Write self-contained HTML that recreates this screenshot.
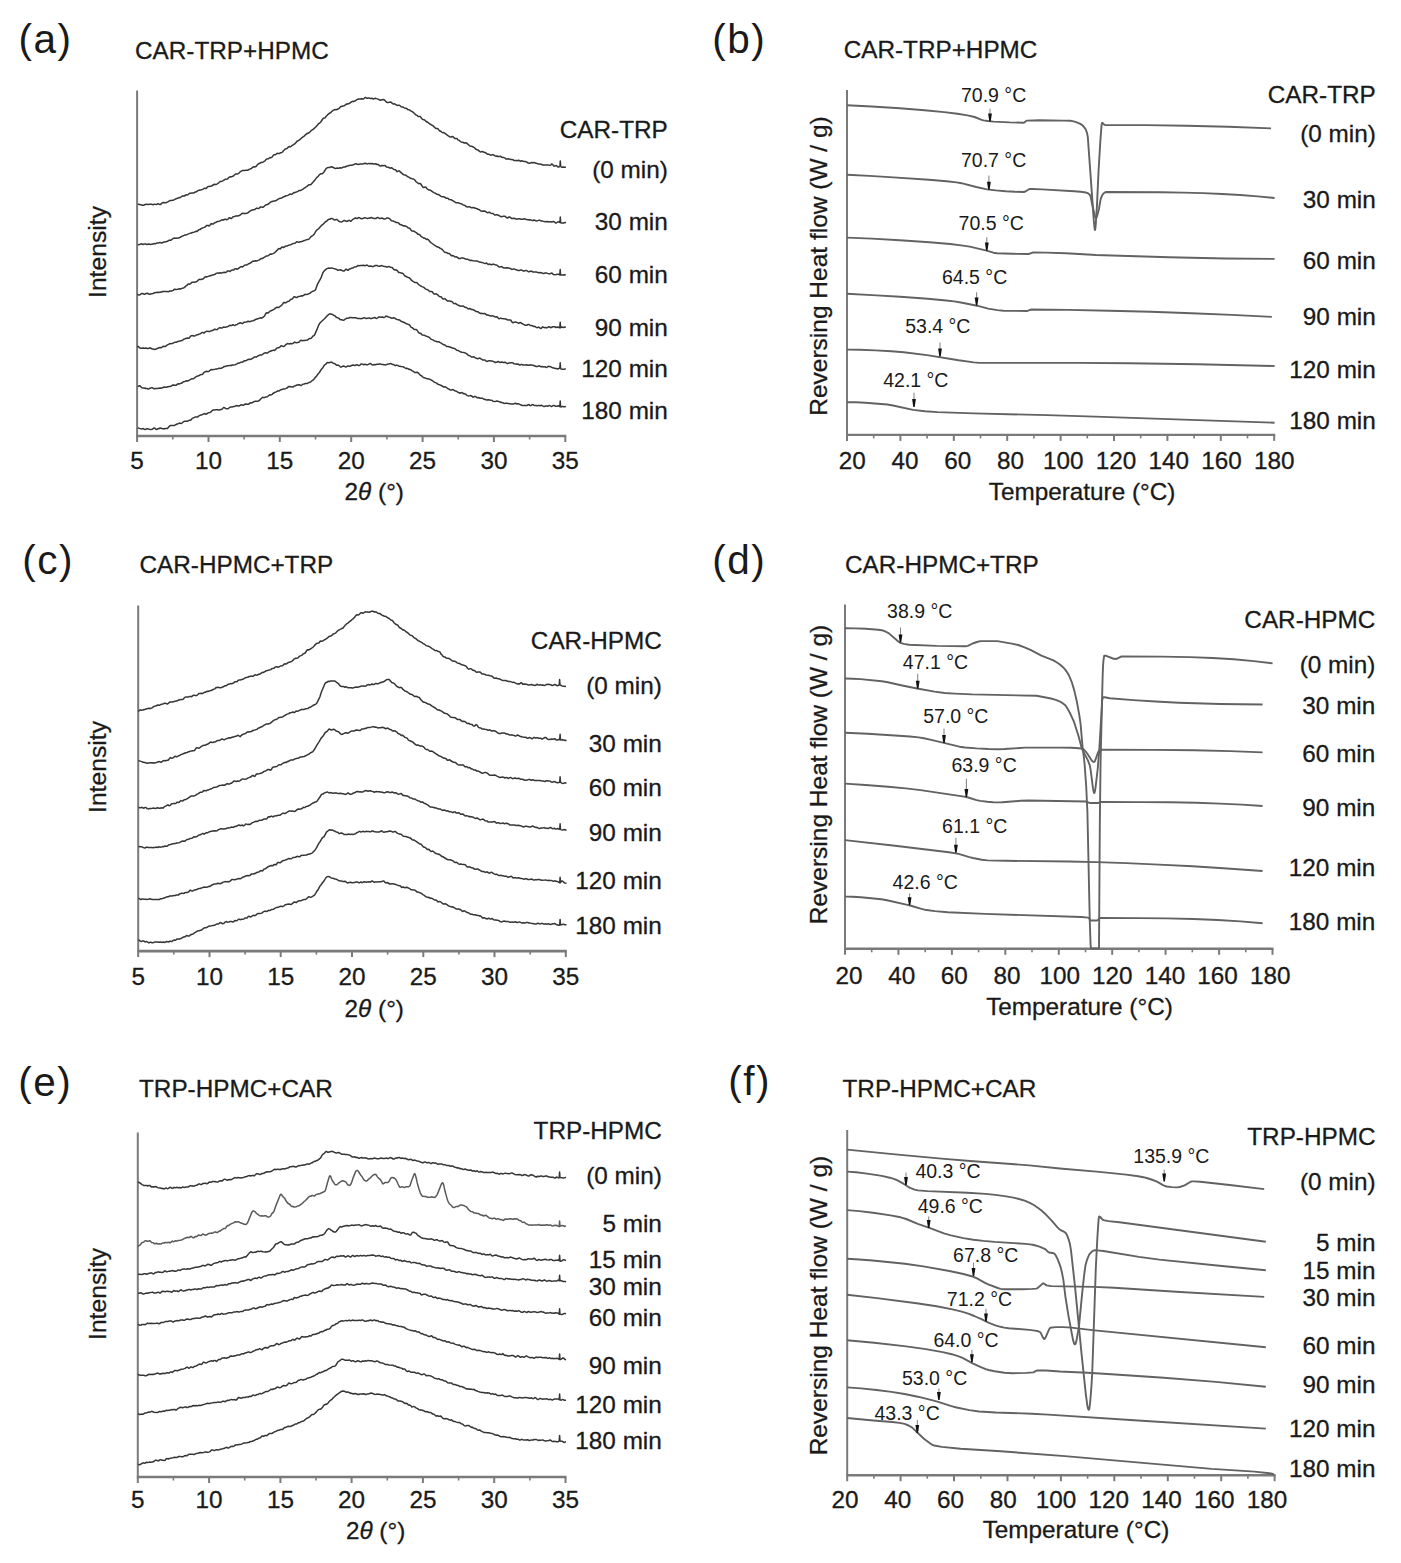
<!DOCTYPE html>
<html><head><meta charset="utf-8"><style>
html,body{margin:0;padding:0;background:#fff;}
svg{display:block;}
text{font-family:"Liberation Sans", sans-serif;stroke:#1a1a1a;stroke-width:0.3px;}
</style></head><body>
<svg width="1401" height="1563" viewBox="0 0 1401 1563">
<rect width="1401" height="1563" fill="#fff"/>
<text x="18.6" y="52.8" font-size="40.5" text-anchor="start" fill="#1a1a1a" letter-spacing="1.5" style="stroke-width:0">(a)</text>
<text x="712.2" y="52.8" font-size="40.5" text-anchor="start" fill="#1a1a1a" letter-spacing="1.5" style="stroke-width:0">(b)</text>
<text x="22.2" y="574.3" font-size="40.5" text-anchor="start" fill="#1a1a1a" letter-spacing="1.5" style="stroke-width:0">(c)</text>
<text x="712.2" y="574.3" font-size="40.5" text-anchor="start" fill="#1a1a1a" letter-spacing="1.5" style="stroke-width:0">(d)</text>
<text x="18.2" y="1095.8" font-size="40.5" text-anchor="start" fill="#1a1a1a" letter-spacing="1.5" style="stroke-width:0">(e)</text>
<text x="728.2" y="1095.3" font-size="40.5" text-anchor="start" fill="#1a1a1a" letter-spacing="1.5" style="stroke-width:0">(f)</text>
<text x="135.0" y="59.0" font-size="24.3" text-anchor="start" fill="#1a1a1a" >CAR-TRP+HPMC</text>
<text x="843.7" y="58.2" font-size="24.3" text-anchor="start" fill="#1a1a1a" >CAR-TRP+HPMC</text>
<text x="139.5" y="573.0" font-size="24.3" text-anchor="start" fill="#1a1a1a" >CAR-HPMC+TRP</text>
<text x="845.0" y="573.2" font-size="24.3" text-anchor="start" fill="#1a1a1a" >CAR-HPMC+TRP</text>
<text x="139.0" y="1097.0" font-size="24.3" text-anchor="start" fill="#1a1a1a" >TRP-HPMC+CAR</text>
<text x="842.5" y="1097.0" font-size="24.3" text-anchor="start" fill="#1a1a1a" >TRP-HPMC+CAR</text>
<line x1="137.1" y1="90.5" x2="137.1" y2="442.0" stroke="#7a7a7a" stroke-width="2"/>
<line x1="136.1" y1="436.0" x2="566.3" y2="436.0" stroke="#7a7a7a" stroke-width="2.6"/>
<line x1="172.8" y1="436.0" x2="172.8" y2="439.5" stroke="#7a7a7a" stroke-width="1.6"/>
<line x1="208.5" y1="436.0" x2="208.5" y2="442.0" stroke="#7a7a7a" stroke-width="2"/>
<line x1="244.1" y1="436.0" x2="244.1" y2="439.5" stroke="#7a7a7a" stroke-width="1.6"/>
<line x1="279.8" y1="436.0" x2="279.8" y2="442.0" stroke="#7a7a7a" stroke-width="2"/>
<line x1="315.5" y1="436.0" x2="315.5" y2="439.5" stroke="#7a7a7a" stroke-width="1.6"/>
<line x1="351.2" y1="436.0" x2="351.2" y2="442.0" stroke="#7a7a7a" stroke-width="2"/>
<line x1="386.9" y1="436.0" x2="386.9" y2="439.5" stroke="#7a7a7a" stroke-width="1.6"/>
<line x1="422.6" y1="436.0" x2="422.6" y2="442.0" stroke="#7a7a7a" stroke-width="2"/>
<line x1="458.2" y1="436.0" x2="458.2" y2="439.5" stroke="#7a7a7a" stroke-width="1.6"/>
<line x1="493.9" y1="436.0" x2="493.9" y2="442.0" stroke="#7a7a7a" stroke-width="2"/>
<line x1="529.6" y1="436.0" x2="529.6" y2="439.5" stroke="#7a7a7a" stroke-width="1.6"/>
<line x1="565.3" y1="436.0" x2="565.3" y2="442.0" stroke="#7a7a7a" stroke-width="2"/>
<text x="137.1" y="469.3" font-size="24.3" text-anchor="middle" fill="#1a1a1a" >5</text>
<text x="208.5" y="469.3" font-size="24.3" text-anchor="middle" fill="#1a1a1a" >10</text>
<text x="279.8" y="469.3" font-size="24.3" text-anchor="middle" fill="#1a1a1a" >15</text>
<text x="351.2" y="469.3" font-size="24.3" text-anchor="middle" fill="#1a1a1a" >20</text>
<text x="422.6" y="469.3" font-size="24.3" text-anchor="middle" fill="#1a1a1a" >25</text>
<text x="493.9" y="469.3" font-size="24.3" text-anchor="middle" fill="#1a1a1a" >30</text>
<text x="565.3" y="469.3" font-size="24.3" text-anchor="middle" fill="#1a1a1a" >35</text>
<text x="344.6" y="500.4" font-size="24.3" fill="#1a1a1a">2<tspan font-style="italic">θ</tspan> (°)</text>
<text transform="translate(106.1,252.0) rotate(-90)" font-size="24.7" text-anchor="middle" fill="#1a1a1a">Intensity</text>
<line x1="138.2" y1="605.5" x2="138.2" y2="957.1" stroke="#7a7a7a" stroke-width="2"/>
<line x1="137.2" y1="951.1" x2="566.8" y2="951.1" stroke="#7a7a7a" stroke-width="2.6"/>
<line x1="173.8" y1="951.1" x2="173.8" y2="954.6" stroke="#7a7a7a" stroke-width="1.6"/>
<line x1="209.5" y1="951.1" x2="209.5" y2="957.1" stroke="#7a7a7a" stroke-width="2"/>
<line x1="245.1" y1="951.1" x2="245.1" y2="954.6" stroke="#7a7a7a" stroke-width="1.6"/>
<line x1="280.7" y1="951.1" x2="280.7" y2="957.1" stroke="#7a7a7a" stroke-width="2"/>
<line x1="316.4" y1="951.1" x2="316.4" y2="954.6" stroke="#7a7a7a" stroke-width="1.6"/>
<line x1="352.0" y1="951.1" x2="352.0" y2="957.1" stroke="#7a7a7a" stroke-width="2"/>
<line x1="387.6" y1="951.1" x2="387.6" y2="954.6" stroke="#7a7a7a" stroke-width="1.6"/>
<line x1="423.3" y1="951.1" x2="423.3" y2="957.1" stroke="#7a7a7a" stroke-width="2"/>
<line x1="458.9" y1="951.1" x2="458.9" y2="954.6" stroke="#7a7a7a" stroke-width="1.6"/>
<line x1="494.5" y1="951.1" x2="494.5" y2="957.1" stroke="#7a7a7a" stroke-width="2"/>
<line x1="530.2" y1="951.1" x2="530.2" y2="954.6" stroke="#7a7a7a" stroke-width="1.6"/>
<line x1="565.8" y1="951.1" x2="565.8" y2="957.1" stroke="#7a7a7a" stroke-width="2"/>
<text x="138.2" y="984.6" font-size="24.3" text-anchor="middle" fill="#1a1a1a" >5</text>
<text x="209.5" y="984.6" font-size="24.3" text-anchor="middle" fill="#1a1a1a" >10</text>
<text x="280.7" y="984.6" font-size="24.3" text-anchor="middle" fill="#1a1a1a" >15</text>
<text x="352.0" y="984.6" font-size="24.3" text-anchor="middle" fill="#1a1a1a" >20</text>
<text x="423.3" y="984.6" font-size="24.3" text-anchor="middle" fill="#1a1a1a" >25</text>
<text x="494.5" y="984.6" font-size="24.3" text-anchor="middle" fill="#1a1a1a" >30</text>
<text x="565.8" y="984.6" font-size="24.3" text-anchor="middle" fill="#1a1a1a" >35</text>
<text x="344.6" y="1017.0" font-size="24.3" fill="#1a1a1a">2<tspan font-style="italic">θ</tspan> (°)</text>
<text transform="translate(106.1,767.0) rotate(-90)" font-size="24.7" text-anchor="middle" fill="#1a1a1a">Intensity</text>
<line x1="137.8" y1="1132.5" x2="137.8" y2="1483.0" stroke="#7a7a7a" stroke-width="2"/>
<line x1="136.8" y1="1477.0" x2="566.5" y2="1477.0" stroke="#7a7a7a" stroke-width="2.6"/>
<line x1="173.4" y1="1477.0" x2="173.4" y2="1480.5" stroke="#7a7a7a" stroke-width="1.6"/>
<line x1="209.1" y1="1477.0" x2="209.1" y2="1483.0" stroke="#7a7a7a" stroke-width="2"/>
<line x1="244.7" y1="1477.0" x2="244.7" y2="1480.5" stroke="#7a7a7a" stroke-width="1.6"/>
<line x1="280.4" y1="1477.0" x2="280.4" y2="1483.0" stroke="#7a7a7a" stroke-width="2"/>
<line x1="316.0" y1="1477.0" x2="316.0" y2="1480.5" stroke="#7a7a7a" stroke-width="1.6"/>
<line x1="351.6" y1="1477.0" x2="351.6" y2="1483.0" stroke="#7a7a7a" stroke-width="2"/>
<line x1="387.3" y1="1477.0" x2="387.3" y2="1480.5" stroke="#7a7a7a" stroke-width="1.6"/>
<line x1="422.9" y1="1477.0" x2="422.9" y2="1483.0" stroke="#7a7a7a" stroke-width="2"/>
<line x1="458.6" y1="1477.0" x2="458.6" y2="1480.5" stroke="#7a7a7a" stroke-width="1.6"/>
<line x1="494.2" y1="1477.0" x2="494.2" y2="1483.0" stroke="#7a7a7a" stroke-width="2"/>
<line x1="529.9" y1="1477.0" x2="529.9" y2="1480.5" stroke="#7a7a7a" stroke-width="1.6"/>
<line x1="565.5" y1="1477.0" x2="565.5" y2="1483.0" stroke="#7a7a7a" stroke-width="2"/>
<text x="137.8" y="1507.8" font-size="24.3" text-anchor="middle" fill="#1a1a1a" >5</text>
<text x="209.1" y="1507.8" font-size="24.3" text-anchor="middle" fill="#1a1a1a" >10</text>
<text x="280.4" y="1507.8" font-size="24.3" text-anchor="middle" fill="#1a1a1a" >15</text>
<text x="351.6" y="1507.8" font-size="24.3" text-anchor="middle" fill="#1a1a1a" >20</text>
<text x="422.9" y="1507.8" font-size="24.3" text-anchor="middle" fill="#1a1a1a" >25</text>
<text x="494.2" y="1507.8" font-size="24.3" text-anchor="middle" fill="#1a1a1a" >30</text>
<text x="565.5" y="1507.8" font-size="24.3" text-anchor="middle" fill="#1a1a1a" >35</text>
<text x="345.9" y="1538.5" font-size="24.3" fill="#1a1a1a">2<tspan font-style="italic">θ</tspan> (°)</text>
<text transform="translate(106.1,1294.0) rotate(-90)" font-size="24.7" text-anchor="middle" fill="#1a1a1a">Intensity</text>
<line x1="847.0" y1="90.0" x2="847.0" y2="440.9" stroke="#7a7a7a" stroke-width="2"/>
<line x1="846.0" y1="434.9" x2="1275.2" y2="434.9" stroke="#7a7a7a" stroke-width="2.4"/>
<line x1="873.7" y1="434.9" x2="873.7" y2="438.4" stroke="#7a7a7a" stroke-width="1.6"/>
<line x1="900.4" y1="434.9" x2="900.4" y2="440.9" stroke="#7a7a7a" stroke-width="2"/>
<line x1="927.1" y1="434.9" x2="927.1" y2="438.4" stroke="#7a7a7a" stroke-width="1.6"/>
<line x1="953.8" y1="434.9" x2="953.8" y2="440.9" stroke="#7a7a7a" stroke-width="2"/>
<line x1="980.5" y1="434.9" x2="980.5" y2="438.4" stroke="#7a7a7a" stroke-width="1.6"/>
<line x1="1007.2" y1="434.9" x2="1007.2" y2="440.9" stroke="#7a7a7a" stroke-width="2"/>
<line x1="1033.9" y1="434.9" x2="1033.9" y2="438.4" stroke="#7a7a7a" stroke-width="1.6"/>
<line x1="1060.6" y1="434.9" x2="1060.6" y2="440.9" stroke="#7a7a7a" stroke-width="2"/>
<line x1="1087.3" y1="434.9" x2="1087.3" y2="438.4" stroke="#7a7a7a" stroke-width="1.6"/>
<line x1="1114.0" y1="434.9" x2="1114.0" y2="440.9" stroke="#7a7a7a" stroke-width="2"/>
<line x1="1140.7" y1="434.9" x2="1140.7" y2="438.4" stroke="#7a7a7a" stroke-width="1.6"/>
<line x1="1167.4" y1="434.9" x2="1167.4" y2="440.9" stroke="#7a7a7a" stroke-width="2"/>
<line x1="1194.1" y1="434.9" x2="1194.1" y2="438.4" stroke="#7a7a7a" stroke-width="1.6"/>
<line x1="1220.8" y1="434.9" x2="1220.8" y2="440.9" stroke="#7a7a7a" stroke-width="2"/>
<line x1="1247.5" y1="434.9" x2="1247.5" y2="438.4" stroke="#7a7a7a" stroke-width="1.6"/>
<line x1="1274.2" y1="434.9" x2="1274.2" y2="440.9" stroke="#7a7a7a" stroke-width="2"/>
<text x="852.2" y="468.5" font-size="24.3" text-anchor="middle" fill="#1a1a1a" >20</text>
<text x="905.0" y="468.5" font-size="24.3" text-anchor="middle" fill="#1a1a1a" >40</text>
<text x="957.7" y="468.5" font-size="24.3" text-anchor="middle" fill="#1a1a1a" >60</text>
<text x="1010.5" y="468.5" font-size="24.3" text-anchor="middle" fill="#1a1a1a" >80</text>
<text x="1063.2" y="468.5" font-size="24.3" text-anchor="middle" fill="#1a1a1a" >100</text>
<text x="1116.0" y="468.5" font-size="24.3" text-anchor="middle" fill="#1a1a1a" >120</text>
<text x="1168.7" y="468.5" font-size="24.3" text-anchor="middle" fill="#1a1a1a" >140</text>
<text x="1221.5" y="468.5" font-size="24.3" text-anchor="middle" fill="#1a1a1a" >160</text>
<text x="1274.2" y="468.5" font-size="24.3" text-anchor="middle" fill="#1a1a1a" >180</text>
<text x="988.8" y="499.8" font-size="24.3" text-anchor="start" fill="#1a1a1a" >Temperature (°C)</text>
<text transform="translate(826.6,266.0) rotate(-90)" font-size="24.5" text-anchor="middle" fill="#1a1a1a">Reversing Heat flow (W / g)</text>
<line x1="845.0" y1="604.5" x2="845.0" y2="954.8" stroke="#7a7a7a" stroke-width="2"/>
<line x1="844.0" y1="948.8" x2="1273.5" y2="948.8" stroke="#7a7a7a" stroke-width="2.4"/>
<line x1="871.7" y1="948.8" x2="871.7" y2="952.3" stroke="#7a7a7a" stroke-width="1.6"/>
<line x1="898.4" y1="948.8" x2="898.4" y2="954.8" stroke="#7a7a7a" stroke-width="2"/>
<line x1="925.2" y1="948.8" x2="925.2" y2="952.3" stroke="#7a7a7a" stroke-width="1.6"/>
<line x1="951.9" y1="948.8" x2="951.9" y2="954.8" stroke="#7a7a7a" stroke-width="2"/>
<line x1="978.6" y1="948.8" x2="978.6" y2="952.3" stroke="#7a7a7a" stroke-width="1.6"/>
<line x1="1005.3" y1="948.8" x2="1005.3" y2="954.8" stroke="#7a7a7a" stroke-width="2"/>
<line x1="1032.0" y1="948.8" x2="1032.0" y2="952.3" stroke="#7a7a7a" stroke-width="1.6"/>
<line x1="1058.8" y1="948.8" x2="1058.8" y2="954.8" stroke="#7a7a7a" stroke-width="2"/>
<line x1="1085.5" y1="948.8" x2="1085.5" y2="952.3" stroke="#7a7a7a" stroke-width="1.6"/>
<line x1="1112.2" y1="948.8" x2="1112.2" y2="954.8" stroke="#7a7a7a" stroke-width="2"/>
<line x1="1138.9" y1="948.8" x2="1138.9" y2="952.3" stroke="#7a7a7a" stroke-width="1.6"/>
<line x1="1165.6" y1="948.8" x2="1165.6" y2="954.8" stroke="#7a7a7a" stroke-width="2"/>
<line x1="1192.3" y1="948.8" x2="1192.3" y2="952.3" stroke="#7a7a7a" stroke-width="1.6"/>
<line x1="1219.1" y1="948.8" x2="1219.1" y2="954.8" stroke="#7a7a7a" stroke-width="2"/>
<line x1="1245.8" y1="948.8" x2="1245.8" y2="952.3" stroke="#7a7a7a" stroke-width="1.6"/>
<line x1="1272.5" y1="948.8" x2="1272.5" y2="954.8" stroke="#7a7a7a" stroke-width="2"/>
<text x="849.0" y="983.5" font-size="24.3" text-anchor="middle" fill="#1a1a1a" >20</text>
<text x="901.7" y="983.5" font-size="24.3" text-anchor="middle" fill="#1a1a1a" >40</text>
<text x="954.3" y="983.5" font-size="24.3" text-anchor="middle" fill="#1a1a1a" >60</text>
<text x="1007.0" y="983.5" font-size="24.3" text-anchor="middle" fill="#1a1a1a" >80</text>
<text x="1059.7" y="983.5" font-size="24.3" text-anchor="middle" fill="#1a1a1a" >100</text>
<text x="1112.3" y="983.5" font-size="24.3" text-anchor="middle" fill="#1a1a1a" >120</text>
<text x="1165.0" y="983.5" font-size="24.3" text-anchor="middle" fill="#1a1a1a" >140</text>
<text x="1217.6" y="983.5" font-size="24.3" text-anchor="middle" fill="#1a1a1a" >160</text>
<text x="1270.3" y="983.5" font-size="24.3" text-anchor="middle" fill="#1a1a1a" >180</text>
<text x="986.2" y="1014.8" font-size="24.3" text-anchor="start" fill="#1a1a1a" >Temperature (°C)</text>
<text transform="translate(826.6,774.5) rotate(-90)" font-size="24.5" text-anchor="middle" fill="#1a1a1a">Reversing Heat flow (W / g)</text>
<line x1="847.2" y1="1130.0" x2="847.2" y2="1481.2" stroke="#7a7a7a" stroke-width="2"/>
<line x1="846.2" y1="1475.2" x2="1275.6" y2="1475.2" stroke="#7a7a7a" stroke-width="2.4"/>
<line x1="873.9" y1="1475.2" x2="873.9" y2="1478.7" stroke="#7a7a7a" stroke-width="1.6"/>
<line x1="900.6" y1="1475.2" x2="900.6" y2="1481.2" stroke="#7a7a7a" stroke-width="2"/>
<line x1="927.3" y1="1475.2" x2="927.3" y2="1478.7" stroke="#7a7a7a" stroke-width="1.6"/>
<line x1="954.0" y1="1475.2" x2="954.0" y2="1481.2" stroke="#7a7a7a" stroke-width="2"/>
<line x1="980.8" y1="1475.2" x2="980.8" y2="1478.7" stroke="#7a7a7a" stroke-width="1.6"/>
<line x1="1007.5" y1="1475.2" x2="1007.5" y2="1481.2" stroke="#7a7a7a" stroke-width="2"/>
<line x1="1034.2" y1="1475.2" x2="1034.2" y2="1478.7" stroke="#7a7a7a" stroke-width="1.6"/>
<line x1="1060.9" y1="1475.2" x2="1060.9" y2="1481.2" stroke="#7a7a7a" stroke-width="2"/>
<line x1="1087.6" y1="1475.2" x2="1087.6" y2="1478.7" stroke="#7a7a7a" stroke-width="1.6"/>
<line x1="1114.3" y1="1475.2" x2="1114.3" y2="1481.2" stroke="#7a7a7a" stroke-width="2"/>
<line x1="1141.0" y1="1475.2" x2="1141.0" y2="1478.7" stroke="#7a7a7a" stroke-width="1.6"/>
<line x1="1167.8" y1="1475.2" x2="1167.8" y2="1481.2" stroke="#7a7a7a" stroke-width="2"/>
<line x1="1194.5" y1="1475.2" x2="1194.5" y2="1478.7" stroke="#7a7a7a" stroke-width="1.6"/>
<line x1="1221.2" y1="1475.2" x2="1221.2" y2="1481.2" stroke="#7a7a7a" stroke-width="2"/>
<line x1="1247.9" y1="1475.2" x2="1247.9" y2="1478.7" stroke="#7a7a7a" stroke-width="1.6"/>
<line x1="1274.6" y1="1475.2" x2="1274.6" y2="1481.2" stroke="#7a7a7a" stroke-width="2"/>
<text x="845.0" y="1508.1" font-size="24.3" text-anchor="middle" fill="#1a1a1a" >20</text>
<text x="897.8" y="1508.1" font-size="24.3" text-anchor="middle" fill="#1a1a1a" >40</text>
<text x="950.5" y="1508.1" font-size="24.3" text-anchor="middle" fill="#1a1a1a" >60</text>
<text x="1003.2" y="1508.1" font-size="24.3" text-anchor="middle" fill="#1a1a1a" >80</text>
<text x="1056.0" y="1508.1" font-size="24.3" text-anchor="middle" fill="#1a1a1a" >100</text>
<text x="1108.8" y="1508.1" font-size="24.3" text-anchor="middle" fill="#1a1a1a" >120</text>
<text x="1161.5" y="1508.1" font-size="24.3" text-anchor="middle" fill="#1a1a1a" >140</text>
<text x="1214.2" y="1508.1" font-size="24.3" text-anchor="middle" fill="#1a1a1a" >160</text>
<text x="1267.0" y="1508.1" font-size="24.3" text-anchor="middle" fill="#1a1a1a" >180</text>
<text x="982.7" y="1538.0" font-size="24.3" text-anchor="start" fill="#1a1a1a" >Temperature (°C)</text>
<text transform="translate(826.6,1305.6) rotate(-90)" font-size="24.5" text-anchor="middle" fill="#1a1a1a">Reversing Heat flow (W / g)</text>
<text x="667.8" y="137.7" font-size="24.3" text-anchor="end" fill="#1a1a1a" >CAR-TRP</text>
<text x="667.8" y="177.7" font-size="24.3" text-anchor="end" fill="#1a1a1a" >(0 min)</text>
<text x="667.8" y="230.2" font-size="24.3" text-anchor="end" fill="#1a1a1a" >30 min</text>
<text x="667.8" y="282.8" font-size="24.3" text-anchor="end" fill="#1a1a1a" >60 min</text>
<text x="667.8" y="336.4" font-size="24.3" text-anchor="end" fill="#1a1a1a" >90 min</text>
<text x="667.8" y="376.7" font-size="24.3" text-anchor="end" fill="#1a1a1a" >120 min</text>
<text x="667.8" y="418.8" font-size="24.3" text-anchor="end" fill="#1a1a1a" >180 min</text>
<text x="661.8" y="649.2" font-size="24.3" text-anchor="end" fill="#1a1a1a" >CAR-HPMC</text>
<text x="661.8" y="693.8" font-size="24.3" text-anchor="end" fill="#1a1a1a" >(0 min)</text>
<text x="661.8" y="751.5" font-size="24.3" text-anchor="end" fill="#1a1a1a" >30 min</text>
<text x="661.8" y="796.1" font-size="24.3" text-anchor="end" fill="#1a1a1a" >60 min</text>
<text x="661.8" y="840.7" font-size="24.3" text-anchor="end" fill="#1a1a1a" >90 min</text>
<text x="661.8" y="888.6" font-size="24.3" text-anchor="end" fill="#1a1a1a" >120 min</text>
<text x="661.8" y="934.3" font-size="24.3" text-anchor="end" fill="#1a1a1a" >180 min</text>
<text x="661.8" y="1139.0" font-size="24.3" text-anchor="end" fill="#1a1a1a" >TRP-HPMC</text>
<text x="661.8" y="1183.8" font-size="24.3" text-anchor="end" fill="#1a1a1a" >(0 min)</text>
<text x="661.8" y="1232.0" font-size="24.3" text-anchor="end" fill="#1a1a1a" >5 min</text>
<text x="661.8" y="1267.8" font-size="24.3" text-anchor="end" fill="#1a1a1a" >15 min</text>
<text x="661.8" y="1294.7" font-size="24.3" text-anchor="end" fill="#1a1a1a" >30 min</text>
<text x="661.8" y="1326.0" font-size="24.3" text-anchor="end" fill="#1a1a1a" >60 min</text>
<text x="661.8" y="1374.2" font-size="24.3" text-anchor="end" fill="#1a1a1a" >90 min</text>
<text x="661.8" y="1413.4" font-size="24.3" text-anchor="end" fill="#1a1a1a" >120 min</text>
<text x="661.8" y="1449.2" font-size="24.3" text-anchor="end" fill="#1a1a1a" >180 min</text>
<text x="1375.8" y="103.4" font-size="24.3" text-anchor="end" fill="#1a1a1a" >CAR-TRP</text>
<text x="1375.8" y="142.0" font-size="24.3" text-anchor="end" fill="#1a1a1a" >(0 min)</text>
<text x="1375.8" y="207.6" font-size="24.3" text-anchor="end" fill="#1a1a1a" >30 min</text>
<text x="1375.8" y="268.8" font-size="24.3" text-anchor="end" fill="#1a1a1a" >60 min</text>
<text x="1375.8" y="325.1" font-size="24.3" text-anchor="end" fill="#1a1a1a" >90 min</text>
<text x="1375.8" y="377.6" font-size="24.3" text-anchor="end" fill="#1a1a1a" >120 min</text>
<text x="1375.8" y="428.7" font-size="24.3" text-anchor="end" fill="#1a1a1a" >180 min</text>
<text x="1375.3" y="628.0" font-size="24.3" text-anchor="end" fill="#1a1a1a" >CAR-HPMC</text>
<text x="1375.3" y="672.7" font-size="24.3" text-anchor="end" fill="#1a1a1a" >(0 min)</text>
<text x="1375.3" y="714.1" font-size="24.3" text-anchor="end" fill="#1a1a1a" >30 min</text>
<text x="1375.3" y="762.3" font-size="24.3" text-anchor="end" fill="#1a1a1a" >60 min</text>
<text x="1375.3" y="816.0" font-size="24.3" text-anchor="end" fill="#1a1a1a" >90 min</text>
<text x="1375.3" y="876.4" font-size="24.3" text-anchor="end" fill="#1a1a1a" >120 min</text>
<text x="1375.3" y="930.1" font-size="24.3" text-anchor="end" fill="#1a1a1a" >180 min</text>
<text x="1375.5" y="1145.4" font-size="24.3" text-anchor="end" fill="#1a1a1a" >TRP-HPMC</text>
<text x="1375.5" y="1190.3" font-size="24.3" text-anchor="end" fill="#1a1a1a" >(0 min)</text>
<text x="1375.5" y="1251.4" font-size="24.3" text-anchor="end" fill="#1a1a1a" >5 min</text>
<text x="1375.5" y="1279.0" font-size="24.3" text-anchor="end" fill="#1a1a1a" >15 min</text>
<text x="1375.5" y="1305.5" font-size="24.3" text-anchor="end" fill="#1a1a1a" >30 min</text>
<text x="1375.5" y="1353.9" font-size="24.3" text-anchor="end" fill="#1a1a1a" >60 min</text>
<text x="1375.5" y="1393.1" font-size="24.3" text-anchor="end" fill="#1a1a1a" >90 min</text>
<text x="1375.5" y="1436.9" font-size="24.3" text-anchor="end" fill="#1a1a1a" >120 min</text>
<text x="1375.5" y="1477.2" font-size="24.3" text-anchor="end" fill="#1a1a1a" >180 min</text>
<path d="M137.9 204.3L138.7 204.2L142.7 205.3L143.5 205.3L145.9 204.3L146.7 204.3L147.5 204.5L148.3 204.5L149.1 204.3L150.7 204.2L151.5 204.3L153.1 204.7L154.7 204.1L156.3 204.6L157.9 203.7L158.7 203.9L159.5 204.5L160.3 204.5L161.1 204.0L161.9 203.1L162.7 202.7L163.5 202.6L165.1 202.8L165.9 202.7L168.3 201.6L169.9 200.5L171.5 200.5L173.9 199.9L175.5 199.0L176.3 198.8L177.9 198.1L180.3 197.5L181.9 196.3L182.7 195.8L183.5 196.1L184.3 196.0L185.9 195.0L186.7 194.8L187.5 194.9L188.3 194.6L189.1 193.7L189.9 193.2L190.7 193.3L192.3 193.1L193.1 193.1L193.9 192.9L194.7 192.3L196.3 191.8L197.9 190.7L198.7 190.3L199.5 190.3L202.7 189.4L203.5 188.9L204.3 188.2L205.1 188.3L205.9 188.5L206.7 188.0L207.5 186.9L208.3 186.5L209.1 186.5L211.5 186.0L213.9 184.5L214.7 184.3L215.5 184.5L216.3 184.5L218.7 182.8L220.3 181.4L221.9 181.2L222.7 180.9L223.5 180.4L224.3 180.0L225.1 179.2L227.5 179.1L229.1 177.3L230.7 176.7L231.5 176.8L232.3 176.3L233.1 176.3L234.7 174.7L235.5 174.0L237.1 174.0L237.9 173.7L238.7 173.3L240.3 171.7L241.9 170.8L242.7 170.6L244.3 170.5L245.9 170.2L247.5 170.3L248.3 170.0L249.1 169.4L251.5 168.5L252.3 167.6L253.1 167.0L253.9 166.8L254.7 167.0L256.3 166.3L257.1 165.1L258.7 163.5L259.5 163.4L261.1 162.5L261.9 162.5L263.5 161.9L264.3 161.2L265.1 160.8L265.9 159.6L266.7 159.0L268.3 158.8L269.9 157.5L270.7 157.7L271.5 157.5L272.3 156.9L273.1 155.5L273.9 154.8L275.5 154.7L277.1 153.3L277.9 153.4L278.7 153.6L279.5 153.4L280.3 152.8L281.1 152.8L281.9 152.4L282.7 151.9L283.5 150.6L284.3 150.0L285.1 149.1L286.7 148.5L287.5 148.1L288.3 147.0L289.1 146.6L290.7 146.7L292.3 145.3L294.7 143.9L296.3 142.3L297.1 141.1L297.9 140.9L299.5 139.9L301.9 137.7L303.5 136.7L305.9 134.4L306.7 133.8L309.1 132.7L309.9 132.0L311.5 130.3L313.1 129.4L316.3 126.5L318.7 123.5L319.5 123.2L320.3 122.5L321.1 121.5L322.7 119.0L323.5 118.2L324.3 117.9L325.1 117.8L325.9 116.6L327.5 114.9L329.9 112.9L330.7 112.7L331.5 111.8L333.1 110.4L334.7 109.6L336.3 109.7L337.9 109.0L338.7 108.8L339.5 108.1L340.3 106.9L341.1 106.4L344.3 105.7L345.9 104.5L346.7 104.0L347.5 104.1L348.3 103.8L349.1 103.6L351.5 101.8L353.1 101.3L353.9 101.4L355.5 100.7L356.3 100.0L357.9 99.2L358.7 99.0L359.5 99.1L361.9 98.7L362.7 99.1L363.5 99.0L365.1 97.5L365.9 97.6L366.7 98.2L367.5 98.3L368.3 98.0L369.1 97.9L369.9 98.3L370.7 98.5L372.3 98.2L373.1 98.9L373.9 98.9L375.5 98.2L376.3 98.6L378.7 99.4L379.5 100.0L380.3 100.2L381.9 99.7L383.5 99.4L384.3 99.8L385.1 100.6L385.9 101.6L386.7 102.3L387.5 102.6L388.3 102.6L390.7 102.1L391.5 102.5L392.3 103.4L393.1 104.0L393.9 104.0L394.7 103.8L397.1 105.4L398.7 105.2L399.5 105.2L401.1 106.7L403.5 107.3L404.3 108.0L405.9 108.2L406.7 108.6L407.5 109.4L409.1 109.8L409.9 110.2L410.7 110.9L412.3 111.7L413.9 112.9L414.7 113.9L416.3 115.1L417.1 115.4L417.9 116.2L418.7 116.5L420.3 116.6L421.9 118.7L422.7 119.4L423.5 119.7L424.3 119.7L426.7 121.9L427.5 122.1L429.9 124.0L432.3 125.3L433.1 125.9L435.5 128.3L436.3 128.6L437.1 128.5L437.9 128.7L439.5 130.9L440.3 131.0L441.1 131.5L441.9 132.3L442.7 132.7L443.5 132.5L444.3 132.9L448.3 135.9L449.1 136.3L449.9 136.9L451.5 137.0L452.3 136.5L453.1 136.8L453.9 137.5L454.7 138.6L456.3 138.5L457.1 138.6L457.9 139.8L458.7 140.2L461.1 142.0L462.7 142.3L464.3 143.0L465.1 142.8L466.7 143.1L469.9 146.0L472.3 146.5L473.9 147.3L474.7 148.0L475.5 149.0L477.1 149.7L477.9 149.9L479.5 151.4L480.3 151.9L481.1 151.8L481.9 151.5L483.5 151.9L484.3 152.4L485.1 152.4L487.5 154.2L489.1 154.3L490.7 155.2L491.5 155.1L492.3 154.7L493.1 154.8L493.9 155.1L494.7 155.7L495.5 155.9L496.3 156.4L497.1 156.0L497.9 156.5L499.5 156.4L500.3 156.2L501.9 157.3L502.7 157.5L503.5 157.4L505.1 158.1L505.9 159.0L507.5 159.0L508.3 158.7L509.1 159.1L509.9 159.2L510.7 159.6L511.5 159.4L513.1 159.7L513.9 160.5L514.7 160.5L516.3 160.4L517.1 160.8L518.7 160.2L519.5 160.6L520.3 161.3L521.9 160.7L523.5 161.4L524.3 161.5L525.1 161.5L526.7 161.9L527.5 162.7L529.1 163.3L530.7 162.9L531.5 162.4L533.1 162.7L533.9 162.6L534.7 162.7L535.5 163.2L536.3 163.3L538.7 164.1L539.5 163.9L540.3 164.2L541.1 164.2L542.7 165.0L545.1 164.9L545.9 165.0L546.7 164.9L547.5 165.0L548.3 164.9L549.9 165.4L550.7 165.1L551.5 164.0L552.3 164.2L553.1 165.0L553.9 166.2L554.7 166.1L556.3 165.5L557.9 166.9L558.7 167.0L559.9 166.4L560.3 160.9L560.7 166.4L561.1 166.9L561.9 167.2L563.5 166.9L565.1 167.3L565.9 167.3" fill="none" stroke="#363636" stroke-width="1.5" stroke-linejoin="round" stroke-opacity="1"/>
<path d="M137.9 244.4L138.7 244.8L139.5 244.6L141.1 243.8L143.5 244.4L144.3 243.9L145.9 244.1L146.7 244.6L147.5 244.2L149.1 244.1L149.9 244.3L150.7 244.4L151.5 244.2L153.1 244.1L153.9 243.7L154.7 243.5L155.5 243.7L156.3 243.4L157.1 243.0L158.7 243.0L159.5 242.6L160.3 242.5L161.1 242.9L161.9 243.0L163.5 242.1L164.3 242.1L165.1 242.0L165.9 241.7L167.5 241.3L169.1 240.2L169.9 240.2L170.7 240.3L173.1 238.5L173.9 238.2L174.7 238.1L175.5 238.2L178.7 238.1L179.5 237.6L180.3 237.3L181.1 236.7L181.9 236.3L182.7 236.1L185.1 234.9L185.9 235.1L189.1 233.6L190.7 233.1L191.5 233.0L192.3 232.5L193.9 232.2L194.7 231.9L195.5 231.4L196.3 231.3L197.1 231.4L198.7 229.9L199.5 229.5L200.3 229.4L201.1 228.6L201.9 228.3L202.7 227.9L204.3 227.4L205.1 227.0L206.7 225.4L207.5 225.4L208.3 225.5L209.1 226.0L209.9 225.2L210.7 224.2L211.5 223.6L212.3 224.1L213.1 224.1L214.7 222.7L216.3 222.2L217.1 221.6L217.9 221.4L219.5 221.2L221.9 219.8L223.5 220.0L224.3 219.5L225.1 219.2L225.9 219.3L226.7 219.8L227.5 219.4L228.3 218.8L229.1 217.8L229.9 217.8L230.7 218.4L231.5 218.4L232.3 217.5L233.1 216.8L234.7 216.4L235.5 216.0L237.1 216.1L238.7 215.8L239.5 215.3L240.3 215.0L241.9 213.5L242.7 213.3L244.3 213.6L245.1 213.4L245.9 213.5L247.5 213.1L249.9 211.1L252.3 210.0L253.1 209.8L253.9 209.8L254.7 209.6L255.5 208.8L256.3 208.3L257.1 208.2L257.9 208.6L258.7 208.5L259.5 207.9L260.3 207.1L261.1 207.0L262.7 207.3L263.5 207.0L265.9 204.8L266.7 204.8L268.3 204.0L269.1 203.5L269.9 202.7L271.5 201.6L272.3 201.6L273.1 201.2L275.5 200.8L279.5 198.4L281.9 197.9L282.7 197.2L285.1 196.3L285.9 195.7L287.5 195.4L288.3 195.1L289.9 194.1L291.5 194.3L292.3 193.8L293.9 192.5L294.7 192.7L295.5 192.3L296.3 192.1L297.9 191.3L298.7 190.7L299.5 190.6L300.3 190.6L303.5 188.8L304.3 188.1L305.1 187.7L305.9 187.0L306.7 186.6L309.1 184.7L310.7 184.7L314.7 180.3L315.5 179.1L316.3 178.1L317.1 177.2L317.9 176.7L318.7 175.6L320.3 173.9L321.1 173.7L321.9 173.8L322.7 173.3L323.5 172.6L324.3 171.5L325.9 168.8L326.7 168.2L328.3 167.4L329.9 167.4L330.7 166.9L331.5 166.8L333.9 167.7L334.7 168.3L335.5 168.4L337.1 168.1L337.9 168.3L338.7 168.3L340.3 167.7L341.9 168.0L343.5 166.9L345.1 167.0L345.9 166.5L346.7 166.3L347.5 165.9L348.3 165.8L349.1 165.4L350.7 165.2L351.5 165.3L352.3 165.2L353.1 164.8L353.9 164.6L355.5 163.7L356.3 163.8L357.1 164.3L357.9 164.4L360.3 163.9L361.1 164.0L362.7 164.0L363.5 163.8L365.1 163.2L365.9 163.4L366.7 163.9L367.5 163.9L368.3 163.6L369.1 163.6L369.9 163.7L370.7 163.6L371.5 163.8L372.3 163.5L373.1 163.9L373.9 164.1L374.7 164.0L375.5 163.8L376.3 164.0L377.1 164.5L377.9 164.5L378.7 164.7L379.5 165.7L380.3 166.1L381.1 165.9L381.9 165.3L382.7 165.8L384.3 165.4L385.1 165.6L386.7 167.1L388.3 167.2L389.9 168.2L391.5 167.7L393.1 168.9L393.9 169.4L395.5 169.7L397.1 171.7L398.7 170.8L399.5 170.9L400.3 172.0L401.1 172.5L401.9 173.4L403.5 174.7L405.1 174.9L405.9 175.2L407.5 176.6L409.1 177.3L410.7 178.4L411.5 178.4L413.1 179.1L413.9 179.2L414.7 179.9L416.3 182.0L418.7 183.7L419.5 183.5L420.3 183.6L421.1 184.4L421.9 185.8L422.7 186.9L423.5 187.6L424.3 187.5L425.1 186.9L425.9 187.2L427.5 189.2L429.1 190.1L429.9 190.0L431.5 190.9L432.3 191.7L433.9 192.6L435.5 193.3L437.1 194.3L437.9 194.6L438.7 194.6L441.1 196.4L442.7 196.8L443.5 196.7L444.3 196.9L445.9 198.2L447.5 198.3L448.3 198.5L449.1 199.5L451.5 199.8L452.3 200.6L453.1 200.8L453.9 201.3L455.5 202.5L456.3 202.7L457.9 202.8L460.3 203.6L461.1 203.7L461.9 204.0L462.7 204.6L463.5 205.0L464.3 205.2L465.1 205.6L466.7 206.8L467.5 206.9L469.1 206.8L469.9 206.8L471.5 207.8L473.9 207.6L474.7 208.1L477.1 208.7L477.9 209.3L479.5 209.7L480.3 210.6L481.1 211.0L481.9 211.2L482.7 211.0L483.5 211.3L484.3 211.1L485.1 211.2L486.7 212.4L487.5 212.7L489.1 212.3L489.9 212.5L490.7 213.1L491.5 213.4L493.1 213.5L494.7 215.0L495.5 215.1L496.3 214.8L497.1 214.8L499.5 215.7L500.3 216.4L501.1 216.7L503.5 216.2L505.1 216.2L505.9 217.2L506.7 217.7L507.5 218.0L509.1 217.0L509.9 217.1L511.5 218.4L514.7 218.3L516.3 219.2L518.7 218.8L519.5 218.7L521.1 219.2L521.9 219.3L522.7 219.2L524.3 218.8L525.1 218.9L525.9 219.4L526.7 219.4L527.5 219.8L528.3 219.8L529.1 220.0L529.9 219.8L530.7 219.9L532.3 220.6L533.1 220.5L533.9 220.0L534.7 220.2L535.5 220.7L536.3 221.0L539.5 220.1L541.1 220.9L542.7 221.1L544.3 221.6L545.1 221.7L547.5 221.5L549.1 221.9L549.9 221.6L550.7 221.9L551.5 221.8L552.3 221.9L553.1 221.4L553.9 221.7L555.5 222.9L556.3 223.0L557.9 221.9L558.7 221.8L559.5 222.0L559.9 222.5L560.3 217.0L560.7 222.5L561.1 222.9L561.9 223.1L563.5 222.9L565.1 222.5L565.9 222.8" fill="none" stroke="#363636" stroke-width="1.5" stroke-linejoin="round" stroke-opacity="1"/>
<path d="M137.0 294.6L139.4 295.0L140.2 294.6L141.8 293.4L142.6 293.5L144.2 294.2L145.0 294.2L145.8 293.6L147.4 293.2L148.2 293.8L149.8 294.4L150.6 293.9L153.0 293.5L154.6 292.8L157.8 292.3L158.6 292.5L159.4 292.2L160.2 292.3L161.0 292.0L161.8 292.0L162.6 291.5L164.2 291.4L165.0 291.6L166.6 291.4L168.2 291.8L169.8 291.0L170.6 290.9L171.4 290.9L173.0 290.5L173.8 289.7L174.6 289.2L176.2 289.5L177.8 289.3L179.4 288.8L181.0 288.9L182.6 288.1L183.4 288.0L184.2 287.6L185.8 286.1L186.6 285.6L188.2 284.1L189.0 284.1L189.8 284.2L190.6 283.7L191.4 282.7L192.2 282.2L193.8 282.2L195.4 282.1L196.2 281.8L197.0 281.4L198.6 279.7L199.4 279.3L201.0 279.5L203.4 278.7L205.0 277.0L205.8 276.7L206.6 277.0L207.4 276.6L209.0 276.1L209.8 276.0L210.6 275.5L211.4 275.6L212.2 275.1L214.6 274.6L216.2 273.4L217.0 273.1L217.8 273.1L218.6 273.3L220.2 272.8L221.8 272.9L222.6 272.8L224.2 272.2L225.0 272.5L225.8 272.4L226.6 272.0L227.4 271.1L229.0 271.1L229.8 271.5L230.6 271.0L231.4 270.4L232.2 270.0L233.0 270.1L233.8 269.9L234.6 269.0L235.4 268.7L236.2 268.7L237.0 269.3L237.8 269.0L238.6 268.4L239.4 267.6L241.0 266.6L242.6 266.9L243.4 266.4L244.2 265.4L245.0 265.1L246.6 265.1L248.2 264.0L250.6 263.0L252.2 261.6L253.0 261.1L253.8 261.3L255.4 260.8L257.0 260.9L259.4 259.9L261.0 258.6L262.6 258.4L264.2 257.3L265.0 256.9L265.8 256.3L266.6 256.0L268.2 255.8L269.8 254.4L270.6 254.0L271.4 254.2L272.2 253.9L273.0 253.6L274.6 252.8L277.0 250.4L278.6 248.6L280.2 248.9L281.0 248.1L281.8 247.0L283.4 247.5L284.2 247.2L285.0 246.5L285.8 246.1L287.4 245.9L289.0 245.1L290.6 244.7L293.0 243.6L294.6 243.3L295.4 243.1L296.2 242.2L297.0 241.7L297.8 242.1L298.6 242.2L299.4 242.2L300.2 241.7L301.0 241.8L301.8 241.6L304.2 240.5L305.0 240.4L307.4 239.4L308.2 239.4L309.0 239.1L310.6 237.1L311.4 236.3L313.0 235.3L313.8 234.6L314.6 233.5L315.4 231.9L317.0 229.8L317.8 229.4L318.6 228.7L321.0 226.0L322.6 224.4L323.4 224.1L325.0 222.2L325.8 221.4L326.6 221.2L328.2 219.6L329.0 219.2L329.8 219.3L330.6 218.7L331.4 218.4L332.2 218.5L333.8 219.7L334.6 220.1L335.4 219.7L336.2 219.4L337.0 219.6L338.6 221.0L339.4 221.5L340.2 221.8L341.8 222.0L342.6 221.3L344.2 220.5L345.8 220.9L346.6 221.4L347.4 221.3L348.2 220.7L349.0 220.3L349.8 220.6L350.6 221.3L351.4 220.8L353.0 219.2L353.8 218.9L355.4 217.8L356.2 218.3L357.0 218.6L357.8 218.3L358.6 217.6L359.4 217.7L361.0 218.7L361.8 218.8L363.4 218.3L365.0 217.6L367.4 218.6L368.2 218.2L369.0 218.2L370.6 217.7L371.4 217.6L372.2 217.8L373.0 218.3L374.6 218.6L375.4 218.5L376.2 218.4L377.0 217.7L377.8 217.4L379.4 218.4L380.2 218.6L381.8 218.0L384.2 219.0L385.8 218.7L386.6 218.0L387.4 218.0L389.0 218.3L389.8 218.8L391.4 220.7L393.0 220.9L396.2 222.5L397.0 222.4L398.6 223.0L399.4 224.0L400.2 224.5L401.8 225.0L403.4 225.9L404.2 225.8L406.6 226.5L407.4 227.1L408.2 228.0L409.8 228.3L411.4 230.6L412.2 231.1L413.0 231.0L413.8 231.1L415.4 232.2L416.2 232.6L417.0 233.2L417.8 234.2L418.6 234.3L419.4 234.6L420.2 235.2L421.0 236.4L422.6 237.3L423.4 238.0L424.2 237.9L425.8 238.9L426.6 239.6L427.4 239.1L428.2 239.6L429.0 240.5L429.8 241.7L431.4 243.0L437.0 246.8L438.6 247.2L439.4 247.6L440.2 248.4L441.8 249.1L442.6 249.9L444.2 251.9L445.0 252.3L445.8 252.5L446.6 252.6L448.2 253.5L449.0 253.5L449.8 253.9L451.4 255.7L453.0 255.6L454.6 256.7L455.4 256.9L456.2 256.7L457.8 257.6L458.6 258.4L459.4 258.6L460.2 258.6L461.0 258.0L462.6 257.9L463.4 258.3L464.2 258.3L465.0 258.8L466.6 259.4L467.4 259.1L469.8 260.4L471.4 260.3L472.2 260.6L473.0 260.8L476.2 261.0L477.0 260.9L479.4 262.1L481.8 262.6L482.6 262.6L485.0 263.6L486.6 263.0L487.4 263.8L488.2 264.4L489.8 264.1L491.4 264.8L493.0 264.3L493.8 264.3L495.4 264.9L496.2 264.9L497.0 265.2L498.6 266.6L499.4 267.1L500.2 266.9L501.0 266.6L501.8 266.7L503.4 267.8L504.2 268.0L507.4 267.8L510.6 268.6L511.4 269.2L512.2 269.4L513.0 269.1L514.6 269.1L515.4 269.5L517.0 270.0L518.6 270.6L519.4 270.6L520.2 270.1L521.0 270.0L521.8 270.1L523.4 271.1L524.2 271.1L525.0 270.7L525.8 270.4L526.6 270.5L528.2 271.7L529.0 271.8L529.8 271.6L530.6 271.1L532.2 271.4L533.0 272.1L534.6 272.0L535.4 271.9L536.2 271.9L537.0 272.3L538.6 272.8L540.2 272.6L541.0 272.7L541.8 272.8L542.6 273.3L543.4 273.4L544.2 273.4L545.0 273.0L546.6 272.9L547.4 273.4L549.0 273.9L550.6 273.6L551.4 273.1L552.2 273.3L553.0 274.1L553.8 274.7L556.2 274.6L557.8 274.2L558.6 274.3L559.4 274.5L559.8 275.0L560.2 269.5L560.6 275.0L561.0 274.8L563.4 275.0L564.2 274.7L565.8 275.1" fill="none" stroke="#363636" stroke-width="1.5" stroke-linejoin="round" stroke-opacity="1"/>
<path d="M137.0 346.5L138.6 346.6L139.4 347.7L140.2 347.9L141.0 348.3L141.8 348.3L143.4 347.9L144.2 348.2L145.0 348.3L145.8 348.1L146.6 348.3L147.4 348.6L148.2 348.6L149.0 348.3L149.8 347.8L151.4 348.5L152.2 349.1L153.0 348.9L153.8 349.3L154.6 349.5L155.4 349.3L156.2 349.1L157.0 348.5L157.8 348.4L158.6 347.8L160.2 347.6L161.0 347.8L161.8 347.3L162.6 346.6L163.4 346.2L165.0 346.4L165.8 346.2L166.6 345.3L169.0 344.1L169.8 343.5L170.6 343.7L172.2 343.6L174.6 342.3L176.2 342.3L177.0 342.0L177.8 341.4L180.2 341.1L181.0 340.7L181.8 340.6L183.4 339.7L184.2 338.9L185.0 338.8L187.4 338.0L188.2 338.2L189.0 338.2L190.6 336.2L191.4 335.7L192.2 335.7L193.0 335.6L193.8 336.0L194.6 336.1L196.2 335.0L197.8 334.8L198.6 334.3L199.4 333.9L200.2 333.8L201.0 333.3L201.8 332.5L202.6 332.4L203.4 333.0L204.2 332.9L205.0 332.1L206.6 331.3L207.4 331.2L209.0 331.6L209.8 331.6L210.6 331.0L212.2 330.6L213.0 330.3L214.6 329.2L216.2 329.6L217.0 329.7L218.6 328.3L219.4 327.8L220.2 327.7L221.0 328.0L221.8 328.0L222.6 327.8L223.4 327.1L224.2 327.3L225.8 327.2L226.6 326.8L227.4 326.7L228.2 326.4L229.8 325.3L230.6 325.5L231.4 325.6L232.2 325.3L233.0 324.7L233.8 325.1L234.6 325.4L235.4 325.2L236.2 324.7L237.0 324.5L237.8 323.9L239.4 323.2L240.2 322.7L241.8 323.4L242.6 323.6L243.4 322.7L244.2 322.2L246.6 322.1L247.4 321.4L248.2 321.2L249.8 321.7L250.6 321.4L251.4 320.9L253.0 320.8L253.8 320.6L254.6 320.0L255.4 319.5L257.8 318.8L258.6 318.6L260.2 317.8L261.8 318.2L264.2 316.4L265.0 315.1L265.8 313.4L266.6 312.7L268.2 312.9L270.6 310.8L271.4 310.7L272.2 310.2L273.0 310.0L274.6 308.9L275.4 308.1L276.2 307.6L277.0 307.3L278.6 307.4L279.4 307.0L281.8 305.1L282.6 304.1L283.4 302.7L284.2 302.4L285.8 302.8L287.4 301.5L289.0 301.2L290.6 299.4L292.2 299.1L293.8 297.0L294.6 296.7L296.2 297.6L297.0 297.4L297.8 296.7L298.6 296.4L300.2 296.3L301.8 295.7L302.6 295.9L304.2 295.0L305.0 294.3L305.8 294.6L307.4 294.3L309.8 293.4L310.6 292.6L312.2 291.5L314.6 290.6L315.4 289.9L317.0 285.4L317.8 283.6L321.0 277.9L322.6 273.4L323.4 271.9L325.0 270.1L326.6 268.9L328.2 268.1L329.8 268.2L331.4 268.0L332.2 268.1L336.2 269.2L337.0 269.7L337.8 270.3L339.4 270.1L340.2 269.8L341.8 270.3L342.6 270.8L343.4 271.0L344.2 270.9L345.8 269.2L346.6 269.3L347.4 270.2L348.2 270.3L349.0 269.3L349.8 269.1L350.6 268.6L351.4 268.5L352.2 267.9L353.0 268.0L354.6 266.9L356.2 266.8L357.8 265.6L359.4 265.7L360.2 265.5L361.8 265.6L363.4 265.3L365.0 265.7L366.6 265.1L367.4 265.2L368.2 265.9L369.0 266.2L370.6 266.0L371.4 266.2L372.2 266.6L373.0 266.7L375.4 265.5L377.0 265.5L377.8 265.9L379.4 266.2L381.0 265.7L381.8 265.6L383.4 266.2L385.0 266.4L386.6 267.0L387.4 267.0L388.2 266.6L389.0 266.6L390.6 267.3L392.2 267.5L393.8 269.4L394.6 270.0L395.4 270.1L396.2 269.8L397.0 270.4L397.8 271.2L398.6 272.6L399.4 272.4L401.8 273.3L402.6 273.3L403.4 274.0L404.2 275.2L405.0 276.0L406.6 276.7L408.2 277.6L409.0 277.7L409.8 278.3L410.6 279.1L411.4 280.2L413.0 281.4L413.8 281.7L414.6 282.5L416.2 282.6L417.0 282.8L418.6 284.5L419.4 285.1L421.8 286.6L423.4 287.1L424.2 287.7L425.0 288.6L425.8 289.1L426.6 289.4L427.4 289.5L429.8 291.6L431.4 291.4L432.2 291.7L433.8 293.9L435.4 294.0L436.2 293.8L437.8 294.8L438.6 295.9L439.4 296.5L441.0 296.8L441.8 297.6L442.6 298.8L443.4 299.0L445.0 298.6L445.8 299.6L447.4 300.9L449.8 301.0L452.2 301.8L453.0 302.8L453.8 303.5L454.6 303.7L455.4 303.3L457.0 304.6L457.8 305.0L458.6 305.2L459.4 305.8L460.2 306.1L461.0 306.2L462.6 305.9L463.4 306.1L465.0 307.3L465.8 307.5L466.6 307.5L467.4 308.3L468.2 308.8L469.0 308.9L469.8 308.5L470.6 308.9L471.4 309.6L472.2 309.5L473.8 309.9L476.2 311.6L477.0 311.7L477.8 311.7L478.6 312.2L479.4 313.0L480.2 313.4L481.0 313.3L483.4 313.7L484.2 313.4L485.0 313.6L486.6 314.9L487.4 315.0L488.2 315.3L489.0 315.3L489.8 315.8L491.4 316.1L492.2 315.8L493.0 315.8L493.8 316.2L494.6 316.8L495.4 317.0L497.0 316.7L498.6 318.6L499.4 318.7L500.2 318.3L501.0 318.2L501.8 318.5L505.8 319.0L506.6 319.5L508.2 319.9L509.0 319.9L509.8 320.1L510.6 320.0L512.2 322.3L513.0 322.8L513.8 322.3L515.4 322.0L516.2 322.1L517.8 322.9L518.6 323.3L520.2 322.5L521.0 322.7L521.8 323.6L522.6 323.8L525.0 325.2L526.6 325.2L528.2 324.5L529.0 324.5L530.6 325.6L531.4 325.5L532.2 325.7L533.8 326.5L534.6 326.3L535.4 326.7L536.2 327.3L537.0 327.7L538.6 327.1L539.4 327.5L540.2 328.3L541.0 328.4L541.8 327.8L542.6 326.8L543.4 327.3L545.0 327.8L545.8 327.4L546.6 327.9L547.4 327.6L548.2 327.0L549.0 326.7L549.8 327.1L550.6 327.7L552.2 327.0L553.0 326.7L554.6 326.8L556.2 327.5L557.8 327.0L559.4 327.7L559.8 327.8L560.2 322.3L560.6 327.8L561.0 327.3L561.8 327.1L562.6 327.2L563.4 327.5L565.0 327.1L565.8 327.3" fill="none" stroke="#363636" stroke-width="1.5" stroke-linejoin="round" stroke-opacity="1"/>
<path d="M137.8 386.6L138.6 386.3L139.4 385.7L140.2 385.9L141.8 387.7L143.4 388.0L144.2 388.0L145.0 388.4L145.8 388.3L146.6 388.4L147.4 388.6L148.2 389.0L149.0 388.8L149.8 388.2L150.6 388.2L151.4 387.8L152.2 387.7L153.0 388.1L153.8 388.8L154.6 388.8L155.4 388.5L157.8 388.6L158.6 388.2L160.2 387.9L161.0 388.2L161.8 388.0L164.2 387.0L165.0 387.2L165.8 387.2L166.6 387.3L167.4 386.7L168.2 386.7L169.0 386.5L169.8 386.6L170.6 386.4L173.0 385.0L175.4 385.3L176.2 385.2L177.0 384.4L177.8 384.0L178.6 383.7L179.4 383.9L181.8 383.0L182.6 382.5L183.4 381.7L185.0 381.4L185.8 381.0L186.6 380.8L187.4 381.0L188.2 380.8L191.4 378.9L192.2 378.7L193.0 378.8L193.8 378.5L196.2 376.6L197.0 376.2L197.8 376.1L198.6 375.8L199.4 375.4L200.2 374.8L201.8 374.6L202.6 374.3L203.4 373.1L204.2 372.3L205.0 371.8L206.6 371.3L207.4 371.6L208.2 371.7L209.0 371.3L209.8 370.4L211.4 369.5L212.2 369.7L213.8 369.6L215.4 369.1L217.0 369.1L218.6 368.3L219.4 368.2L220.2 368.4L221.8 368.1L223.4 367.2L224.2 366.4L225.0 366.4L227.4 365.8L228.2 365.8L229.8 365.4L231.4 365.5L232.2 365.0L235.4 364.7L237.0 363.8L237.8 363.2L238.6 363.3L239.4 363.1L241.0 362.2L241.8 362.3L242.6 362.1L244.2 360.8L245.8 360.8L246.6 360.4L247.4 359.7L248.2 359.4L249.0 359.2L249.8 359.5L251.4 359.1L252.2 358.5L253.0 358.1L253.8 357.4L254.6 357.0L255.4 356.9L256.2 357.2L257.8 356.0L258.6 355.6L259.4 355.4L260.2 355.0L261.0 354.9L261.8 355.0L264.2 353.2L265.0 352.9L265.8 352.8L266.6 353.1L267.4 353.1L269.0 351.7L269.8 351.5L270.6 351.0L271.4 350.9L272.2 350.4L273.0 350.4L273.8 350.1L274.6 350.5L276.2 348.9L277.0 347.9L279.4 347.5L281.0 345.9L281.8 345.8L283.4 346.6L284.2 346.3L285.8 344.7L287.4 343.6L289.8 343.9L290.6 343.5L292.2 343.7L293.0 343.4L294.6 342.1L296.2 342.7L297.8 342.6L298.6 342.3L299.4 341.8L300.2 340.6L301.0 340.3L302.6 340.8L303.4 340.6L305.0 340.5L305.8 340.3L307.4 340.1L309.0 338.7L309.8 338.4L310.6 338.6L311.4 338.1L313.0 336.0L313.8 335.7L314.6 334.9L317.0 329.4L318.6 325.3L319.4 323.8L320.2 322.7L323.4 319.7L325.0 318.3L327.4 315.6L329.0 314.2L329.8 313.8L330.6 313.9L331.4 314.3L332.2 314.3L334.6 315.8L335.4 316.1L336.2 317.2L338.6 318.1L339.4 319.0L340.2 319.5L341.0 319.8L341.8 319.8L342.6 320.1L343.4 320.2L344.2 320.0L345.0 319.2L345.8 318.8L346.6 318.2L347.4 318.3L349.0 318.0L349.8 317.5L350.6 317.4L352.2 317.8L353.8 317.7L355.4 317.7L356.2 317.9L357.8 318.6L358.6 318.4L359.4 318.4L360.2 318.6L361.0 318.7L363.4 318.0L364.2 317.6L365.8 318.4L366.6 318.5L367.4 318.2L369.0 318.0L369.8 318.1L370.6 318.6L371.4 318.4L373.0 318.1L374.6 317.5L375.4 317.8L376.2 318.4L377.0 318.2L377.8 317.8L378.6 317.1L379.4 316.9L381.0 317.2L382.6 316.9L383.4 317.5L384.2 317.4L385.0 317.1L385.8 316.1L386.6 316.2L387.4 316.5L388.2 317.1L389.0 317.1L389.8 317.4L390.6 317.7L391.4 318.2L392.2 318.2L393.8 317.8L394.6 317.9L395.4 318.7L397.0 319.4L399.4 319.9L401.0 321.2L404.2 322.5L406.6 323.8L408.2 324.4L409.0 324.5L409.8 325.4L410.6 326.7L411.4 327.4L412.2 327.7L413.0 328.3L413.8 329.1L414.6 329.5L416.2 329.5L417.0 330.1L418.6 332.6L419.4 333.2L420.2 333.2L421.0 333.5L421.8 334.6L422.6 335.0L424.2 335.2L425.0 335.7L425.8 335.9L427.4 336.7L428.2 336.8L429.0 337.2L429.8 337.9L430.6 338.8L431.4 339.4L433.0 339.9L433.8 340.5L434.6 340.9L436.2 341.3L437.0 341.8L438.6 341.7L439.4 342.0L440.2 342.6L441.0 343.0L443.4 344.7L444.2 344.8L445.0 345.1L445.8 345.7L446.6 346.6L447.4 346.6L448.2 346.5L451.4 347.5L452.2 348.1L454.6 348.5L455.4 349.2L457.0 350.3L457.8 350.4L460.2 351.7L461.8 352.3L464.2 352.6L465.8 353.3L466.6 353.6L468.2 355.2L470.6 356.1L471.4 357.1L473.0 357.1L473.8 356.7L474.6 357.4L476.2 358.3L477.0 358.4L477.8 358.8L479.4 358.1L480.2 358.3L482.6 359.9L483.4 360.1L484.2 359.9L485.0 359.9L485.8 360.8L486.6 361.3L487.4 361.4L488.2 361.0L489.0 360.8L489.8 360.8L493.0 361.3L495.4 362.5L496.2 362.2L497.0 362.2L497.8 361.6L498.6 361.6L500.2 362.6L501.0 362.2L501.8 362.1L503.4 362.5L505.0 362.2L507.4 363.6L509.0 363.0L511.4 362.8L512.2 362.8L513.0 362.9L513.8 363.7L516.2 364.0L517.0 364.4L517.8 364.0L518.6 364.3L519.4 364.9L520.2 365.0L521.0 364.6L521.8 364.4L522.6 364.9L525.8 364.9L526.6 364.8L527.4 365.0L528.2 365.3L529.0 365.3L529.8 364.8L530.6 365.0L531.4 365.0L533.0 365.3L536.2 366.5L537.0 366.6L537.8 366.5L538.6 365.9L539.4 365.8L541.0 366.8L541.8 366.4L544.2 366.9L545.0 366.6L545.8 367.3L546.6 367.5L548.2 366.3L550.6 366.8L551.4 367.1L552.2 367.7L553.0 367.8L553.8 368.1L555.4 368.5L556.2 368.4L557.8 369.0L559.4 368.1L559.8 368.2L560.2 362.7L560.6 368.2L561.0 368.9L562.6 369.2L564.2 369.2L565.0 369.0L565.8 369.1" fill="none" stroke="#363636" stroke-width="1.5" stroke-linejoin="round" stroke-opacity="1"/>
<path d="M137.8 428.0L138.6 428.1L141.0 428.9L143.4 428.6L144.2 429.2L145.0 429.4L145.8 429.3L146.6 428.8L147.4 428.7L150.6 429.6L152.2 429.3L153.8 428.0L154.6 428.1L156.2 429.4L157.0 429.2L158.6 428.5L159.4 428.5L160.2 428.0L161.8 428.4L162.6 428.7L163.4 428.7L164.2 428.9L165.0 428.5L167.4 428.5L169.8 425.7L170.6 425.4L171.4 425.5L172.2 425.4L174.6 425.4L177.0 424.0L177.8 423.9L179.4 423.1L180.2 423.2L181.0 423.5L181.8 423.3L183.4 421.8L184.2 421.3L187.4 421.3L189.0 420.3L190.6 420.3L192.2 418.4L194.6 417.4L195.4 416.9L196.2 417.0L197.8 417.0L198.6 416.1L199.4 415.6L201.0 415.0L202.6 414.6L204.2 413.5L205.8 414.2L207.4 413.5L208.2 412.8L209.8 412.5L210.6 412.3L212.2 410.5L213.0 410.1L216.2 409.7L217.8 409.8L218.6 410.0L219.4 410.0L221.8 409.3L222.6 408.6L223.4 407.6L224.2 407.6L225.8 408.5L227.4 408.8L228.2 408.7L229.8 407.3L230.6 406.9L232.2 407.0L233.8 406.4L234.6 406.4L236.2 405.7L237.0 405.5L237.8 405.9L238.6 406.1L239.4 405.9L241.0 404.8L243.4 405.3L245.0 404.1L248.2 404.3L249.0 403.9L249.8 403.1L250.6 402.7L251.4 403.0L252.2 402.7L253.8 401.7L254.6 401.5L255.4 401.3L257.0 401.2L258.6 400.9L260.2 399.6L261.0 398.7L262.6 397.3L264.2 397.7L265.8 396.9L267.4 396.8L268.2 396.0L269.8 394.8L270.6 395.0L272.2 394.4L273.0 393.5L274.6 392.5L276.2 391.9L277.8 390.8L278.6 391.0L279.4 390.7L281.0 389.7L282.6 389.2L283.4 389.0L284.2 389.1L285.8 388.6L286.6 388.3L287.4 387.7L288.2 386.7L289.0 386.5L293.0 387.1L293.8 386.3L294.6 385.9L295.4 385.7L297.0 385.0L299.4 384.7L301.0 385.6L301.8 385.0L302.6 384.2L304.2 384.0L305.8 383.4L307.4 383.4L308.2 382.9L309.8 382.2L310.6 382.1L311.4 381.1L313.0 380.2L313.8 379.4L315.4 377.3L316.2 376.6L317.8 374.3L319.4 372.5L321.0 369.8L322.6 368.1L324.2 365.3L325.8 364.2L326.6 363.2L327.4 362.6L329.0 362.7L331.4 362.1L332.2 362.5L333.0 363.2L333.8 363.6L334.6 363.6L335.4 364.1L336.2 365.0L337.0 365.4L337.8 365.1L338.6 365.2L340.2 366.8L341.0 367.2L342.6 366.3L343.4 366.1L344.2 366.2L345.0 366.7L345.8 366.9L346.6 366.8L347.4 366.1L348.2 366.1L349.0 366.2L349.8 366.2L352.2 365.3L353.0 365.1L354.6 365.5L355.4 365.4L356.2 364.9L357.0 364.8L357.8 365.0L358.6 365.6L359.4 365.5L360.2 364.9L361.0 364.0L361.8 363.9L363.4 364.7L365.0 364.2L365.8 364.4L366.6 364.8L367.4 364.8L369.8 363.6L370.6 363.6L372.2 364.8L373.0 364.9L374.6 364.5L375.4 364.7L377.0 364.3L378.6 364.2L379.4 363.9L380.2 363.8L381.0 364.2L385.8 364.9L388.2 364.0L389.0 364.0L390.6 363.4L392.2 364.4L393.0 364.4L393.8 364.6L394.6 365.3L395.4 365.7L396.2 365.2L397.0 365.3L397.8 365.4L398.6 365.9L401.0 366.5L403.4 366.8L405.8 368.5L406.6 368.2L408.2 368.8L409.0 369.4L409.8 369.3L410.6 369.7L412.2 370.9L413.8 371.7L414.6 372.4L415.4 372.6L417.0 372.2L417.8 372.4L420.2 375.1L421.8 376.0L423.4 377.5L425.0 377.9L426.6 378.7L427.4 378.7L429.0 379.0L430.6 379.6L431.4 380.2L432.2 380.5L434.6 382.4L436.2 382.9L437.0 383.4L437.8 384.2L438.6 384.4L441.8 385.7L443.4 386.9L444.2 387.1L445.0 386.8L445.8 387.0L448.2 388.8L449.0 389.1L449.8 389.7L450.6 390.0L451.4 390.1L452.2 389.7L453.0 389.6L454.6 390.7L455.4 391.0L456.2 391.0L457.8 392.2L460.2 393.2L461.0 392.7L461.8 392.6L462.6 392.9L463.4 393.7L464.2 393.6L465.8 394.2L466.6 395.2L467.4 395.6L468.2 395.9L469.8 395.7L470.6 395.5L471.4 395.9L473.0 397.2L473.8 397.0L474.6 396.4L475.4 396.4L477.0 397.8L477.8 397.8L478.6 397.5L480.2 398.2L481.8 398.2L482.6 398.3L483.4 399.0L485.0 399.5L485.8 399.6L486.6 400.0L488.2 399.7L489.8 400.1L491.4 400.3L492.2 400.5L493.0 401.2L494.6 401.6L496.2 401.3L497.0 401.0L498.6 401.4L499.4 401.8L500.2 401.9L501.0 402.6L501.8 402.6L503.4 403.0L504.2 403.6L505.8 403.1L506.6 403.2L511.4 404.1L513.0 403.9L513.8 403.9L514.6 403.5L515.4 403.3L517.0 404.0L517.8 403.7L518.6 403.8L520.2 404.7L521.0 404.8L521.8 405.4L524.2 405.6L525.8 405.5L526.6 405.6L527.4 405.3L528.2 404.7L529.0 404.6L529.8 405.4L530.6 405.7L531.4 405.3L532.2 404.6L533.0 404.7L533.8 405.2L534.6 405.5L536.2 405.4L537.0 405.8L538.6 405.4L539.4 405.5L540.2 405.8L541.8 405.3L542.6 405.9L544.2 406.6L545.0 406.2L545.8 405.9L546.6 405.9L547.4 406.2L548.2 406.1L549.0 405.5L549.8 405.5L551.4 406.6L553.0 405.6L553.8 405.4L554.6 405.7L555.4 406.2L556.2 406.3L557.0 406.3L557.8 406.0L558.6 405.8L559.4 406.1L559.8 406.6L560.2 401.1L560.6 406.6L561.0 406.9L561.8 406.7L562.6 406.3L563.4 406.7L564.2 406.8L565.0 406.7L565.8 406.4" fill="none" stroke="#363636" stroke-width="1.5" stroke-linejoin="round" stroke-opacity="1"/>
<path d="M138.0 711.3L138.8 710.9L139.6 710.2L140.4 709.8L141.2 710.3L142.8 710.1L143.6 709.6L144.4 709.7L145.2 709.3L146.8 708.8L149.2 708.2L150.8 708.4L151.6 708.1L154.0 706.4L155.6 705.9L156.4 705.8L157.2 705.2L158.0 705.0L159.6 705.2L161.2 704.3L162.8 704.0L164.4 703.3L165.2 703.3L166.0 703.6L167.6 704.0L170.0 701.9L171.6 702.0L172.4 702.0L173.2 701.7L177.2 700.8L178.8 700.0L179.6 699.7L181.2 699.5L182.0 699.6L182.8 699.5L183.6 698.9L184.4 697.7L186.0 696.9L186.8 697.0L187.6 696.9L188.4 697.1L189.2 696.6L190.0 696.5L190.8 696.5L191.6 696.7L193.2 695.4L194.0 695.1L194.8 695.4L195.6 695.4L196.4 695.6L197.2 695.2L198.0 694.5L198.8 693.6L200.4 693.5L201.2 693.3L202.8 693.5L204.4 692.3L205.2 692.2L206.8 691.5L207.6 691.3L208.4 691.4L209.2 690.9L210.0 690.8L210.8 690.4L211.6 690.4L212.4 689.8L214.8 688.9L215.6 688.0L216.4 687.5L218.8 687.3L219.6 687.7L221.2 687.7L222.0 687.2L222.8 687.0L225.2 685.7L226.0 685.8L228.4 684.2L229.2 684.1L230.8 683.5L231.6 683.7L232.4 683.5L234.0 682.6L234.8 681.8L236.4 681.8L237.2 681.5L238.0 680.5L238.8 680.1L240.4 680.0L241.2 679.6L242.0 679.5L243.6 679.0L244.4 678.3L245.2 677.8L247.6 677.2L249.2 676.5L250.0 676.4L250.8 676.1L251.6 676.3L252.4 676.2L253.2 676.3L254.8 674.9L255.6 674.8L256.4 675.2L257.2 675.0L258.8 674.3L259.6 674.3L262.0 672.6L262.8 672.3L263.6 672.4L265.2 671.4L266.0 670.8L266.8 670.7L269.2 669.9L270.0 669.9L270.8 669.6L271.6 668.8L272.4 668.5L274.0 668.3L274.8 667.4L275.6 666.9L276.4 666.6L278.0 667.3L278.8 667.1L280.4 666.0L282.0 665.8L282.8 665.5L284.4 663.9L285.2 663.8L286.0 664.0L286.8 663.6L287.6 662.9L288.4 662.5L290.0 662.1L290.8 661.7L291.6 661.5L292.4 660.9L294.0 659.0L294.8 658.8L295.6 658.2L296.4 658.2L298.0 657.9L298.8 656.9L299.6 656.1L301.2 655.6L302.0 655.2L302.8 654.2L305.2 653.0L306.8 650.3L307.6 649.7L308.4 650.0L310.0 649.3L313.2 647.0L314.0 646.3L314.8 645.1L316.4 643.6L317.2 643.3L318.8 643.0L320.4 641.0L322.0 641.2L322.8 640.9L325.2 639.3L326.8 638.5L329.2 636.4L330.8 636.0L331.6 635.5L332.4 634.9L333.2 634.0L335.6 633.1L338.0 630.6L338.8 630.0L339.6 629.7L341.2 628.9L342.0 628.3L342.8 628.2L345.2 625.1L346.0 624.6L346.8 623.7L347.6 623.3L348.4 622.7L349.2 621.9L351.6 620.1L352.4 619.1L353.2 618.8L354.8 617.0L355.6 615.8L356.4 615.0L357.2 614.8L358.0 614.9L358.8 614.7L359.6 614.1L360.4 613.2L361.2 612.7L362.0 612.8L362.8 613.3L363.6 612.9L364.4 612.3L365.2 611.8L366.0 612.0L367.6 611.9L369.2 612.2L371.6 611.3L372.4 611.2L373.2 611.2L374.0 611.9L374.8 611.8L376.4 612.0L377.2 612.8L378.0 613.3L378.8 613.6L379.6 613.5L380.4 613.8L381.2 614.7L382.0 615.2L383.6 615.8L384.4 616.3L385.2 616.2L386.8 617.1L387.6 617.8L389.2 618.5L390.8 620.0L392.4 620.4L394.0 622.7L395.6 624.2L397.2 624.8L398.0 625.4L398.8 626.8L399.6 627.8L400.4 628.0L401.2 628.5L402.8 629.9L403.6 629.8L404.4 630.3L406.0 631.8L406.8 632.1L408.4 633.4L409.2 634.2L410.0 635.1L410.8 635.4L411.6 635.4L412.4 635.8L414.0 637.7L416.4 639.0L418.0 640.6L419.6 641.3L422.0 642.6L422.8 643.3L425.2 644.6L426.0 645.6L427.6 646.1L428.4 646.2L430.0 647.0L432.4 648.8L433.2 649.2L434.8 650.3L435.6 650.7L436.4 650.4L437.2 650.8L438.0 651.5L438.8 651.4L439.6 651.8L440.4 652.8L441.2 654.3L442.0 654.9L442.8 656.1L443.6 656.7L444.4 657.0L445.2 657.1L446.0 657.9L449.2 658.6L450.0 659.0L451.6 660.5L452.4 660.9L453.2 660.9L454.0 661.3L454.8 661.2L455.6 661.6L457.2 662.8L458.0 663.2L458.8 663.2L460.4 664.0L461.2 664.6L462.8 664.9L465.2 665.7L466.0 666.2L466.8 667.1L467.6 668.4L468.4 669.0L469.2 669.1L470.0 668.7L470.8 668.7L471.6 669.1L472.4 670.0L473.2 670.4L474.0 670.3L474.8 670.7L475.6 671.6L476.4 672.2L478.0 672.0L478.8 672.1L479.6 672.0L480.4 672.3L482.0 673.9L482.8 674.1L483.6 674.0L484.4 674.2L486.0 675.0L488.4 675.2L490.0 675.8L491.6 676.0L492.4 676.5L494.0 678.1L494.8 678.3L496.4 678.1L497.2 678.6L499.6 679.0L502.0 680.2L503.6 680.5L505.2 680.6L506.0 680.5L507.6 681.3L509.2 681.6L510.0 681.4L512.4 682.4L513.2 682.3L514.0 682.3L517.2 683.9L518.8 683.8L519.6 683.9L521.2 682.7L522.0 683.2L522.8 684.3L523.6 684.3L524.4 684.0L526.8 684.3L528.4 685.1L529.2 685.1L530.0 684.8L530.8 684.8L531.6 684.6L533.2 684.9L534.0 685.3L534.8 685.5L535.6 685.3L537.2 684.2L538.0 684.9L538.8 685.0L539.6 684.9L540.4 684.6L542.0 685.3L542.8 685.1L544.4 685.4L545.2 685.2L546.8 684.3L547.6 684.4L548.4 684.3L550.8 684.7L551.6 685.3L552.4 685.4L553.2 685.3L554.0 684.8L554.8 684.6L555.6 684.7L557.2 685.8L558.0 685.4L559.2 685.1L559.6 679.6L560.0 685.1L560.4 685.3L561.2 685.4L562.0 685.9L566.0 686.4" fill="none" stroke="#363636" stroke-width="1.5" stroke-linejoin="round" stroke-opacity="1"/>
<path d="M138.5 760.4L139.3 760.9L141.7 761.6L142.5 762.1L143.3 762.3L144.1 762.6L144.9 762.5L146.5 763.1L147.3 763.3L148.1 763.0L148.9 763.0L150.5 762.7L151.3 762.7L152.1 763.0L152.9 762.8L155.3 762.9L157.7 762.0L159.3 761.6L160.9 762.3L161.7 762.0L163.3 760.7L164.1 760.6L164.9 760.8L165.7 760.8L167.3 760.2L168.1 760.2L168.9 759.4L169.7 758.3L170.5 757.6L171.3 758.0L172.1 758.2L172.9 757.9L175.3 756.2L176.9 756.7L177.7 756.4L179.3 755.4L180.1 755.2L180.9 754.6L182.5 754.0L183.3 753.8L185.7 752.7L187.3 752.4L188.1 751.9L188.9 751.8L189.7 751.3L191.3 751.1L192.9 750.7L194.5 750.5L196.1 748.1L196.9 747.6L198.5 748.3L199.3 748.1L200.9 746.7L202.5 745.8L204.1 745.2L204.9 745.2L205.7 745.0L206.5 744.5L208.1 744.0L208.9 743.4L209.7 742.6L210.5 742.1L212.1 742.5L212.9 742.5L213.7 742.1L214.5 741.9L215.3 741.9L216.1 741.5L216.9 740.7L217.7 740.4L219.3 740.5L220.9 739.7L221.7 739.1L222.5 739.1L224.1 739.9L226.5 738.7L228.1 738.1L229.7 737.7L230.5 738.0L232.1 737.2L232.9 737.0L233.7 737.0L234.5 736.6L235.3 736.3L236.1 736.3L237.7 735.3L238.5 735.5L240.1 736.6L241.7 735.0L244.1 733.8L245.7 733.4L247.3 732.0L248.1 731.8L248.9 731.9L251.3 731.6L252.9 730.3L253.7 730.4L256.9 729.4L257.7 728.5L258.5 728.1L259.3 727.9L260.9 727.0L262.5 726.5L263.3 725.7L265.7 724.3L266.5 724.1L268.1 724.0L269.7 723.5L270.5 723.1L271.3 722.3L273.7 720.4L275.3 719.6L276.1 719.5L276.9 719.1L277.7 718.6L278.5 717.7L279.3 717.4L280.9 717.2L281.7 717.2L282.5 716.9L283.3 716.5L284.1 715.8L285.7 715.0L286.5 714.4L288.9 713.6L289.7 712.8L290.5 712.9L292.9 712.0L293.7 712.5L294.5 712.4L295.3 711.9L296.1 711.1L296.9 711.3L298.5 711.0L299.3 710.4L300.9 709.8L301.7 709.3L302.5 709.6L304.1 709.4L305.7 708.7L307.3 708.6L308.1 708.4L309.7 707.2L310.5 707.2L311.3 706.7L312.9 705.5L314.5 704.8L316.1 703.8L316.9 702.9L319.3 698.1L320.1 696.2L320.9 693.4L321.7 691.2L324.9 683.7L325.7 682.7L327.3 682.0L328.1 681.5L328.9 681.3L329.7 681.4L330.5 681.0L331.3 680.9L334.5 681.0L335.3 681.2L336.9 682.7L338.5 683.7L340.1 685.8L340.9 686.3L341.7 686.6L343.3 686.6L344.1 686.8L344.9 687.3L345.7 686.8L346.5 686.9L348.1 687.8L351.3 687.7L352.1 688.0L352.9 688.0L355.3 687.1L357.7 687.2L360.9 686.2L361.7 686.1L363.3 686.0L364.9 686.3L365.7 686.0L366.5 685.6L367.3 684.9L368.1 684.6L369.7 684.9L370.5 684.8L371.3 684.3L372.1 684.0L372.9 684.5L373.7 684.4L374.5 684.3L375.3 683.6L376.1 683.5L376.9 683.7L378.5 683.7L379.3 683.0L380.1 682.9L380.9 682.3L381.7 682.4L382.5 682.0L383.3 681.9L384.9 681.0L385.7 680.2L386.5 679.8L387.3 679.5L388.9 679.4L389.7 680.0L390.5 681.1L392.1 682.7L392.9 682.8L394.5 683.6L395.3 684.7L396.9 686.5L399.3 687.7L400.9 687.3L401.7 687.8L402.5 688.9L403.3 689.7L404.9 691.0L405.7 691.2L407.3 692.0L410.5 694.3L412.1 694.6L412.9 695.1L414.5 696.5L415.3 696.6L416.1 696.3L417.7 697.0L419.3 697.5L420.9 699.7L421.7 700.4L422.5 701.5L424.1 702.3L424.9 702.3L428.1 704.0L429.7 704.3L432.1 706.2L435.3 708.0L436.9 709.4L437.7 709.9L439.3 710.0L440.1 710.5L441.7 711.1L443.3 712.5L444.9 713.3L445.7 713.4L447.3 713.9L448.1 714.7L448.9 715.3L450.5 717.0L451.3 717.3L455.3 717.8L457.7 719.6L460.1 719.6L460.9 720.5L461.7 721.0L462.5 721.4L463.3 721.2L464.9 721.6L465.7 722.1L466.5 723.0L467.3 723.4L468.1 723.6L468.9 723.3L469.7 724.0L470.5 724.3L472.1 724.5L472.9 725.5L473.7 726.1L474.5 726.1L476.1 724.6L476.9 724.9L478.5 727.3L479.3 727.7L480.9 728.1L481.7 728.7L482.5 728.9L483.3 728.9L484.9 729.3L486.5 729.4L488.1 730.4L489.7 729.8L490.5 730.2L491.3 731.0L492.1 731.0L492.9 730.7L493.7 730.6L494.5 731.0L495.3 731.1L496.9 732.2L497.7 733.0L498.5 733.2L499.3 733.4L500.9 733.4L501.7 733.0L504.1 732.9L504.9 733.2L505.7 733.8L506.5 734.0L507.3 733.8L509.7 735.1L510.5 735.0L511.3 735.1L512.1 734.8L512.9 735.2L514.5 735.6L515.3 736.1L516.1 735.9L517.7 735.0L518.5 735.4L519.3 736.0L520.1 736.3L520.9 736.7L521.7 736.6L522.5 736.9L524.1 737.2L525.7 737.2L527.3 738.3L528.1 738.2L528.9 737.7L529.7 737.6L531.3 738.3L532.1 738.8L532.9 738.3L533.7 737.5L534.5 737.4L535.3 738.1L536.1 738.1L536.9 737.7L537.7 737.7L538.5 738.3L540.1 738.2L540.9 738.3L541.7 738.9L542.5 738.9L544.9 737.5L545.7 737.4L547.3 738.9L548.1 739.4L549.7 739.5L551.3 739.0L552.9 739.2L554.5 738.7L555.3 739.0L556.1 740.0L557.7 740.1L558.5 739.4L559.7 739.8L560.1 734.3L560.5 739.8L560.9 739.9L562.5 739.7L563.3 740.0L564.1 740.1L564.9 740.5L565.7 740.3L566.5 740.5" fill="none" stroke="#363636" stroke-width="1.5" stroke-linejoin="round" stroke-opacity="1"/>
<path d="M138.5 807.6L140.1 807.8L140.9 807.7L141.7 807.3L142.5 807.6L143.3 808.2L144.1 808.1L144.9 807.5L145.7 807.4L147.3 808.6L148.1 808.9L149.7 808.5L151.3 808.6L152.9 808.1L155.3 808.6L156.1 808.2L157.7 807.8L159.3 808.2L160.1 808.3L160.9 807.8L163.3 807.9L164.1 807.0L164.9 806.4L165.7 806.1L167.3 805.1L168.1 804.9L168.9 805.6L169.7 805.8L170.5 805.0L171.3 803.9L173.7 803.5L175.3 803.5L176.1 803.2L176.9 802.3L177.7 802.3L178.5 802.5L179.3 802.3L180.1 801.3L180.9 800.6L182.5 801.1L184.1 799.8L185.7 799.6L186.5 799.2L188.1 798.2L191.3 795.9L193.7 796.1L195.3 795.3L196.9 794.3L198.5 793.6L199.3 792.8L200.1 792.3L200.9 792.2L201.7 792.3L202.5 791.8L203.3 791.0L204.1 790.5L204.9 790.8L206.5 790.7L207.3 790.1L208.1 790.1L208.9 789.6L210.5 789.0L211.3 789.0L213.7 787.4L216.9 786.9L217.7 786.5L219.3 785.6L221.7 785.3L222.5 785.0L223.3 785.2L224.1 785.1L224.9 785.2L225.7 784.5L227.3 783.6L228.1 784.0L229.7 784.0L230.5 783.3L231.3 783.3L232.1 782.7L232.9 782.1L233.7 781.1L234.5 781.0L236.1 781.5L237.7 781.1L238.5 781.2L239.3 781.0L240.1 780.6L241.7 779.3L242.5 778.9L243.3 779.1L244.9 779.3L246.5 778.9L247.3 778.4L248.9 777.6L250.5 777.0L251.3 776.5L252.1 775.7L252.9 775.5L254.5 776.4L255.3 775.8L256.1 774.3L256.9 773.8L257.7 774.0L258.5 773.9L260.1 773.4L260.9 773.3L261.7 772.9L262.5 772.7L264.1 771.4L264.9 771.1L265.7 771.0L267.3 769.8L268.1 769.5L268.9 769.5L270.5 770.2L271.3 769.6L272.1 768.1L272.9 767.3L273.7 767.0L275.3 766.7L276.1 766.7L276.9 766.3L278.5 765.0L279.3 764.8L280.9 764.8L283.3 763.0L284.1 762.7L285.7 762.3L286.5 762.5L287.3 761.6L288.1 761.5L288.9 761.0L289.7 760.8L290.5 760.1L291.3 760.0L292.1 760.1L292.9 760.1L295.3 758.7L296.1 758.7L296.9 758.3L298.5 758.2L300.1 757.1L300.9 756.9L304.1 756.5L305.7 755.8L307.3 754.8L308.9 754.3L310.5 752.7L311.3 752.5L312.9 751.6L314.5 749.3L316.9 745.1L319.3 741.4L320.9 738.6L323.3 735.7L324.9 733.0L325.7 732.1L326.5 731.8L327.3 731.2L328.9 729.1L329.7 729.3L331.3 730.0L333.7 729.3L334.5 729.6L336.1 731.0L338.5 731.7L340.9 734.1L341.7 734.4L342.5 734.2L343.3 733.7L344.1 733.4L344.9 732.9L346.5 732.7L347.3 733.2L348.1 733.0L348.9 732.7L350.5 731.5L352.1 730.9L352.9 731.0L354.5 730.9L355.3 730.3L356.1 730.0L358.5 730.3L359.3 730.6L360.1 730.5L361.7 729.1L363.3 729.1L364.9 728.3L365.7 728.5L368.1 727.4L368.9 727.5L370.5 727.4L372.9 726.6L373.7 726.7L374.5 727.2L376.1 727.1L377.7 727.9L379.3 727.7L380.9 727.8L381.7 727.3L383.3 727.5L384.9 728.2L385.7 728.8L386.5 728.6L387.3 728.1L388.1 728.3L388.9 729.0L389.7 729.4L390.5 729.4L391.3 729.8L392.1 730.6L392.9 731.0L393.7 730.8L395.3 731.1L396.9 732.1L397.7 733.2L398.5 733.8L399.3 733.9L400.1 734.4L400.9 735.2L401.7 735.6L402.5 735.2L403.3 735.8L404.9 737.4L406.5 737.9L407.3 738.4L408.1 739.7L408.9 740.4L410.5 741.0L411.3 741.5L412.1 741.6L412.9 742.1L415.3 744.4L416.1 745.0L416.9 745.2L417.7 745.0L418.5 745.2L420.1 746.1L421.7 746.1L422.5 746.3L423.3 746.7L424.1 747.4L424.9 748.5L425.7 749.2L426.5 749.4L427.3 749.4L428.1 749.8L429.7 751.2L431.3 751.1L432.1 751.2L435.3 753.3L436.1 754.0L438.5 755.4L439.3 756.1L440.1 756.1L441.7 756.9L442.5 757.6L443.3 757.8L444.1 758.3L444.9 758.3L446.5 759.0L447.3 760.3L448.1 760.3L449.7 759.7L450.5 760.5L452.1 761.5L453.7 762.3L454.5 762.2L456.1 763.0L456.9 763.9L458.5 765.0L459.3 765.1L460.1 765.0L463.3 765.0L464.9 766.8L465.7 766.8L466.5 766.6L467.3 767.0L468.1 767.7L469.7 767.5L471.3 768.9L472.1 768.9L472.9 769.3L473.7 770.0L474.5 770.1L475.3 770.0L476.9 771.0L477.7 771.0L478.5 771.2L481.7 773.0L482.5 773.2L483.3 773.1L484.9 772.4L485.7 772.6L486.5 772.8L487.3 773.2L488.1 773.8L488.9 774.7L489.7 775.2L491.3 775.2L492.1 775.3L493.7 775.2L494.5 775.0L495.3 775.2L496.9 776.1L497.7 776.4L499.3 777.3L500.1 777.4L500.9 777.2L501.7 777.3L502.5 777.1L504.1 777.5L504.9 778.0L506.5 777.4L507.3 777.7L508.1 778.4L508.9 778.2L509.7 777.7L510.5 777.4L512.1 778.4L512.9 778.7L513.7 778.3L515.3 777.9L516.1 778.4L517.7 778.6L518.5 778.2L519.3 778.5L520.9 779.3L522.5 779.3L523.3 779.5L524.1 780.0L524.9 780.2L527.3 780.1L528.9 779.4L529.7 779.4L530.5 780.0L531.3 780.3L532.9 779.7L534.5 780.5L540.1 780.5L540.9 780.8L541.7 780.9L543.3 780.9L544.1 781.3L544.9 781.5L546.5 780.8L547.3 780.8L548.1 781.0L549.7 780.9L550.5 781.3L551.3 782.1L552.1 782.2L552.9 782.0L553.7 781.6L555.3 781.8L556.1 782.4L556.9 782.5L557.7 782.7L559.7 782.2L560.1 776.7L560.5 782.2L561.7 783.1L562.5 783.4L563.3 783.4L564.9 782.8L565.7 782.9L566.5 783.2" fill="none" stroke="#363636" stroke-width="1.5" stroke-linejoin="round" stroke-opacity="1"/>
<path d="M138.5 846.5L140.1 846.8L140.9 846.7L141.7 846.8L142.5 847.1L143.3 847.5L144.9 848.1L146.5 847.1L148.1 847.4L150.5 847.6L151.3 847.5L152.9 847.7L153.7 847.5L155.3 847.4L156.1 847.1L156.9 847.2L157.7 847.5L159.3 846.8L160.1 847.2L160.9 847.1L162.5 846.6L163.3 846.8L164.9 846.0L166.5 846.3L167.3 846.1L168.1 845.3L168.9 844.8L170.5 844.5L171.3 844.1L172.1 844.0L174.5 843.5L175.3 843.6L176.9 843.0L179.3 842.7L181.7 841.3L182.5 841.1L183.3 841.2L184.1 841.0L184.9 841.2L186.5 839.8L187.3 839.4L188.9 839.2L189.7 838.6L192.1 838.2L193.7 836.8L195.3 836.9L196.1 836.8L197.7 836.0L199.3 834.9L200.1 834.7L200.9 834.6L202.5 833.5L203.3 833.5L204.1 834.2L206.5 832.6L207.3 832.9L209.7 831.7L210.5 831.6L211.3 831.2L214.5 830.7L216.1 830.9L216.9 830.8L218.5 829.6L220.9 828.8L221.7 828.8L222.5 829.1L223.3 829.1L224.1 829.1L225.7 828.8L227.3 827.9L228.1 827.8L228.9 827.9L229.7 827.8L230.5 827.6L231.3 827.1L232.1 827.3L233.7 827.2L234.5 826.6L235.3 826.5L236.9 826.1L237.7 825.5L238.5 825.1L239.3 825.1L240.1 825.7L240.9 825.6L241.7 825.2L242.5 825.0L243.3 825.9L244.1 825.6L244.9 825.0L245.7 823.9L247.3 824.4L248.9 824.2L249.7 824.4L250.5 824.2L252.1 822.9L253.7 822.1L255.3 821.5L256.1 821.3L256.9 821.4L257.7 821.3L259.3 820.3L260.9 820.2L261.7 820.3L262.5 820.0L263.3 819.4L264.1 819.0L264.9 818.9L265.7 819.1L266.5 819.0L267.3 818.2L268.1 817.0L268.9 816.7L269.7 817.0L271.3 816.1L272.1 816.4L272.9 816.9L273.7 816.5L274.5 815.9L276.9 815.8L277.7 815.3L278.5 815.3L280.1 815.2L280.9 814.5L282.5 813.3L283.3 813.2L284.9 813.6L285.7 813.2L288.9 811.1L289.7 811.1L290.5 811.0L291.3 811.2L292.1 810.9L293.7 811.2L294.5 811.4L295.3 811.2L297.7 809.2L298.5 809.0L299.3 809.3L300.1 809.1L300.9 809.1L302.5 808.1L303.3 807.3L304.1 807.5L304.9 807.5L305.7 806.8L307.3 806.3L308.1 806.2L308.9 805.6L309.7 805.3L312.1 803.5L315.3 801.9L316.1 801.9L316.9 801.4L320.1 796.8L320.9 795.3L321.7 794.3L322.5 793.9L323.3 794.0L324.1 793.1L325.7 792.4L326.5 792.2L327.3 791.9L328.9 792.8L329.7 792.9L330.5 792.6L332.9 793.2L333.7 793.2L334.5 792.9L335.3 793.1L336.1 792.8L336.9 793.2L338.5 793.4L340.1 793.3L340.9 793.5L341.7 793.4L342.5 793.7L343.3 793.7L344.1 794.1L345.7 794.5L347.3 793.3L348.1 792.9L348.9 793.7L349.7 794.1L350.5 794.2L352.1 793.9L352.9 793.2L354.5 792.8L355.3 792.4L356.1 791.7L357.7 791.4L360.1 791.9L360.9 791.7L361.7 792.1L362.5 792.0L363.3 791.8L364.1 791.1L365.7 790.5L368.1 791.3L369.7 790.8L370.5 790.7L371.3 791.3L372.9 791.5L374.5 792.3L375.3 791.7L376.1 791.6L377.7 791.8L379.3 791.7L380.1 792.0L380.9 791.9L381.7 792.2L382.5 792.2L383.3 792.7L384.9 792.7L385.7 792.3L387.3 791.8L388.1 792.1L388.9 792.1L389.7 792.5L390.5 792.6L391.3 792.4L392.1 792.0L394.5 793.1L395.3 792.7L396.1 793.0L396.9 793.3L397.7 794.0L398.5 794.2L399.3 794.1L400.9 793.4L403.3 795.6L404.1 795.6L404.9 795.8L405.7 795.7L406.5 796.0L407.3 796.0L408.9 796.8L409.7 797.6L410.5 797.9L411.3 797.9L412.1 798.3L412.9 799.0L413.7 799.1L414.5 799.1L415.3 799.2L416.1 799.8L417.7 800.7L419.3 801.1L420.9 802.2L422.5 802.0L423.3 802.5L424.1 803.3L425.7 803.7L426.5 804.3L428.1 805.2L429.7 806.6L430.5 807.0L431.3 807.0L432.9 807.3L433.7 807.7L434.5 807.5L435.3 807.9L436.1 808.0L437.7 808.6L438.5 809.0L440.1 808.9L441.7 810.0L442.5 810.4L444.1 810.0L444.9 810.2L445.7 810.7L446.5 810.9L447.3 810.7L448.1 810.9L448.9 811.5L449.7 811.9L450.5 811.6L451.3 811.9L452.9 812.7L453.7 812.1L454.5 812.0L455.3 812.1L456.1 812.9L456.9 813.1L458.5 812.7L459.3 813.0L460.9 814.3L462.5 814.1L463.3 814.3L464.1 815.2L464.9 815.7L465.7 816.0L466.5 815.6L468.1 816.1L468.9 816.7L469.7 816.5L471.3 816.8L472.1 817.0L472.9 817.1L473.7 817.5L474.5 818.1L475.3 818.4L476.9 818.0L477.7 818.2L478.5 818.9L480.1 819.9L482.5 819.1L483.3 819.3L484.1 819.8L484.9 820.6L485.7 820.9L487.3 821.0L488.1 821.9L488.9 822.1L490.5 822.0L491.3 822.1L492.1 822.1L494.5 821.6L495.3 822.1L496.1 822.9L496.9 823.2L497.7 822.7L498.5 822.7L499.3 823.0L500.1 823.6L500.9 823.6L502.5 823.0L503.3 823.1L504.1 823.7L506.5 823.3L508.1 823.7L508.9 824.2L509.7 824.9L510.5 825.1L514.5 825.0L516.1 825.5L518.5 825.3L520.1 825.7L520.9 825.8L521.7 826.1L522.5 826.7L523.3 827.1L524.1 826.8L524.9 826.3L525.7 826.2L526.5 826.2L527.3 826.6L529.7 827.0L530.5 827.0L532.1 826.2L532.9 826.1L533.7 826.5L534.5 827.1L536.1 827.4L536.9 827.3L539.3 828.6L540.9 828.0L542.5 828.1L544.1 827.6L544.9 828.1L548.1 828.6L549.7 827.7L550.5 827.5L551.3 827.8L552.1 828.4L552.9 828.7L554.5 828.2L555.3 829.0L556.1 829.1L557.7 828.5L559.3 829.3L559.7 829.2L560.1 823.7L560.5 829.2L560.9 829.6L562.5 830.1L564.1 829.5L566.5 830.3" fill="none" stroke="#363636" stroke-width="1.5" stroke-linejoin="round" stroke-opacity="1"/>
<path d="M138.5 898.1L140.1 899.2L140.9 899.6L141.7 899.1L142.5 899.1L144.1 899.3L145.7 899.3L147.3 899.6L149.7 898.8L151.3 899.3L152.1 899.6L152.9 899.5L153.7 899.6L156.1 899.4L157.7 899.6L159.3 899.5L160.9 898.7L161.7 898.7L163.3 898.3L164.9 897.8L166.5 896.9L167.3 896.7L168.1 896.8L169.7 896.0L170.5 895.9L171.3 896.1L172.1 896.1L172.9 895.7L174.5 895.6L175.3 895.6L176.1 895.1L178.5 894.9L179.3 894.1L180.1 893.7L181.7 893.3L182.5 893.2L183.3 893.5L184.1 893.3L184.9 892.7L185.7 892.4L187.3 892.4L188.1 892.2L188.9 891.6L189.7 890.5L190.5 890.2L191.3 890.7L192.1 890.9L192.9 890.9L193.7 890.2L194.5 890.1L195.3 889.8L196.1 889.8L197.7 889.0L199.3 888.4L200.1 888.5L200.9 888.1L201.7 888.1L202.5 887.6L204.1 887.0L204.9 887.2L206.5 887.3L208.1 886.7L208.9 886.3L209.7 886.6L212.1 884.8L212.9 884.7L213.7 884.2L214.5 884.0L216.1 883.9L216.9 883.7L217.7 883.2L220.1 883.7L221.7 883.0L223.3 882.1L224.9 881.6L225.7 881.8L227.3 881.8L228.1 881.6L228.9 881.9L229.7 881.4L232.1 879.4L232.9 879.4L234.5 879.9L235.3 879.5L236.1 879.4L238.5 878.5L240.1 878.7L240.9 878.5L242.5 877.3L243.3 877.0L244.1 876.9L244.9 876.3L246.5 875.8L248.1 875.6L248.9 875.7L249.7 875.6L251.3 874.1L253.7 874.0L254.5 873.5L255.3 873.4L256.1 872.8L259.3 871.8L260.1 871.0L260.9 870.6L262.5 870.9L264.1 869.1L265.7 868.7L268.1 866.7L270.5 865.8L271.3 865.6L272.9 865.7L273.7 864.8L274.5 864.5L276.1 864.7L277.7 862.5L278.5 862.5L280.1 862.8L282.5 860.8L284.9 860.2L285.7 859.8L286.5 859.8L287.3 859.1L288.9 858.5L289.7 858.8L291.3 858.7L292.1 858.3L292.9 857.6L295.3 857.3L297.7 856.3L298.5 856.7L299.3 856.8L300.1 856.5L300.9 855.6L306.5 855.0L308.1 854.3L308.9 854.3L312.1 853.1L315.3 849.7L316.9 847.2L317.7 845.4L319.3 842.6L320.1 841.7L321.7 838.8L322.5 837.7L323.3 837.0L324.1 836.7L326.5 832.1L327.3 831.3L328.1 830.8L328.9 830.1L329.7 829.7L331.3 830.2L332.1 829.9L332.9 830.2L333.7 830.8L334.5 831.1L335.3 831.2L336.1 831.9L337.7 832.3L339.3 833.7L340.1 833.3L341.7 833.0L343.3 833.8L344.1 834.5L344.9 834.4L347.3 834.6L348.1 834.1L350.5 834.6L351.3 834.2L353.7 834.4L355.3 833.8L356.9 832.7L357.7 832.4L358.5 831.8L359.3 831.4L360.1 831.6L360.9 832.1L362.5 831.4L363.3 831.3L364.1 831.8L364.9 831.7L366.5 831.3L367.3 831.4L368.1 831.6L368.9 831.5L369.7 831.8L370.5 831.7L371.3 831.5L372.1 831.0L372.9 831.0L374.5 831.8L376.9 831.9L377.7 832.1L378.5 831.9L379.3 832.0L380.9 831.1L381.7 830.8L383.3 832.1L384.1 832.2L385.7 831.8L387.3 831.8L388.9 831.1L391.3 831.3L392.9 832.1L393.7 831.9L394.5 831.5L395.3 831.6L396.1 832.1L396.9 832.9L397.7 833.4L400.1 834.2L400.9 834.2L401.7 834.7L403.3 836.2L405.7 836.4L406.5 836.8L408.9 837.4L409.7 838.0L410.5 838.1L412.1 839.6L412.9 840.0L413.7 840.0L414.5 840.3L416.1 841.3L419.3 843.7L420.1 844.0L420.9 844.0L421.7 844.8L422.5 846.0L423.3 846.8L424.1 847.3L424.9 847.3L427.3 849.4L428.9 849.3L429.7 850.3L430.5 851.1L431.3 851.5L432.1 851.1L432.9 851.3L433.7 851.7L435.3 853.3L436.1 853.6L437.7 853.9L438.5 854.4L439.3 854.2L441.7 856.4L442.5 856.5L446.5 859.0L448.1 859.7L448.9 859.8L450.5 859.8L451.3 860.3L452.1 860.4L453.7 861.4L454.5 862.3L455.3 862.4L456.1 862.3L456.9 862.5L458.5 863.8L459.3 864.2L460.9 864.0L461.7 864.3L463.3 864.4L464.1 864.4L464.9 864.7L465.7 865.2L466.5 866.2L467.3 866.9L468.1 866.9L468.9 866.8L469.7 866.9L470.5 867.2L471.3 867.8L472.9 868.0L474.5 869.0L475.3 869.3L476.1 869.3L476.9 869.0L477.7 868.9L479.3 870.1L480.1 870.3L481.7 871.4L482.5 871.6L483.3 871.4L484.1 871.8L485.7 872.4L486.5 872.0L487.3 872.0L488.1 872.5L488.9 873.1L489.7 873.2L491.3 872.2L494.5 874.1L495.3 874.4L496.1 874.2L496.9 874.3L498.5 875.4L499.3 875.6L500.1 875.6L500.9 875.3L501.7 875.4L502.5 875.8L504.1 876.1L504.9 876.4L505.7 876.1L506.5 876.3L507.3 876.9L508.1 877.2L511.3 876.3L512.1 876.9L512.9 877.9L515.3 877.6L516.1 878.0L516.9 877.9L517.7 878.1L518.5 877.8L520.1 878.2L520.9 878.6L521.7 878.4L524.1 879.2L525.7 878.6L526.5 878.7L527.3 879.3L528.1 879.6L529.7 879.6L531.3 879.0L532.1 879.2L532.9 879.8L534.5 880.0L535.3 879.8L536.9 879.7L538.5 879.4L539.3 879.4L540.1 879.9L540.9 880.0L541.7 880.2L544.9 880.1L545.7 879.9L546.5 880.2L548.1 880.4L548.9 880.3L549.7 880.6L550.5 880.6L551.3 880.4L552.9 881.2L553.7 881.2L554.5 880.8L556.9 881.5L557.7 881.6L559.7 882.8L560.1 877.3L560.5 882.8L560.9 881.9L561.7 881.0L562.5 881.0L564.1 882.6L564.9 883.0L566.5 883.3" fill="none" stroke="#363636" stroke-width="1.5" stroke-linejoin="round" stroke-opacity="1"/>
<path d="M138.5 939.7L140.1 941.0L140.9 941.4L141.7 941.4L143.3 940.8L144.1 941.2L144.9 941.8L145.7 941.9L146.5 941.4L148.9 942.9L149.7 942.4L150.5 942.2L151.3 942.3L152.1 942.8L152.9 942.8L154.5 942.1L156.1 941.9L156.9 942.0L157.7 941.9L158.5 942.3L160.9 942.1L161.7 942.4L163.3 942.0L164.1 942.4L165.7 942.0L166.5 941.5L167.3 941.8L168.1 941.8L168.9 942.0L169.7 941.3L170.5 941.2L172.1 941.5L172.9 940.7L173.7 940.2L174.5 940.0L175.3 940.3L176.1 939.8L176.9 939.1L177.7 938.9L179.3 939.2L180.1 938.7L180.9 938.5L182.5 937.7L183.3 937.1L184.1 937.1L184.9 936.8L186.5 935.6L188.1 936.0L188.9 936.0L189.7 935.7L191.3 934.4L192.9 934.0L193.7 933.6L194.5 932.7L195.3 932.4L196.1 931.8L197.7 930.9L200.9 930.3L201.7 929.8L203.3 928.5L204.9 927.7L205.7 927.7L207.3 927.2L208.9 926.1L210.5 926.1L212.1 925.6L212.9 925.6L213.7 925.5L215.3 924.9L216.1 924.3L216.9 923.9L217.7 924.1L218.5 924.0L220.1 922.6L220.9 922.7L222.5 923.8L223.3 923.6L224.1 923.2L224.9 922.2L225.7 921.8L226.5 921.6L227.3 922.2L228.9 922.0L229.7 921.6L231.3 921.5L232.9 922.0L233.7 921.7L234.5 920.8L235.3 920.6L236.1 920.8L236.9 920.7L238.5 919.3L239.3 919.3L240.1 919.6L240.9 919.7L241.7 919.2L243.3 919.2L244.1 918.8L244.9 918.0L245.7 917.9L246.5 918.0L247.3 917.7L248.1 916.6L248.9 916.2L250.5 917.1L251.3 916.8L252.1 916.0L252.9 915.6L253.7 915.3L254.5 915.7L256.1 915.0L256.9 914.1L257.7 913.6L260.1 913.6L261.7 913.1L263.3 911.9L264.9 911.1L265.7 911.2L266.5 911.5L267.3 911.3L268.1 910.6L268.9 910.3L269.7 910.4L270.5 910.3L271.3 909.5L273.7 909.2L274.5 908.4L276.9 907.4L277.7 907.2L278.5 907.2L280.1 906.4L280.9 906.2L281.7 906.3L282.5 906.7L284.1 905.8L284.9 904.9L285.7 904.8L286.5 904.4L287.3 904.2L289.7 904.1L290.5 904.4L291.3 904.4L292.9 903.2L293.7 902.2L294.5 902.0L295.3 902.2L296.1 902.7L298.5 900.9L299.3 900.7L300.1 900.7L301.7 900.4L302.5 899.9L304.1 899.6L304.9 899.6L306.5 898.8L307.3 898.1L308.1 897.1L308.9 896.7L310.5 897.4L311.3 897.1L312.1 896.6L312.9 896.2L314.5 895.2L316.1 892.7L316.9 891.1L317.7 890.3L320.1 885.9L321.7 884.1L322.5 882.6L323.3 881.9L324.1 880.8L325.7 878.0L326.5 877.2L328.1 876.4L329.7 876.8L331.3 878.0L332.9 878.2L333.7 878.4L334.5 878.9L336.1 879.1L339.3 880.8L340.1 881.0L341.7 881.0L342.5 881.4L343.3 881.5L344.1 881.5L344.9 881.3L345.7 881.5L346.5 882.4L347.3 882.9L348.1 882.8L348.9 882.5L349.7 882.5L350.5 882.3L352.1 882.7L354.5 882.6L356.1 882.0L356.9 882.0L357.7 882.1L358.5 882.7L359.3 882.8L360.9 882.0L361.7 882.5L362.5 882.6L364.1 881.7L366.5 882.3L367.3 881.9L368.9 881.8L369.7 882.0L370.5 882.0L372.1 881.0L372.9 881.4L373.7 882.0L374.5 882.3L375.3 882.0L376.1 881.9L380.1 881.7L380.9 881.7L382.5 881.3L383.3 880.9L384.1 881.2L384.9 882.3L385.7 882.8L386.5 882.9L387.3 882.5L389.7 884.0L390.5 884.1L391.3 883.8L392.9 883.7L393.7 884.1L396.1 884.6L398.5 885.6L400.1 885.8L401.7 887.4L403.3 887.0L404.9 887.8L406.5 887.3L407.3 887.5L409.7 888.6L410.5 889.3L411.3 889.8L414.5 890.1L415.3 890.4L416.9 891.9L417.7 892.0L418.5 892.3L419.3 892.4L420.1 892.9L420.9 893.0L423.3 894.8L424.1 895.2L425.7 896.6L426.5 896.9L427.3 897.3L428.1 897.2L430.5 898.3L431.3 898.2L432.1 898.4L434.5 900.0L436.1 900.1L436.9 900.7L437.7 901.7L438.5 901.9L439.3 901.5L440.1 901.5L442.5 903.5L443.3 903.9L445.7 903.8L447.3 904.8L448.1 905.6L448.9 906.0L451.3 906.9L452.1 906.8L453.7 907.3L456.1 908.9L457.7 909.1L458.5 909.0L459.3 909.4L460.1 909.3L462.5 911.4L463.3 911.2L464.1 910.7L464.9 911.1L466.5 912.2L468.9 913.0L469.7 913.7L470.5 914.2L472.1 914.2L472.9 914.7L473.7 914.8L475.3 914.7L476.1 915.2L476.9 915.2L477.7 915.4L478.5 915.4L479.3 915.9L480.1 915.8L480.9 916.2L482.5 918.0L484.1 917.8L484.9 918.0L485.7 918.6L487.3 918.9L488.1 918.3L488.9 918.3L490.5 919.2L491.3 918.8L492.1 918.6L492.9 919.1L493.7 919.8L494.5 919.9L496.1 919.9L496.9 920.3L497.7 920.2L498.5 920.4L499.3 920.8L500.1 921.6L500.9 921.8L501.7 921.9L503.3 921.2L504.1 921.1L505.7 921.5L507.3 921.5L508.9 921.8L509.7 922.2L510.5 922.2L512.1 921.9L512.9 922.2L513.7 922.2L515.3 921.7L516.9 922.5L517.7 922.6L519.3 921.9L521.7 922.9L523.3 922.8L524.1 923.0L525.7 922.8L526.5 922.4L527.3 922.4L528.1 922.6L528.9 923.0L530.5 923.1L532.1 923.6L532.9 923.6L533.7 923.7L534.5 924.1L535.3 924.0L536.1 924.1L536.9 923.6L538.5 923.3L539.3 923.7L540.1 923.9L540.9 923.6L542.5 923.4L543.3 923.9L544.1 923.9L544.9 924.0L545.7 923.8L546.5 924.2L548.1 923.8L548.9 923.9L549.7 924.3L550.5 924.6L551.3 924.2L552.9 923.8L553.7 923.8L554.5 923.5L555.3 923.9L556.1 924.5L558.5 925.2L559.3 925.3L559.7 924.9L560.1 919.4L560.5 924.9L560.9 924.7L561.7 924.7L563.3 924.1L564.9 924.8L566.5 924.8" fill="none" stroke="#363636" stroke-width="1.5" stroke-linejoin="round" stroke-opacity="1"/>
<path d="M138.0 1181.8L138.8 1182.4L139.6 1182.6L140.4 1183.4L141.2 1183.9L142.0 1184.6L142.8 1184.9L143.6 1185.4L144.4 1185.6L145.2 1185.4L146.0 1185.4L146.8 1185.5L147.6 1186.0L149.2 1185.4L150.0 1185.6L150.8 1186.5L151.6 1187.0L153.2 1186.8L154.0 1187.0L154.8 1186.7L155.6 1186.6L156.4 1186.7L157.2 1187.3L158.0 1187.7L160.4 1188.0L161.2 1188.4L162.0 1188.3L162.8 1188.5L163.6 1188.9L164.4 1188.8L166.0 1187.9L166.8 1188.4L167.6 1188.7L168.4 1188.4L169.2 1187.8L170.8 1187.3L171.6 1188.0L172.4 1188.4L173.2 1188.1L174.0 1187.3L174.8 1187.7L175.6 1187.8L177.2 1187.3L178.0 1187.8L179.6 1187.5L181.2 1187.9L182.8 1186.9L183.6 1187.3L184.4 1187.4L186.0 1187.0L186.8 1187.1L188.4 1186.9L189.2 1186.3L190.8 1185.6L191.6 1185.9L192.4 1185.8L193.2 1186.2L194.8 1185.8L195.6 1185.4L196.4 1185.3L197.2 1185.1L198.8 1183.9L199.6 1183.9L200.4 1184.5L201.2 1184.5L202.0 1184.2L202.8 1183.4L203.6 1183.5L204.4 1183.2L206.0 1183.3L206.8 1183.8L207.6 1183.6L209.2 1182.0L210.8 1182.2L211.6 1182.1L212.4 1181.6L214.0 1181.4L214.8 1181.7L215.6 1181.6L216.4 1181.9L218.0 1181.9L218.8 1181.5L219.6 1180.9L220.4 1180.7L222.0 1181.1L223.6 1179.6L224.4 1179.3L225.2 1179.3L226.0 1179.7L227.6 1180.3L228.4 1179.7L230.0 1179.5L230.8 1179.8L234.8 1177.6L236.4 1177.9L237.2 1177.8L238.0 1177.5L240.4 1178.1L242.0 1177.7L243.6 1177.4L245.2 1176.8L246.0 1176.8L246.8 1176.6L248.4 1175.7L250.0 1175.6L250.8 1176.0L252.4 1175.4L253.2 1175.4L254.0 1176.0L256.4 1173.8L258.0 1173.7L259.6 1174.6L261.2 1174.0L262.0 1173.5L262.8 1173.6L263.6 1173.2L264.4 1173.0L265.2 1172.5L266.8 1171.7L267.6 1172.0L269.2 1171.7L270.0 1171.8L270.8 1171.6L273.2 1170.2L274.0 1169.5L274.8 1169.2L275.6 1169.7L277.2 1169.2L278.0 1169.2L278.8 1169.5L279.6 1169.5L280.4 1169.3L281.2 1169.4L282.0 1168.9L282.8 1168.8L283.6 1168.8L284.4 1169.0L285.2 1168.8L286.0 1168.4L287.6 1168.1L288.4 1167.8L290.0 1166.7L290.8 1166.8L292.4 1166.6L293.2 1166.3L295.6 1167.0L296.4 1166.9L298.0 1165.9L298.8 1165.6L299.6 1165.8L300.4 1165.6L302.0 1165.1L302.8 1165.2L303.6 1165.0L304.4 1164.9L305.2 1164.7L306.0 1164.6L306.8 1164.1L308.4 1164.0L309.2 1164.2L311.6 1162.8L312.4 1162.7L313.2 1161.9L314.8 1161.3L315.6 1161.3L316.4 1160.5L317.2 1160.6L318.8 1159.4L319.6 1158.6L320.4 1158.1L322.0 1155.4L322.8 1154.3L323.6 1153.9L326.0 1151.4L326.8 1151.6L327.6 1152.3L328.4 1152.3L329.2 1151.9L330.0 1151.7L332.4 1151.3L334.8 1152.5L336.4 1152.9L337.2 1152.8L338.8 1152.4L339.6 1152.8L341.2 1154.0L342.0 1154.3L344.4 1154.3L345.2 1154.6L346.0 1154.6L346.8 1154.5L347.6 1154.6L350.0 1155.3L350.8 1156.0L351.6 1156.4L352.4 1157.1L354.0 1157.0L354.8 1156.8L355.6 1157.4L356.4 1157.3L357.2 1157.5L358.0 1157.8L358.8 1158.3L359.6 1158.2L360.4 1157.7L362.0 1157.6L362.8 1158.1L364.4 1158.1L365.2 1157.8L366.0 1157.9L366.8 1158.2L367.6 1158.7L368.4 1158.9L370.8 1158.5L371.6 1158.7L372.4 1158.7L373.2 1158.6L374.0 1158.1L377.2 1158.8L378.0 1158.8L378.8 1158.7L381.2 1158.0L382.8 1158.4L384.4 1158.5L386.8 1158.0L387.6 1158.6L388.4 1158.6L389.2 1158.2L390.0 1157.5L391.6 1158.0L393.2 1159.0L394.0 1159.1L394.8 1158.5L395.6 1158.1L396.4 1158.0L397.2 1158.2L398.0 1157.7L398.8 1157.5L399.6 1157.6L400.4 1158.3L401.2 1158.4L402.0 1158.0L403.6 1158.4L405.2 1158.3L408.4 1159.7L410.8 1159.3L411.6 1159.6L412.4 1160.2L413.2 1160.5L414.8 1160.1L417.2 1161.0L418.8 1161.2L420.4 1162.1L421.2 1162.2L422.8 1162.9L423.6 1162.5L424.4 1161.9L425.2 1161.9L426.0 1162.4L426.8 1162.8L427.6 1162.8L428.4 1162.5L429.2 1162.5L430.8 1163.6L431.6 1163.4L432.4 1162.8L433.2 1162.8L434.8 1163.2L435.6 1162.9L437.2 1164.0L438.0 1164.2L438.8 1163.9L439.6 1163.9L442.0 1164.1L442.8 1164.5L443.6 1164.7L445.2 1164.8L446.0 1165.2L446.8 1165.4L448.4 1165.4L449.2 1165.6L450.0 1166.2L450.8 1166.3L451.6 1166.0L452.4 1166.0L453.2 1166.3L454.0 1166.9L454.8 1167.1L455.6 1167.4L456.4 1167.6L457.2 1168.0L458.0 1167.8L460.4 1168.8L461.2 1168.6L462.8 1169.3L463.6 1169.4L465.2 1169.0L466.8 1169.8L468.4 1170.2L470.8 1169.9L472.4 1171.1L474.0 1170.7L475.6 1171.6L477.2 1170.7L478.0 1171.5L478.8 1172.1L479.6 1171.9L480.4 1171.5L482.0 1172.0L482.8 1172.1L483.6 1172.5L485.2 1172.4L486.0 1172.2L486.8 1172.4L487.6 1172.4L488.4 1172.6L489.2 1172.6L491.6 1172.4L492.4 1172.1L493.2 1172.2L494.8 1173.0L496.4 1173.4L497.2 1173.3L498.0 1173.6L498.8 1174.0L499.6 1174.2L500.4 1173.6L501.2 1173.4L502.0 1173.5L502.8 1174.1L505.2 1173.1L506.8 1173.6L509.2 1173.7L510.0 1173.6L511.6 1172.9L512.4 1173.1L514.8 1174.4L517.2 1174.7L519.6 1174.5L520.4 1174.7L522.0 1175.5L522.8 1175.4L523.6 1174.8L525.2 1174.6L526.0 1175.1L526.8 1175.3L527.6 1175.8L528.4 1176.0L529.2 1175.9L530.8 1174.7L532.4 1175.0L533.2 1175.3L535.6 1176.8L536.4 1177.0L537.2 1176.5L538.0 1176.2L539.6 1176.6L540.4 1176.1L541.2 1175.9L542.8 1176.5L543.6 1176.5L546.0 1175.9L546.8 1176.0L547.6 1176.5L549.2 1177.1L550.0 1177.0L550.8 1177.2L552.4 1177.3L553.2 1177.2L554.0 1177.8L554.8 1177.9L555.6 1177.9L556.4 1177.1L557.2 1177.3L558.0 1177.7L558.8 1177.9L559.2 1177.6L559.6 1172.1L560.0 1177.6L560.4 1177.4L563.6 1178.1L565.2 1177.6L566.0 1177.6" fill="none" stroke="#363636" stroke-width="1.5" stroke-linejoin="round" stroke-opacity="1"/>
<path d="M138.0 1246.7L138.8 1245.7L139.6 1245.3L140.4 1244.7L142.0 1242.5L143.6 1242.3L145.2 1240.8L146.0 1240.8L146.8 1241.0L147.6 1241.3L148.4 1241.3L149.2 1240.8L150.0 1240.8L151.6 1242.5L153.2 1242.8L154.0 1243.5L154.8 1243.8L155.6 1243.7L156.4 1243.1L157.2 1243.7L158.0 1244.0L158.8 1244.0L159.6 1243.7L160.4 1244.1L161.2 1244.0L162.0 1243.3L162.8 1242.9L163.6 1243.1L164.4 1243.0L165.2 1242.5L166.0 1242.4L166.8 1242.7L167.6 1242.5L169.2 1242.3L170.0 1242.9L172.4 1241.1L173.2 1241.8L174.0 1241.5L175.6 1240.7L176.4 1241.0L177.2 1241.1L178.0 1240.5L180.4 1240.2L181.2 1239.9L182.0 1239.8L182.8 1239.5L183.6 1238.8L187.6 1237.3L188.4 1237.6L189.2 1237.5L190.8 1236.5L191.6 1236.6L192.4 1237.3L193.2 1237.8L194.0 1237.7L194.8 1236.7L195.6 1236.6L196.4 1236.7L197.2 1236.2L198.0 1235.4L198.8 1235.0L199.6 1235.4L200.4 1235.5L201.2 1235.4L202.8 1234.0L205.2 1235.2L206.8 1234.8L208.4 1233.6L209.2 1233.6L211.6 1233.1L212.4 1233.2L213.2 1232.9L214.8 1231.9L215.6 1232.0L216.4 1232.5L217.2 1232.6L219.6 1230.9L220.4 1230.9L221.2 1230.2L223.6 1228.6L224.4 1228.4L225.2 1228.4L226.0 1227.5L226.8 1226.2L227.6 1225.6L228.4 1225.8L230.0 1224.4L234.0 1222.6L234.8 1221.9L235.6 1221.8L237.2 1222.1L238.0 1221.8L238.8 1221.8L240.4 1222.8L244.4 1224.3L245.2 1224.4L246.0 1224.3L246.8 1223.8L247.6 1222.8L251.6 1212.9L252.4 1211.3L253.2 1210.8L254.8 1211.6L255.6 1212.3L256.4 1213.3L257.2 1213.9L259.6 1215.6L260.4 1215.9L261.2 1215.8L263.6 1216.1L265.2 1215.7L266.0 1215.8L266.8 1216.5L267.6 1216.9L269.2 1216.9L270.0 1216.6L270.8 1215.7L271.6 1214.0L272.4 1213.0L273.2 1212.5L274.0 1211.3L275.6 1206.4L280.4 1194.5L281.2 1194.3L282.0 1195.3L282.8 1196.7L283.6 1197.2L284.4 1198.0L285.2 1199.2L286.0 1200.8L287.6 1203.0L290.0 1204.5L290.8 1205.8L291.6 1206.5L292.4 1206.3L294.0 1207.0L294.8 1207.0L296.4 1206.7L298.0 1205.9L298.8 1205.8L299.6 1205.4L301.2 1204.1L302.0 1203.8L304.4 1201.2L305.2 1200.8L306.8 1199.1L307.6 1198.4L308.4 1197.2L309.2 1196.6L310.0 1196.2L310.8 1196.3L311.6 1195.7L312.4 1195.4L314.0 1196.0L314.8 1195.9L315.6 1194.8L316.4 1194.4L317.2 1194.3L318.0 1194.2L318.8 1193.7L319.6 1193.8L322.0 1192.5L322.8 1192.4L323.6 1191.8L324.4 1191.5L325.2 1190.7L326.0 1188.2L327.6 1182.2L329.2 1177.0L330.0 1175.7L330.8 1176.5L331.6 1179.0L332.4 1180.7L334.0 1183.0L334.8 1184.4L335.6 1184.7L336.4 1184.7L337.2 1184.5L338.0 1183.8L338.8 1182.9L339.6 1182.3L340.4 1181.9L341.2 1181.3L342.0 1181.1L342.8 1180.7L344.4 1181.3L346.0 1182.2L347.6 1184.7L349.2 1185.3L350.0 1185.4L350.8 1184.3L351.6 1182.4L353.2 1177.6L355.6 1171.6L356.4 1170.6L357.2 1170.4L358.0 1170.9L358.8 1172.0L360.4 1174.7L361.2 1175.8L362.0 1176.5L363.6 1179.3L364.4 1180.4L366.0 1181.0L366.8 1180.9L367.6 1180.3L368.4 1179.3L370.0 1178.2L372.4 1175.7L374.0 1174.6L374.8 1174.3L375.6 1174.5L376.4 1175.0L377.2 1176.6L378.0 1177.6L378.8 1178.5L379.6 1178.8L380.4 1179.7L381.2 1180.8L382.0 1182.5L382.8 1183.8L383.6 1183.7L385.2 1182.4L387.6 1182.6L388.4 1182.1L389.2 1181.2L390.8 1178.2L391.6 1177.6L392.4 1177.5L393.2 1177.9L394.0 1177.7L395.6 1179.2L396.4 1180.5L397.2 1181.9L398.0 1184.0L399.6 1187.1L400.4 1187.4L402.0 1186.6L403.6 1187.3L404.4 1187.4L405.2 1187.2L406.0 1186.7L408.4 1186.8L409.2 1186.4L410.0 1185.7L411.6 1180.8L414.0 1174.4L414.8 1173.5L415.6 1175.7L416.4 1178.8L417.2 1182.7L418.8 1188.5L420.4 1193.1L421.2 1194.8L422.0 1195.8L422.8 1196.3L424.4 1196.5L425.2 1196.4L426.0 1196.4L426.8 1197.0L427.6 1197.4L428.4 1197.2L429.2 1197.3L430.8 1197.2L431.6 1196.8L434.0 1197.5L434.8 1197.3L435.6 1196.8L437.2 1194.6L441.2 1184.5L442.0 1183.2L442.8 1182.7L443.6 1184.6L445.2 1191.8L446.8 1197.6L447.6 1200.2L448.4 1202.1L449.2 1203.4L450.0 1204.3L451.6 1205.7L452.4 1206.8L453.2 1207.4L454.0 1207.6L456.4 1206.4L457.2 1206.6L458.0 1206.5L458.8 1206.1L459.6 1205.3L460.4 1204.9L461.2 1204.9L462.0 1205.2L462.8 1205.2L463.6 1205.4L465.2 1206.5L466.0 1206.6L466.8 1207.2L468.4 1209.4L470.8 1211.5L472.4 1211.7L473.2 1212.2L474.0 1213.1L475.6 1213.0L476.4 1213.2L477.2 1213.6L478.0 1213.5L478.8 1213.6L480.4 1214.9L481.2 1215.1L482.0 1215.0L483.6 1216.0L484.4 1215.8L485.2 1215.2L486.0 1215.3L489.2 1217.9L490.0 1218.3L490.8 1218.3L492.4 1218.8L493.2 1218.6L494.0 1218.0L494.8 1218.2L495.6 1218.9L496.4 1219.3L498.0 1218.6L500.4 1219.7L501.2 1219.4L502.8 1220.3L503.6 1220.4L504.4 1219.5L505.2 1218.9L507.6 1219.3L508.4 1219.0L510.8 1218.7L511.6 1218.9L512.4 1219.3L513.2 1219.3L514.8 1218.7L515.6 1219.0L516.4 1218.7L518.0 1219.4L518.8 1220.2L520.4 1220.7L521.2 1221.2L522.0 1222.1L522.8 1222.4L523.6 1222.2L524.4 1222.3L526.0 1223.8L526.8 1223.9L527.6 1224.3L528.4 1225.0L529.2 1225.1L530.8 1225.0L531.6 1225.3L533.2 1224.9L534.0 1225.1L536.4 1225.0L537.2 1225.1L538.8 1224.5L540.4 1225.3L541.2 1225.3L542.0 1224.9L544.4 1225.3L545.2 1225.0L546.8 1224.7L548.4 1225.3L550.0 1224.9L550.8 1225.0L551.6 1225.8L552.4 1225.9L553.2 1225.9L554.0 1225.4L555.6 1225.3L557.2 1225.6L558.0 1226.1L559.2 1226.5L559.6 1221.0L560.0 1226.5L560.4 1225.7L561.2 1225.8L562.0 1225.4L562.8 1225.7L563.6 1225.8L564.4 1226.4L565.2 1226.1L566.0 1225.9" fill="none" stroke="#5a5a5a" stroke-width="1.5" stroke-linejoin="round" stroke-opacity="1"/>
<path d="M138.0 1274.3L142.0 1274.4L142.8 1274.3L143.6 1273.8L145.2 1273.7L146.8 1274.2L149.2 1273.3L150.0 1273.2L150.8 1272.8L151.6 1273.0L152.4 1273.4L153.2 1274.0L154.0 1273.6L155.6 1272.4L156.4 1272.6L158.0 1271.8L158.8 1272.0L159.6 1272.3L160.4 1272.2L162.8 1272.5L163.6 1271.9L164.4 1271.1L165.2 1270.9L166.8 1271.9L169.2 1271.1L170.0 1271.2L170.8 1271.1L172.4 1270.5L173.2 1270.7L174.0 1271.2L174.8 1271.1L175.6 1271.3L176.4 1270.9L177.2 1270.8L178.0 1270.0L178.8 1270.0L179.6 1270.4L180.4 1270.2L182.0 1269.3L182.8 1269.2L183.6 1268.9L184.4 1268.9L186.0 1269.4L187.6 1268.7L190.0 1269.0L190.8 1268.6L193.2 1268.1L194.8 1267.3L197.2 1267.2L201.2 1266.3L202.0 1265.7L202.8 1265.3L203.6 1265.4L204.4 1265.8L205.2 1265.9L207.6 1264.3L209.2 1264.5L210.8 1265.2L211.6 1265.3L213.2 1263.8L214.0 1263.4L215.6 1262.9L218.0 1262.5L218.8 1261.9L219.6 1261.5L220.4 1261.6L221.2 1262.0L222.8 1261.2L225.2 1260.6L226.0 1260.6L227.6 1260.9L230.0 1260.1L230.8 1260.2L232.4 1259.8L233.2 1259.7L234.0 1260.1L234.8 1260.3L235.6 1260.1L237.2 1259.1L238.0 1258.8L238.8 1258.8L241.2 1258.1L242.0 1258.1L243.6 1257.2L244.4 1257.1L245.2 1256.8L246.0 1256.9L247.6 1255.1L249.2 1253.1L250.8 1251.7L252.4 1252.5L253.2 1252.6L254.8 1252.1L255.6 1252.2L257.2 1251.5L258.0 1251.3L258.8 1251.3L259.6 1251.7L260.4 1251.3L261.2 1251.2L262.8 1251.8L265.2 1251.9L266.0 1251.8L266.8 1251.9L270.0 1251.1L271.6 1249.3L273.2 1247.8L274.0 1246.8L274.8 1245.3L275.6 1244.2L276.4 1243.7L277.2 1243.8L278.8 1242.6L280.4 1241.8L281.2 1241.7L282.0 1242.3L283.6 1243.9L284.4 1244.4L285.2 1244.7L286.8 1244.8L287.6 1244.9L288.4 1244.8L289.2 1244.9L290.0 1244.4L291.6 1244.0L293.2 1243.9L294.0 1244.0L294.8 1243.7L296.4 1242.4L297.2 1242.2L298.0 1242.3L298.8 1241.8L300.4 1240.7L302.0 1240.0L302.8 1239.8L305.2 1238.7L307.6 1238.7L308.4 1238.6L309.2 1238.1L310.8 1238.0L311.6 1237.5L313.2 1236.8L314.0 1237.1L314.8 1236.7L317.2 1236.7L318.8 1236.1L319.6 1235.6L321.2 1235.3L322.0 1235.3L322.8 1234.7L323.6 1234.5L324.4 1233.8L326.8 1230.2L327.6 1229.6L328.4 1228.6L330.0 1229.1L330.8 1230.0L331.6 1230.4L332.4 1231.0L334.0 1232.0L335.6 1232.1L336.4 1231.2L339.6 1227.1L340.4 1226.6L341.2 1227.0L342.0 1226.9L342.8 1226.4L344.4 1226.0L345.2 1226.1L346.0 1225.5L346.8 1225.7L347.6 1225.5L348.4 1225.9L350.0 1225.6L351.6 1225.1L352.4 1225.3L353.2 1225.2L354.0 1225.4L355.6 1225.1L357.2 1225.1L358.8 1224.6L361.2 1225.9L362.0 1225.7L364.4 1224.9L366.0 1224.6L366.8 1224.9L367.6 1224.9L369.2 1225.4L370.8 1226.3L372.4 1225.8L374.0 1226.2L375.6 1225.5L376.4 1226.0L378.0 1226.6L378.8 1226.6L379.6 1226.2L380.4 1226.1L381.2 1226.7L382.0 1227.6L382.8 1228.1L383.6 1228.3L385.2 1228.1L387.6 1228.4L388.4 1228.9L390.0 1229.2L390.8 1229.0L393.2 1230.9L394.0 1231.1L394.8 1231.4L396.4 1231.4L397.2 1232.0L398.0 1232.3L399.6 1232.1L401.2 1233.3L402.8 1232.7L403.6 1232.7L404.4 1233.1L405.2 1233.8L406.0 1234.0L406.8 1234.1L407.6 1233.7L408.4 1234.1L409.2 1234.7L410.0 1235.0L410.8 1234.7L412.4 1232.4L413.2 1232.1L414.8 1232.8L415.6 1233.1L416.4 1233.5L417.2 1234.7L418.0 1235.5L419.6 1236.4L420.4 1237.2L422.0 1238.1L423.6 1238.5L424.4 1238.6L425.2 1238.6L426.8 1238.9L428.4 1239.0L429.2 1239.4L430.0 1239.1L430.8 1239.0L431.6 1238.8L433.2 1239.6L434.0 1240.3L434.8 1240.3L435.6 1239.9L436.4 1239.7L437.2 1239.7L438.0 1240.3L439.6 1241.1L440.4 1241.0L441.2 1240.7L442.0 1240.6L442.8 1241.0L443.6 1241.8L444.4 1242.2L445.2 1242.4L446.0 1242.0L447.6 1242.0L449.2 1244.5L450.0 1245.5L451.6 1245.6L452.4 1245.8L453.2 1245.7L454.8 1246.4L455.6 1247.2L457.2 1247.9L458.8 1248.3L461.2 1248.4L462.8 1248.9L463.6 1249.3L464.4 1249.5L466.0 1250.3L467.6 1250.8L468.4 1250.7L469.2 1251.0L470.0 1250.9L471.6 1251.5L472.4 1252.3L474.0 1252.7L474.8 1252.4L476.4 1252.4L478.0 1253.3L478.8 1253.5L479.6 1253.2L480.4 1253.3L482.0 1254.4L483.6 1254.0L484.4 1254.1L485.2 1254.8L486.0 1254.9L486.8 1254.6L488.4 1254.9L490.0 1254.2L490.8 1254.7L491.6 1255.6L492.4 1256.0L494.0 1255.6L494.8 1255.2L496.4 1255.1L498.0 1256.1L500.4 1256.6L501.2 1257.0L502.8 1256.8L503.6 1257.2L504.4 1257.8L506.0 1257.7L506.8 1257.4L507.6 1257.8L508.4 1257.9L510.0 1257.3L510.8 1257.1L514.0 1258.3L516.4 1259.0L518.0 1258.6L518.8 1258.1L519.6 1258.1L522.0 1259.4L523.6 1259.8L525.2 1259.4L526.0 1259.7L526.8 1259.6L527.6 1259.0L528.4 1258.7L529.2 1258.8L530.0 1259.2L530.8 1259.1L531.6 1259.1L532.4 1259.0L534.0 1258.3L534.8 1258.5L535.6 1259.5L536.4 1260.3L537.2 1260.4L538.8 1259.5L539.6 1259.7L540.4 1260.1L541.2 1260.2L542.0 1259.9L545.2 1259.2L546.8 1259.8L549.2 1260.0L550.0 1259.5L550.8 1259.4L551.6 1259.5L552.4 1260.2L553.2 1260.5L554.0 1260.6L554.8 1260.5L555.6 1260.2L557.2 1260.3L558.0 1260.1L558.8 1260.3L559.2 1260.7L559.6 1255.2L560.0 1260.7L560.4 1261.3L562.0 1260.8L562.8 1260.0L563.6 1259.7L564.4 1259.8L566.0 1260.6" fill="none" stroke="#363636" stroke-width="1.5" stroke-linejoin="round" stroke-opacity="1"/>
<path d="M138.0 1293.2L138.8 1293.3L141.2 1292.8L142.8 1293.9L143.6 1294.1L144.4 1293.8L145.2 1293.4L146.0 1293.1L147.6 1293.3L149.2 1292.7L150.8 1292.6L152.4 1292.1L154.0 1293.0L154.8 1293.1L155.6 1292.9L157.2 1292.6L158.0 1292.3L158.8 1292.2L159.6 1293.0L160.4 1293.0L162.0 1291.3L164.4 1291.6L165.2 1291.8L166.0 1291.6L166.8 1291.2L167.6 1291.2L168.4 1291.5L169.2 1291.4L170.8 1291.7L171.6 1292.3L172.4 1291.8L173.2 1291.0L174.0 1290.5L174.8 1291.1L175.6 1291.2L176.4 1290.9L177.2 1291.0L178.0 1291.5L178.8 1291.6L179.6 1290.7L180.4 1290.1L181.2 1289.8L182.0 1290.6L183.6 1291.1L184.4 1290.7L185.2 1290.7L186.8 1290.0L187.6 1290.0L188.4 1289.6L189.2 1289.4L190.0 1289.6L190.8 1290.0L192.4 1289.4L193.2 1289.4L194.8 1289.0L195.6 1289.0L196.4 1289.4L197.2 1289.5L198.0 1289.0L198.8 1288.8L199.6 1289.0L201.2 1289.1L202.8 1288.0L203.6 1287.6L205.2 1287.9L206.8 1287.1L207.6 1287.3L208.4 1287.6L210.0 1287.0L210.8 1286.9L211.6 1287.1L213.2 1286.9L214.0 1287.0L214.8 1286.7L216.4 1285.6L217.2 1285.8L219.6 1285.4L220.4 1285.3L221.2 1284.9L222.0 1285.0L222.8 1285.4L224.4 1284.7L225.2 1284.5L226.0 1285.1L227.6 1284.7L228.4 1283.8L230.8 1283.7L231.6 1283.1L232.4 1283.0L233.2 1282.8L234.0 1282.9L235.6 1282.6L236.4 1282.9L237.2 1283.1L238.0 1282.9L238.8 1282.2L240.4 1281.7L241.2 1281.2L242.8 1281.1L243.6 1281.2L244.4 1280.7L245.2 1280.5L246.0 1280.2L246.8 1280.1L247.6 1279.6L248.4 1279.4L249.2 1279.5L250.8 1280.5L251.6 1279.9L252.4 1279.2L253.2 1278.7L254.0 1278.6L254.8 1278.2L255.6 1278.1L256.4 1278.4L257.2 1278.4L258.0 1277.7L258.8 1277.3L259.6 1277.3L260.4 1277.9L261.2 1278.0L262.8 1276.8L263.6 1276.4L265.2 1275.9L266.0 1276.1L266.8 1275.7L267.6 1275.2L268.4 1275.0L270.0 1274.8L271.6 1274.8L272.4 1274.5L273.2 1274.5L274.8 1275.0L276.4 1273.6L277.2 1273.2L278.0 1273.4L280.4 1272.9L281.2 1272.6L282.0 1271.8L282.8 1271.6L283.6 1271.6L284.4 1272.2L285.2 1272.0L286.0 1271.6L287.6 1271.6L288.4 1271.4L289.2 1270.8L290.0 1270.7L290.8 1270.0L291.6 1269.7L293.2 1270.3L295.6 1269.1L296.4 1268.8L298.8 1268.4L300.4 1267.4L302.0 1266.9L302.8 1267.0L303.6 1266.9L304.4 1267.1L305.2 1266.7L306.0 1266.1L306.8 1265.3L307.6 1264.7L308.4 1264.4L309.2 1264.6L310.0 1264.2L310.8 1264.1L311.6 1263.8L312.4 1263.9L313.2 1263.7L314.8 1263.5L316.4 1262.4L317.2 1261.7L318.8 1261.4L319.6 1261.6L322.0 1261.6L324.4 1259.8L325.2 1259.6L326.0 1259.6L326.8 1259.9L327.6 1259.9L328.4 1259.5L330.0 1258.1L331.6 1257.2L333.2 1257.0L334.0 1257.7L334.8 1257.6L336.4 1256.3L337.2 1256.3L338.0 1256.6L338.8 1256.3L339.6 1256.2L340.4 1255.8L342.0 1256.0L343.6 1255.7L344.4 1256.2L345.2 1256.9L346.0 1256.9L347.6 1255.9L348.4 1255.8L349.2 1256.3L350.0 1257.0L350.8 1257.1L352.4 1255.4L353.2 1255.6L354.0 1256.2L354.8 1256.5L356.4 1255.7L357.2 1255.6L358.0 1256.0L358.8 1256.1L360.4 1255.5L361.2 1255.6L362.0 1255.9L363.6 1255.5L364.4 1255.6L365.2 1255.9L366.0 1255.9L367.6 1255.5L368.4 1255.6L369.2 1255.5L370.0 1255.6L370.8 1255.2L372.4 1255.1L374.0 1255.3L374.8 1255.6L375.6 1256.2L376.4 1256.1L379.6 1255.5L380.4 1256.1L381.2 1256.5L382.0 1256.3L382.8 1256.0L383.6 1256.6L384.4 1257.0L385.2 1257.0L386.0 1256.7L386.8 1256.9L387.6 1257.3L389.2 1257.2L390.0 1257.5L390.8 1258.2L392.4 1258.4L393.2 1258.4L394.0 1258.6L395.6 1260.0L397.2 1259.4L398.8 1260.4L400.4 1260.3L401.2 1260.4L402.0 1261.4L402.8 1261.3L404.4 1260.5L405.2 1261.0L406.0 1261.2L406.8 1261.7L408.4 1261.7L409.2 1261.4L410.0 1261.9L410.8 1262.6L411.6 1262.9L413.2 1262.4L414.8 1262.6L416.4 1263.0L417.2 1263.3L418.0 1263.4L419.6 1263.2L420.4 1263.7L421.2 1264.5L423.6 1265.0L424.4 1265.0L426.0 1265.7L426.8 1266.4L428.4 1265.9L430.0 1265.9L430.8 1266.1L431.6 1266.5L432.4 1267.0L433.2 1267.1L435.6 1267.8L437.2 1267.9L438.0 1267.8L440.4 1268.5L441.2 1268.2L442.0 1268.3L442.8 1268.2L444.4 1268.5L445.2 1269.6L446.0 1270.1L446.8 1270.3L447.6 1269.9L448.4 1269.9L449.2 1269.6L450.0 1270.0L451.6 1271.3L453.2 1271.3L454.8 1271.5L455.6 1272.0L456.4 1272.2L457.2 1272.3L458.0 1271.8L459.6 1271.8L461.2 1272.6L462.0 1272.6L463.6 1273.0L465.2 1273.1L466.8 1273.8L467.6 1273.5L469.2 1274.0L470.8 1274.0L471.6 1274.3L472.4 1274.8L474.8 1274.3L475.6 1274.5L476.4 1274.5L477.2 1275.0L478.8 1275.6L480.4 1275.7L482.0 1275.2L483.6 1276.3L484.4 1277.1L485.2 1277.3L486.0 1277.4L487.6 1277.0L489.2 1276.9L490.0 1277.4L491.6 1276.9L492.4 1276.9L494.0 1278.3L494.8 1278.3L495.6 1278.1L496.4 1277.6L497.2 1277.7L498.8 1278.4L500.4 1278.4L501.2 1278.6L502.0 1278.6L502.8 1278.9L503.6 1279.5L504.4 1279.5L505.2 1279.1L506.0 1278.4L506.8 1278.4L507.6 1278.8L508.4 1279.1L509.2 1278.8L511.6 1279.2L512.4 1279.2L513.2 1279.6L514.0 1279.2L514.8 1279.2L515.6 1279.6L516.4 1279.5L518.8 1280.0L519.6 1279.6L521.2 1279.6L522.8 1278.7L523.6 1278.8L525.2 1279.7L526.0 1279.9L526.8 1279.4L527.6 1279.2L530.0 1279.7L531.6 1280.2L533.2 1280.2L534.0 1280.4L534.8 1280.2L535.6 1280.8L537.2 1281.0L538.0 1280.5L539.6 1280.0L540.4 1280.3L541.2 1280.8L542.0 1281.0L544.4 1280.0L545.2 1280.3L546.0 1281.0L546.8 1281.2L548.4 1280.6L549.2 1280.7L550.0 1280.6L551.6 1281.2L553.2 1281.1L554.0 1281.0L556.4 1281.1L558.0 1280.2L558.8 1280.4L559.2 1280.7L559.6 1275.2L560.0 1280.7L561.2 1280.7L562.0 1280.9L562.8 1281.4L564.4 1281.6L565.2 1281.5L566.0 1281.8" fill="none" stroke="#363636" stroke-width="1.5" stroke-linejoin="round" stroke-opacity="1"/>
<path d="M138.0 1324.4L138.8 1324.6L139.6 1325.3L141.2 1325.0L142.0 1324.5L142.8 1324.4L144.4 1324.4L145.2 1324.8L146.0 1324.1L147.6 1323.1L148.4 1323.5L149.2 1323.5L150.0 1323.3L150.8 1323.4L151.6 1323.2L152.4 1323.5L153.2 1323.5L156.4 1323.3L157.2 1323.1L158.8 1323.8L159.6 1323.6L161.2 1322.4L162.8 1322.5L163.6 1322.4L165.2 1321.6L166.0 1321.5L167.6 1321.6L169.2 1321.0L170.8 1320.9L171.6 1321.1L172.4 1321.8L173.2 1322.0L174.8 1321.1L175.6 1321.1L176.4 1320.7L177.2 1320.6L178.0 1320.8L178.8 1320.8L180.4 1320.0L182.8 1320.0L183.6 1320.3L184.4 1320.2L185.2 1319.9L186.0 1319.3L186.8 1318.9L188.4 1319.2L189.2 1319.6L190.8 1319.5L192.4 1318.7L193.2 1318.5L194.8 1318.5L195.6 1318.1L196.4 1318.1L198.0 1318.2L199.6 1318.2L200.4 1318.0L202.0 1317.1L203.6 1316.9L205.2 1316.0L207.6 1317.0L210.0 1316.5L211.6 1316.9L213.2 1315.5L214.0 1315.0L216.4 1314.4L217.2 1314.5L218.0 1314.0L219.6 1314.5L220.4 1314.3L221.2 1313.4L222.0 1313.4L222.8 1314.0L223.6 1314.2L224.4 1314.1L226.0 1313.8L227.6 1313.2L228.4 1312.8L229.2 1312.7L232.4 1312.7L234.0 1311.9L235.6 1311.9L236.4 1311.6L237.2 1311.8L238.0 1311.8L238.8 1312.0L239.6 1311.9L241.2 1311.4L242.0 1311.5L242.8 1311.4L243.6 1310.7L244.4 1310.3L245.2 1310.2L246.0 1309.9L246.8 1310.1L247.6 1310.0L248.4 1310.1L249.2 1309.6L250.0 1309.6L250.8 1309.2L251.6 1309.0L253.2 1307.9L254.0 1308.0L255.6 1308.8L257.2 1308.3L258.0 1307.7L260.4 1306.8L261.2 1306.9L262.0 1307.2L263.6 1306.6L265.2 1306.3L266.0 1305.3L266.8 1304.7L267.6 1304.6L268.4 1304.9L269.2 1304.9L270.0 1304.4L271.6 1304.0L272.4 1304.4L274.0 1303.8L274.8 1303.3L277.2 1302.9L278.8 1302.5L279.6 1302.6L281.2 1301.9L282.0 1301.3L282.8 1301.1L283.6 1300.5L284.4 1300.8L285.2 1300.7L286.0 1301.0L286.8 1300.9L287.6 1300.9L288.4 1300.2L289.2 1300.1L290.0 1299.6L291.6 1299.1L292.4 1299.5L293.2 1299.2L294.0 1298.0L294.8 1297.5L296.4 1298.1L297.2 1297.6L298.0 1297.6L298.8 1297.3L299.6 1296.5L300.4 1296.3L301.2 1296.3L302.0 1296.0L302.8 1295.4L304.4 1295.3L305.2 1295.1L307.6 1295.4L308.4 1295.1L310.0 1293.9L311.6 1293.2L312.4 1292.7L313.2 1292.3L314.0 1292.9L314.8 1292.9L315.6 1292.8L316.4 1292.3L317.2 1292.2L318.8 1291.2L319.6 1291.0L321.2 1291.5L322.0 1291.2L322.8 1290.2L324.4 1289.1L325.2 1288.8L326.0 1288.3L326.8 1288.5L327.6 1288.0L328.4 1287.9L329.2 1287.1L330.0 1286.9L330.8 1285.8L331.6 1285.1L332.4 1285.2L333.2 1285.6L335.6 1285.3L337.2 1284.8L338.0 1285.1L338.8 1285.1L340.4 1284.8L341.2 1284.5L343.6 1285.0L345.2 1285.0L346.0 1284.5L346.8 1283.7L347.6 1283.8L348.4 1284.5L349.2 1284.9L350.8 1284.5L351.6 1284.6L352.4 1285.0L354.0 1285.2L354.8 1284.9L355.6 1284.8L356.4 1284.2L357.2 1284.0L358.8 1284.3L360.4 1284.2L361.2 1283.9L362.0 1283.3L363.6 1283.6L364.4 1284.0L365.2 1283.6L366.0 1283.7L366.8 1283.4L367.6 1283.7L369.2 1284.0L370.8 1283.4L372.4 1283.0L374.8 1283.4L376.4 1283.4L377.2 1283.7L378.8 1283.9L381.2 1283.9L382.8 1285.1L383.6 1285.3L385.2 1285.1L386.0 1285.3L386.8 1286.1L388.4 1286.8L390.8 1286.3L392.4 1286.9L394.0 1287.1L395.6 1287.7L396.4 1288.2L398.0 1288.1L398.8 1287.8L399.6 1288.3L400.4 1288.6L401.2 1288.7L402.0 1288.6L404.4 1289.0L406.0 1289.1L406.8 1289.7L407.6 1289.8L408.4 1290.6L410.0 1291.3L410.8 1291.2L411.6 1291.9L412.4 1292.4L413.2 1292.4L414.0 1292.1L414.8 1292.6L415.6 1292.7L416.4 1292.8L417.2 1292.7L418.0 1293.0L419.6 1293.2L420.4 1293.7L421.2 1294.8L422.0 1294.9L423.6 1294.2L425.2 1294.3L426.0 1294.5L426.8 1295.1L427.6 1295.2L428.4 1295.8L429.2 1296.2L430.0 1296.2L430.8 1295.9L431.6 1296.2L433.2 1297.5L434.0 1297.6L434.8 1297.2L435.6 1297.1L437.2 1298.5L438.8 1298.1L439.6 1298.2L440.4 1298.6L441.2 1298.6L442.0 1299.0L442.8 1299.6L443.6 1299.6L444.4 1299.4L446.0 1300.0L447.6 1299.6L449.2 1300.6L450.8 1300.8L451.6 1300.6L452.4 1300.8L454.0 1301.6L456.4 1301.7L458.8 1302.2L461.2 1303.2L462.8 1304.2L464.4 1304.0L466.0 1304.0L466.8 1304.3L467.6 1304.8L468.4 1304.8L469.2 1304.4L470.0 1304.4L472.4 1305.8L474.0 1306.3L474.8 1305.8L476.4 1305.4L477.2 1306.3L478.8 1307.2L479.6 1306.7L481.2 1306.4L482.0 1307.0L482.8 1307.3L483.6 1307.8L484.4 1307.6L486.0 1308.0L486.8 1308.4L487.6 1308.4L488.4 1308.0L489.2 1308.3L490.0 1308.3L490.8 1308.6L491.6 1308.5L492.4 1309.0L493.2 1309.1L494.8 1309.1L496.4 1308.6L497.2 1308.6L498.0 1308.7L498.8 1309.1L499.6 1309.3L500.4 1309.8L501.2 1309.9L502.0 1310.3L503.6 1309.6L504.4 1309.6L505.2 1309.7L507.6 1310.7L509.2 1310.4L510.8 1310.6L511.6 1310.8L512.4 1310.6L513.2 1310.7L514.8 1311.2L515.6 1311.0L517.2 1311.2L518.8 1310.6L520.4 1311.6L521.2 1312.2L522.0 1312.3L522.8 1312.3L523.6 1311.7L524.4 1311.4L526.8 1312.6L527.6 1311.9L528.4 1311.5L529.2 1311.7L530.0 1312.2L530.8 1312.2L534.0 1311.8L534.8 1311.8L535.6 1311.9L536.4 1312.3L537.2 1312.4L538.0 1312.4L538.8 1312.1L539.6 1312.1L540.4 1311.7L541.2 1311.6L542.0 1311.8L542.8 1312.2L543.6 1312.1L544.4 1312.7L545.2 1313.1L546.0 1313.2L546.8 1312.9L548.4 1313.1L550.0 1312.6L550.8 1312.8L551.6 1313.1L554.0 1313.3L555.6 1312.8L556.4 1312.9L557.2 1312.9L558.0 1313.1L558.8 1313.8L559.2 1314.3L559.6 1308.8L560.0 1314.3L560.4 1314.2L562.0 1314.5L562.8 1314.3L564.4 1313.4L565.2 1313.5L566.0 1313.9" fill="none" stroke="#363636" stroke-width="1.5" stroke-linejoin="round" stroke-opacity="1"/>
<path d="M138.0 1375.0L138.8 1374.6L140.4 1375.4L141.2 1375.2L142.8 1375.3L143.6 1375.2L144.4 1375.4L145.2 1375.8L146.0 1375.8L149.2 1374.3L150.8 1374.5L152.4 1374.2L154.0 1374.5L154.8 1373.9L155.6 1373.7L157.2 1373.1L158.0 1373.2L159.6 1374.1L160.4 1373.8L161.2 1373.9L162.0 1373.4L163.6 1373.2L164.4 1373.6L165.2 1373.6L166.8 1372.7L167.6 1372.7L168.4 1373.1L169.2 1373.1L170.0 1372.2L170.8 1372.1L171.6 1372.1L172.4 1372.4L173.2 1371.5L174.0 1371.1L174.8 1370.4L175.6 1370.6L176.4 1370.6L177.2 1370.9L178.0 1370.4L179.6 1370.0L181.2 1369.3L183.6 1368.9L185.2 1368.4L186.0 1367.6L186.8 1367.2L187.6 1367.2L188.4 1368.1L189.2 1368.3L190.8 1366.9L191.6 1367.0L192.4 1367.4L193.2 1367.5L194.8 1366.2L195.6 1366.2L196.4 1365.9L198.0 1364.8L198.8 1364.6L199.6 1364.1L201.2 1364.5L202.0 1364.1L202.8 1362.8L203.6 1362.1L204.4 1362.4L205.2 1362.9L206.8 1362.8L207.6 1362.1L209.2 1361.4L210.0 1361.3L210.8 1360.9L211.6 1360.8L213.2 1361.3L214.0 1360.5L214.8 1360.4L215.6 1360.7L216.4 1361.5L217.2 1360.9L218.0 1360.0L218.8 1359.4L219.6 1359.4L220.4 1359.5L221.2 1358.7L222.0 1358.2L222.8 1358.0L223.6 1358.1L224.4 1357.7L225.2 1357.9L226.0 1358.3L229.2 1357.2L230.0 1356.3L230.8 1356.1L232.4 1356.3L233.2 1356.3L234.0 1355.9L236.4 1355.4L237.2 1354.9L239.6 1355.0L241.2 1354.1L242.0 1353.8L242.8 1353.7L243.6 1353.9L245.2 1352.9L246.0 1352.7L246.8 1352.7L247.6 1352.2L248.4 1352.0L249.2 1352.1L250.0 1352.5L251.6 1352.3L252.4 1351.6L253.2 1351.2L254.8 1350.6L255.6 1350.0L256.4 1349.7L258.0 1349.6L259.6 1348.7L261.2 1349.6L262.0 1349.7L262.8 1348.9L263.6 1348.5L264.4 1347.8L266.0 1347.4L266.8 1348.1L267.6 1348.0L268.4 1347.5L269.2 1346.7L270.0 1346.2L270.8 1346.1L271.6 1345.8L273.2 1345.8L274.8 1345.2L275.6 1344.4L276.4 1343.8L277.2 1343.5L278.0 1344.2L278.8 1344.7L279.6 1344.4L281.2 1343.3L282.8 1342.9L283.6 1342.4L284.4 1342.2L285.2 1342.0L286.0 1342.2L287.6 1341.6L288.4 1341.1L290.0 1340.8L290.8 1340.8L292.4 1339.5L293.2 1339.5L294.0 1340.0L294.8 1340.1L296.4 1338.5L297.2 1338.1L298.0 1338.5L299.6 1339.0L301.2 1337.2L302.0 1336.6L303.6 1337.0L305.2 1337.0L306.0 1336.7L306.8 1336.8L308.4 1336.4L309.2 1335.7L310.8 1336.1L311.6 1335.6L312.4 1334.7L313.2 1334.4L314.0 1334.6L314.8 1334.3L315.6 1334.2L318.0 1333.2L318.8 1333.2L320.4 1331.9L321.2 1331.6L322.0 1331.8L322.8 1331.7L325.2 1330.1L326.0 1330.2L326.8 1329.5L327.6 1329.2L329.2 1328.9L330.0 1328.5L330.8 1327.3L332.4 1325.6L333.2 1325.5L334.8 1324.9L335.6 1324.0L336.4 1323.7L337.2 1323.6L338.0 1323.0L338.8 1322.0L339.6 1321.6L340.4 1321.4L341.2 1320.9L342.0 1320.7L342.8 1321.1L343.6 1321.1L345.2 1320.6L346.0 1320.6L346.8 1320.8L347.6 1320.7L348.4 1320.6L349.2 1320.1L350.0 1320.5L350.8 1320.7L352.4 1320.1L353.2 1320.2L354.0 1320.5L355.6 1320.5L356.4 1320.4L358.0 1320.5L358.8 1320.3L359.6 1320.2L360.4 1320.4L362.0 1320.0L362.8 1320.0L364.4 1321.1L365.2 1321.3L366.0 1321.3L366.8 1320.9L368.4 1320.6L369.2 1320.7L370.0 1320.2L370.8 1320.0L372.4 1320.8L374.0 1319.9L374.8 1320.1L375.6 1320.7L377.2 1320.5L378.0 1320.8L378.8 1321.6L380.4 1321.7L382.0 1322.2L382.8 1322.1L383.6 1322.2L386.0 1323.6L390.0 1323.9L391.6 1324.3L392.4 1324.9L394.0 1324.8L394.8 1324.9L395.6 1325.4L397.2 1325.7L398.8 1326.3L401.2 1326.5L402.8 1327.0L403.6 1327.1L404.4 1327.3L406.0 1328.6L408.4 1329.6L410.8 1330.4L412.4 1330.5L413.2 1330.9L414.0 1331.0L414.8 1330.8L415.6 1330.9L416.4 1331.6L417.2 1332.0L418.0 1332.0L418.8 1331.8L420.4 1333.3L421.2 1333.7L422.0 1333.6L422.8 1333.8L424.4 1334.8L426.0 1334.9L427.6 1336.0L429.2 1336.4L430.0 1336.4L430.8 1336.0L431.6 1335.8L433.2 1337.4L434.8 1337.5L435.6 1337.7L437.2 1339.1L438.0 1339.5L438.8 1339.3L439.6 1339.3L441.2 1340.1L442.0 1340.3L442.8 1340.8L443.6 1341.0L444.4 1340.7L445.2 1340.8L446.8 1342.1L448.4 1341.8L449.2 1342.0L450.0 1342.6L450.8 1343.0L453.2 1343.2L454.0 1343.5L454.8 1344.1L455.6 1344.4L458.8 1345.3L459.6 1345.1L462.0 1346.9L462.8 1346.4L463.6 1346.2L464.4 1346.2L465.2 1347.0L466.8 1347.7L467.6 1347.3L470.8 1348.9L472.4 1349.5L474.8 1349.3L475.6 1349.7L476.4 1350.4L477.2 1350.5L478.8 1350.2L481.2 1350.9L482.8 1351.6L485.2 1351.7L486.0 1352.2L487.6 1352.2L488.4 1351.8L490.8 1352.6L491.6 1352.8L492.4 1352.4L493.2 1352.6L495.6 1353.3L497.2 1354.4L498.8 1354.4L499.6 1354.0L501.2 1354.6L502.0 1354.4L502.8 1353.5L504.4 1355.1L505.2 1355.5L506.0 1355.2L506.8 1355.4L507.6 1355.9L509.2 1356.0L510.0 1355.8L510.8 1355.8L511.6 1355.4L512.4 1355.4L513.2 1355.6L515.6 1357.0L516.4 1356.6L517.2 1356.0L518.0 1355.6L518.8 1356.1L520.4 1357.3L522.0 1356.7L522.8 1356.8L523.6 1357.2L524.4 1357.0L526.0 1356.1L526.8 1356.1L527.6 1356.6L529.2 1357.4L530.0 1357.6L530.8 1357.9L531.6 1357.4L532.4 1357.6L534.0 1358.3L535.6 1357.3L536.4 1357.1L537.2 1357.5L538.0 1357.5L538.8 1357.3L541.2 1357.3L542.0 1357.4L542.8 1357.8L546.0 1357.5L547.6 1358.3L548.4 1358.2L549.2 1357.8L550.0 1358.0L550.8 1358.6L552.4 1358.3L553.2 1358.4L554.0 1358.7L554.8 1358.4L556.4 1358.5L557.2 1358.3L558.0 1358.6L559.2 1359.4L559.6 1353.9L560.0 1359.4L560.4 1359.4L561.2 1359.2L562.0 1358.7L562.8 1357.9L563.6 1358.1L565.2 1359.6L566.0 1359.8" fill="none" stroke="#363636" stroke-width="1.5" stroke-linejoin="round" stroke-opacity="1"/>
<path d="M138.0 1413.7L139.6 1414.5L141.2 1414.2L142.0 1414.1L142.8 1414.4L144.4 1413.3L145.2 1413.0L146.0 1413.0L146.8 1412.8L148.4 1412.1L149.2 1412.3L150.0 1412.1L151.6 1411.3L154.0 1412.2L157.2 1412.6L158.8 1411.8L159.6 1411.6L161.2 1411.7L162.8 1411.1L164.4 1411.3L166.0 1410.4L166.8 1410.3L167.6 1410.4L170.8 1410.1L171.6 1409.6L172.4 1409.7L174.0 1409.4L174.8 1409.5L175.6 1410.0L176.4 1410.0L177.2 1409.2L178.8 1408.0L179.6 1407.7L180.4 1407.2L182.8 1407.8L184.4 1407.1L185.2 1407.0L186.0 1407.0L186.8 1407.5L187.6 1407.6L189.2 1406.6L190.0 1406.8L190.8 1406.6L191.6 1406.6L192.4 1405.8L194.0 1405.5L194.8 1405.9L196.4 1405.5L197.2 1405.8L198.0 1405.7L198.8 1405.3L200.4 1405.6L201.2 1405.3L202.0 1404.9L203.6 1404.6L207.6 1403.3L209.2 1403.5L210.0 1403.4L210.8 1403.1L213.2 1402.8L214.0 1402.5L214.8 1402.6L216.4 1402.6L218.0 1401.9L218.8 1402.3L220.4 1402.3L221.2 1401.9L222.0 1401.7L222.8 1401.2L223.6 1401.2L225.2 1401.7L226.8 1400.6L227.6 1400.3L228.4 1400.5L231.6 1399.4L232.4 1399.7L234.0 1399.7L234.8 1399.6L235.6 1400.0L236.4 1399.9L237.2 1399.1L238.0 1398.0L238.8 1397.5L241.2 1398.2L242.0 1398.0L242.8 1397.6L243.6 1397.4L245.2 1397.6L246.0 1397.1L246.8 1396.9L248.4 1397.0L249.2 1396.5L250.0 1396.3L250.8 1396.5L251.6 1396.2L252.4 1395.3L253.2 1394.9L254.8 1395.7L255.6 1395.3L256.4 1394.7L257.2 1394.5L258.0 1394.6L259.6 1393.5L260.4 1393.5L261.2 1393.9L262.0 1393.6L263.6 1392.6L264.4 1392.5L265.2 1391.8L266.0 1391.6L267.6 1391.6L270.0 1390.0L270.8 1389.2L272.4 1389.5L274.0 1388.8L274.8 1388.8L275.6 1388.4L276.4 1387.6L277.2 1387.1L278.0 1387.1L279.6 1387.7L280.4 1387.5L281.2 1387.1L282.0 1386.4L283.6 1385.5L284.4 1385.8L285.2 1385.7L286.0 1385.8L287.6 1384.6L288.4 1383.3L289.2 1383.1L290.8 1383.8L292.4 1383.4L294.0 1382.6L295.6 1382.5L296.4 1382.2L298.0 1380.6L298.8 1380.2L299.6 1380.2L301.2 1379.4L302.0 1379.7L302.8 1380.1L303.6 1379.9L304.4 1379.4L306.0 1379.2L307.6 1378.0L308.4 1378.0L310.0 1377.6L312.4 1376.5L314.0 1376.0L316.4 1374.3L317.2 1374.2L318.0 1373.4L319.6 1372.5L320.4 1372.7L321.2 1372.4L322.0 1371.9L322.8 1371.9L325.2 1370.5L326.0 1370.6L327.6 1369.6L328.4 1368.9L330.8 1367.8L332.4 1366.5L334.8 1366.2L335.6 1365.5L336.4 1364.4L338.0 1361.6L339.6 1360.8L341.2 1359.5L342.0 1359.3L342.8 1359.3L344.4 1359.9L345.2 1360.3L346.0 1360.2L346.8 1360.3L347.6 1360.2L348.4 1360.3L349.2 1359.9L350.8 1360.9L351.6 1361.2L352.4 1360.7L353.2 1360.7L354.8 1361.7L355.6 1361.8L357.2 1360.8L358.8 1361.0L360.4 1361.8L361.2 1361.8L362.0 1361.2L362.8 1361.0L363.6 1361.2L365.2 1360.8L366.0 1361.0L366.8 1361.0L367.6 1360.6L368.4 1360.4L369.2 1360.8L370.0 1360.7L371.6 1360.8L372.4 1361.1L373.2 1361.2L374.0 1361.6L374.8 1361.7L375.6 1361.6L376.4 1361.1L377.2 1360.9L378.0 1361.3L378.8 1362.0L380.4 1362.7L382.0 1363.1L382.8 1363.1L384.4 1363.9L385.2 1364.5L386.0 1364.6L387.6 1364.5L388.4 1364.9L389.2 1365.1L393.2 1365.3L394.0 1365.9L395.6 1366.1L397.2 1367.2L398.0 1367.1L398.8 1367.2L399.6 1367.8L401.2 1368.1L402.0 1368.4L402.8 1369.2L403.6 1368.9L404.4 1369.0L405.2 1369.4L406.0 1370.6L406.8 1371.2L407.6 1371.5L408.4 1371.1L410.0 1371.5L410.8 1372.2L414.8 1372.3L415.6 1372.9L416.4 1373.3L417.2 1373.2L418.0 1372.8L421.2 1374.6L422.0 1374.8L422.8 1374.4L423.6 1373.9L424.4 1374.0L426.0 1375.5L426.8 1375.8L428.4 1375.4L431.6 1376.3L433.2 1377.2L434.0 1377.9L434.8 1378.2L437.2 1378.9L438.0 1378.9L438.8 1378.6L439.6 1379.2L441.2 1379.9L442.0 1379.6L444.4 1381.1L445.2 1381.1L446.0 1381.2L447.6 1382.8L449.2 1383.1L451.6 1383.1L453.2 1384.5L454.8 1384.4L455.6 1384.7L456.4 1385.2L457.2 1385.3L458.8 1385.7L459.6 1386.4L460.4 1386.6L462.0 1386.6L462.8 1387.0L463.6 1387.5L464.4 1387.5L465.2 1388.3L466.0 1388.8L466.8 1389.0L467.6 1388.7L469.2 1389.2L470.0 1389.0L471.6 1389.3L472.4 1389.6L473.2 1389.4L474.0 1389.3L475.6 1390.6L477.2 1391.0L478.0 1391.4L479.6 1392.0L482.0 1392.4L482.8 1392.6L483.6 1392.5L485.2 1393.0L487.6 1392.8L488.4 1393.0L489.2 1392.9L490.0 1393.7L490.8 1394.1L491.6 1394.0L492.4 1393.6L493.2 1393.9L494.0 1394.5L495.6 1394.1L496.4 1394.6L497.2 1395.3L498.0 1395.7L498.8 1395.4L500.4 1395.5L501.2 1395.4L502.0 1395.1L502.8 1395.3L503.6 1395.9L505.2 1396.6L506.0 1396.4L506.8 1396.6L507.6 1396.5L509.2 1395.9L510.0 1395.8L512.4 1397.1L514.0 1397.7L515.6 1397.7L517.2 1398.1L518.0 1398.1L518.8 1397.6L519.6 1397.5L522.8 1397.9L523.6 1397.8L524.4 1397.5L525.2 1397.5L527.6 1397.7L528.4 1397.9L529.2 1398.3L530.0 1398.3L530.8 1397.9L531.6 1397.8L532.4 1398.4L533.2 1398.7L534.0 1398.3L534.8 1397.4L535.6 1397.8L536.4 1398.4L537.2 1399.4L538.0 1399.5L538.8 1399.1L539.6 1398.5L540.4 1398.5L541.2 1398.8L542.8 1399.2L543.6 1398.9L544.4 1399.1L546.0 1399.1L546.8 1398.7L548.4 1399.6L549.2 1399.6L550.8 1399.3L552.4 1400.1L554.0 1399.2L554.8 1398.9L555.6 1399.1L558.0 1398.9L558.8 1399.3L559.2 1399.6L559.6 1394.1L560.0 1399.6L560.4 1400.0L561.2 1400.2L562.8 1399.4L564.4 1400.3L566.0 1400.3" fill="none" stroke="#363636" stroke-width="1.5" stroke-linejoin="round" stroke-opacity="1"/>
<path d="M138.0 1464.3L139.6 1464.7L140.4 1464.4L142.0 1463.3L142.8 1462.9L143.6 1462.8L144.4 1463.2L145.2 1463.0L146.0 1462.5L146.8 1462.3L147.6 1462.6L149.2 1462.1L150.8 1462.3L152.4 1462.1L153.2 1461.8L154.8 1460.6L155.6 1460.3L156.4 1460.2L158.0 1460.9L158.8 1460.7L159.6 1459.9L160.4 1459.6L162.0 1460.2L162.8 1460.2L164.4 1460.5L165.2 1460.2L166.0 1459.0L166.8 1458.6L167.6 1458.7L168.4 1459.0L169.2 1458.5L170.0 1458.4L170.8 1458.1L171.6 1458.1L173.2 1457.7L174.0 1457.3L176.4 1457.6L178.8 1456.5L180.4 1456.4L182.0 1456.8L182.8 1456.7L183.6 1456.4L184.4 1455.8L186.0 1455.6L186.8 1455.8L189.2 1454.2L193.2 1454.3L194.0 1454.7L196.4 1453.4L198.0 1453.3L199.6 1452.8L200.4 1452.4L202.0 1452.8L203.6 1452.5L205.2 1451.9L206.0 1451.9L206.8 1452.2L207.6 1452.2L209.2 1451.9L210.0 1451.6L210.8 1450.7L211.6 1450.1L212.4 1449.9L214.0 1450.6L214.8 1450.4L216.4 1449.7L217.2 1449.7L218.0 1449.9L218.8 1449.9L220.4 1449.2L222.0 1449.1L223.6 1448.4L224.4 1448.3L225.2 1447.9L226.8 1447.3L227.6 1447.9L228.4 1448.1L230.8 1446.6L232.4 1446.2L233.2 1446.4L234.0 1446.1L235.6 1444.9L241.2 1444.2L242.0 1443.9L243.6 1443.1L244.4 1442.9L246.8 1442.8L248.4 1442.6L249.2 1442.3L250.0 1441.7L252.4 1441.3L253.2 1440.7L254.0 1440.7L255.6 1439.6L256.4 1439.3L257.2 1439.3L258.8 1438.2L259.6 1438.1L260.4 1437.8L262.0 1435.9L262.8 1436.0L263.6 1436.4L265.2 1435.4L266.0 1435.4L266.8 1435.7L267.6 1435.1L269.2 1433.5L271.6 1433.6L272.4 1433.3L273.2 1432.6L274.8 1431.7L275.6 1431.6L277.2 1430.6L279.6 1430.0L280.4 1429.6L281.2 1429.4L282.0 1429.6L282.8 1429.3L284.4 1427.4L286.0 1427.4L287.6 1426.4L288.4 1426.2L289.2 1426.6L290.0 1426.6L290.8 1426.3L293.2 1425.3L294.8 1424.3L295.6 1424.0L296.4 1424.1L297.2 1423.7L298.0 1423.0L298.8 1422.6L299.6 1422.7L302.0 1421.3L302.8 1421.3L303.6 1420.9L304.4 1420.3L305.2 1419.5L306.8 1418.3L307.6 1418.0L310.0 1416.6L311.6 1414.8L312.4 1414.4L313.2 1414.5L314.0 1414.1L314.8 1413.5L316.4 1411.9L318.0 1409.9L319.6 1409.3L320.4 1409.3L321.2 1408.7L322.8 1406.9L323.6 1405.4L325.2 1404.3L326.0 1404.5L326.8 1404.0L327.6 1403.6L329.2 1401.5L330.0 1400.7L331.6 1399.7L333.2 1397.8L334.8 1396.5L335.6 1395.6L337.2 1394.3L340.4 1392.2L341.2 1391.4L342.8 1391.0L344.4 1391.3L345.2 1391.6L346.0 1392.2L347.6 1391.9L348.4 1392.2L350.0 1393.2L350.8 1393.0L351.6 1393.4L352.4 1393.6L353.2 1394.0L354.0 1393.7L354.8 1393.6L356.4 1393.8L357.2 1394.4L358.0 1394.3L358.8 1394.6L359.6 1394.1L360.4 1394.1L361.2 1394.0L362.0 1394.1L363.6 1393.7L365.2 1394.2L366.0 1394.7L367.6 1393.9L369.2 1393.8L370.8 1393.0L372.4 1393.3L373.2 1393.8L374.8 1394.4L376.4 1394.3L377.2 1394.0L380.4 1394.4L382.0 1395.0L382.8 1395.1L383.6 1395.0L384.4 1394.6L386.8 1396.1L387.6 1396.1L390.0 1397.0L390.8 1397.5L392.4 1398.0L393.2 1398.4L394.0 1399.0L395.6 1399.1L396.4 1399.6L398.0 1400.9L398.8 1401.1L400.4 1401.0L402.0 1401.6L402.8 1401.8L405.2 1403.6L406.0 1403.3L407.6 1403.8L408.4 1405.1L409.2 1405.0L410.0 1405.3L410.8 1405.7L411.6 1406.9L412.4 1406.9L413.2 1406.6L414.0 1406.6L414.8 1406.9L415.6 1407.6L418.0 1408.9L418.8 1409.6L419.6 1409.9L420.4 1409.8L421.2 1410.1L422.0 1410.1L422.8 1410.5L423.6 1410.6L425.2 1411.7L426.0 1411.8L426.8 1411.6L427.6 1411.8L428.4 1412.3L429.2 1412.5L430.8 1412.6L431.6 1413.1L432.4 1413.9L433.2 1414.0L434.0 1414.4L434.8 1414.9L435.6 1415.9L437.2 1415.7L438.8 1416.2L439.6 1416.2L440.4 1416.0L441.2 1416.5L442.8 1418.2L443.6 1418.7L445.2 1418.8L446.0 1418.6L447.6 1418.9L449.2 1419.8L450.0 1420.0L450.8 1420.2L451.6 1419.8L452.4 1420.8L454.0 1421.5L454.8 1421.4L456.4 1422.1L458.0 1422.6L458.8 1422.4L459.6 1422.6L461.2 1423.7L462.0 1423.9L462.8 1424.2L464.4 1425.7L466.0 1425.9L466.8 1425.5L468.4 1425.5L469.2 1425.8L471.6 1427.4L472.4 1427.2L473.2 1427.8L474.8 1428.6L475.6 1428.5L476.4 1429.1L477.2 1429.8L478.0 1430.2L479.6 1429.9L481.2 1431.1L484.4 1432.6L485.2 1432.5L487.6 1432.7L488.4 1432.7L490.8 1433.3L492.4 1433.6L493.2 1433.9L494.8 1434.9L495.6 1434.9L496.4 1435.2L497.2 1435.0L498.0 1435.2L498.8 1435.6L499.6 1436.3L501.2 1436.7L502.0 1436.8L503.6 1436.6L504.4 1436.7L506.8 1437.3L508.4 1437.4L509.2 1437.3L510.0 1437.4L511.6 1438.4L512.4 1438.4L513.2 1438.7L514.0 1438.8L515.6 1438.7L516.4 1439.3L518.0 1439.3L518.8 1439.5L519.6 1440.1L520.4 1439.9L522.0 1439.3L523.6 1440.1L524.4 1440.1L525.2 1439.9L526.0 1440.0L527.6 1439.7L529.2 1440.5L530.0 1440.4L530.8 1440.1L532.4 1440.1L533.2 1440.0L534.0 1439.5L534.8 1439.5L536.4 1439.6L538.8 1440.5L539.6 1440.1L540.4 1440.3L542.0 1440.1L542.8 1439.9L544.4 1440.8L546.0 1440.9L548.4 1440.6L549.2 1440.4L550.0 1440.0L550.8 1440.2L551.6 1441.1L552.4 1441.5L554.0 1441.2L554.8 1441.4L555.6 1441.4L557.2 1441.8L558.0 1441.8L559.2 1440.9L559.6 1435.4L560.0 1440.9L561.2 1441.2L562.0 1441.3L562.8 1441.6L563.6 1442.2L564.4 1442.4L565.2 1441.9L566.0 1441.7" fill="none" stroke="#363636" stroke-width="1.5" stroke-linejoin="round" stroke-opacity="1"/>
<path d="M847.0 105.2L871.8 106.5L899.8 108.3L924.6 110.2L944.2 112.1L957.4 113.8L967.4 115.4L974.6 117.0L981.0 119.6L983.4 120.4L987.8 121.0L993.4 121.6L1009.8 122.4L1023.8 122.7L1024.6 122.3L1026.2 120.9L1027.0 120.6L1039.8 120.3L1063.0 120.6L1070.2 120.8L1072.6 121.1L1076.2 122.1L1080.2 123.9L1081.8 124.8L1083.0 125.8L1085.4 128.9L1086.2 130.6L1087.0 133.0L1087.8 136.9L1093.8 220.4L1094.6 228.7L1095.0 230.0L1095.4 228.3L1095.8 223.9L1097.0 204.9L1098.6 170.2L1100.2 143.1L1101.4 127.1L1101.8 123.5L1102.2 122.9L1103.0 123.4L1104.2 124.6L1105.0 125.0L1146.6 125.1L1186.6 125.7L1228.2 126.8L1271.0 128.4" fill="none" stroke="#626262" stroke-width="1.9" stroke-linejoin="round" stroke-opacity="1"/>
<path d="M847.0 174.8L869.4 175.9L893.4 177.4L929.0 179.8L946.6 181.3L956.6 182.4L961.4 183.2L976.2 187.0L987.0 189.4L995.8 190.4L1005.8 191.3L1015.0 191.8L1023.8 192.0L1025.4 191.5L1029.0 189.2L1029.8 189.0L1032.6 189.0L1042.2 189.4L1074.2 191.2L1080.6 191.8L1085.8 192.5L1087.0 192.8L1088.2 193.4L1089.4 194.4L1090.2 195.3L1091.0 198.3L1092.2 204.5L1094.6 215.0L1095.4 217.4L1095.8 217.9L1096.2 217.9L1096.6 217.4L1097.8 213.6L1099.0 208.7L1100.2 201.5L1101.0 198.0L1102.2 195.3L1103.0 194.1L1104.2 192.9L1105.8 192.0L1161.4 192.2L1183.0 192.6L1203.0 193.1L1222.2 194.0L1240.2 195.0L1257.8 196.4L1274.6 198.0" fill="none" stroke="#626262" stroke-width="1.9" stroke-linejoin="round" stroke-opacity="1"/>
<path d="M847.0 237.6L871.8 238.6L899.8 240.2L929.4 242.2L950.2 244.0L963.0 245.6L969.8 246.6L986.6 250.7L993.4 252.7L997.0 253.3L1012.2 253.8L1028.2 254.0L1029.4 253.8L1031.8 252.8L1033.0 252.5L1045.8 252.6L1065.8 253.2L1096.2 255.0L1169.0 257.3L1225.0 258.5L1274.6 258.9" fill="none" stroke="#626262" stroke-width="1.9" stroke-linejoin="round" stroke-opacity="1"/>
<path d="M847.0 293.8L872.2 295.1L900.2 296.8L927.8 298.8L946.2 300.5L954.2 301.4L962.2 302.7L977.0 305.7L988.2 308.6L997.4 310.1L1003.4 310.7L1027.0 311.0L1028.2 310.7L1030.6 309.7L1031.8 309.5L1068.6 309.9L1109.4 310.7L1150.6 311.8L1191.4 313.2L1231.8 314.9L1271.8 316.9" fill="none" stroke="#626262" stroke-width="1.9" stroke-linejoin="round" stroke-opacity="1"/>
<path d="M847.0 349.6L859.8 349.8L875.4 350.4L891.4 351.3L903.8 352.3L927.0 355.1L958.6 360.3L973.8 362.4L979.4 362.9L1077.0 362.9L1129.4 363.3L1197.4 364.3L1274.6 366.0" fill="none" stroke="#626262" stroke-width="1.9" stroke-linejoin="round" stroke-opacity="1"/>
<path d="M847.0 402.2L855.8 402.3L865.4 402.8L887.4 404.5L893.0 405.5L913.0 409.9L925.0 411.3L937.4 412.1L973.8 413.4L1047.0 415.1L1095.0 416.6L1274.6 422.7" fill="none" stroke="#626262" stroke-width="1.9" stroke-linejoin="round" stroke-opacity="1"/>
<line x1="990.0" y1="108.8" x2="990.0" y2="115.4" stroke="#8a8a8a" stroke-width="1.1"/>
<path d="M988.1,113.4 L991.9,113.4 L990.7,121.4 L989.3,121.4 Z" fill="#111"/>
<text x="961.0" y="101.8" font-size="19.5" text-anchor="start" fill="#1a1a1a" style="stroke-width:0">70.9 °C</text>
<line x1="988.9" y1="175.6" x2="988.9" y2="183.7" stroke="#8a8a8a" stroke-width="1.1"/>
<path d="M987.0,181.7 L990.8,181.7 L989.6,189.7 L988.2,189.7 Z" fill="#111"/>
<text x="961.0" y="166.6" font-size="19.5" text-anchor="start" fill="#1a1a1a" style="stroke-width:0">70.7 °C</text>
<line x1="986.8" y1="237.3" x2="986.8" y2="244.6" stroke="#8a8a8a" stroke-width="1.1"/>
<path d="M984.9,242.6 L988.7,242.6 L987.5,250.6 L986.1,250.6 Z" fill="#111"/>
<text x="958.6" y="230.2" font-size="19.5" text-anchor="start" fill="#1a1a1a" style="stroke-width:0">70.5 °C</text>
<line x1="976.6" y1="292.2" x2="976.6" y2="299.6" stroke="#8a8a8a" stroke-width="1.1"/>
<path d="M974.7,297.6 L978.5,297.6 L977.3,305.6 L975.9,305.6 Z" fill="#111"/>
<text x="942.0" y="284.0" font-size="19.5" text-anchor="start" fill="#1a1a1a" style="stroke-width:0">64.5 °C</text>
<line x1="940.0" y1="342.5" x2="940.0" y2="350.6" stroke="#8a8a8a" stroke-width="1.1"/>
<path d="M938.1,348.6 L941.9,348.6 L940.7,356.6 L939.3,356.6 Z" fill="#111"/>
<text x="905.2" y="333.4" font-size="19.5" text-anchor="start" fill="#1a1a1a" style="stroke-width:0">53.4 °C</text>
<line x1="914.0" y1="392.7" x2="914.0" y2="400.9" stroke="#8a8a8a" stroke-width="1.1"/>
<path d="M912.1,398.9 L915.9,398.9 L914.7,406.9 L913.3,406.9 Z" fill="#111"/>
<text x="883.2" y="386.9" font-size="19.5" text-anchor="start" fill="#1a1a1a" style="stroke-width:0">42.1 °C</text>
<path d="M845.0 628.3L855.4 628.4L865.8 628.8L878.2 629.7L881.8 630.2L885.4 631.5L888.6 633.1L898.6 641.7L900.2 642.8L903.8 643.9L909.0 644.7L936.6 645.9L965.8 646.3L967.8 645.9L972.6 643.5L977.0 642.0L979.4 641.3L981.4 641.1L997.4 641.1L1011.8 643.6L1018.2 645.0L1024.6 647.3L1031.0 650.1L1041.4 655.7L1053.4 660.4L1057.0 662.5L1060.2 664.7L1063.0 667.2L1065.4 669.9L1067.4 672.7L1069.0 675.5L1071.8 682.2L1074.2 690.1L1077.0 702.3L1079.4 715.6L1080.6 724.1L1082.6 747.6L1083.8 756.5L1084.6 764.2L1086.2 786.2L1087.4 811.8L1089.8 921.8L1090.6 945.1L1091.0 948.5L1099.0 948.5L1099.8 825.8L1100.6 760.2L1102.6 677.4L1103.0 666.7L1103.4 661.0L1104.2 655.6L1105.0 655.6L1106.2 655.8L1113.0 658.5L1115.0 659.0L1116.6 658.8L1120.6 656.8L1122.2 656.5L1161.4 656.6L1189.8 657.1L1212.6 658.0L1233.8 659.3L1253.8 661.1L1272.6 663.4" fill="none" stroke="#626262" stroke-width="1.9" stroke-linejoin="round" stroke-opacity="1"/>
<path d="M845.0 678.5L852.6 678.7L860.6 679.1L881.8 681.2L887.8 682.3L901.0 685.2L915.8 688.2L934.6 691.6L944.6 693.0L954.6 693.6L972.2 694.4L1036.6 695.8L1051.0 698.5L1055.8 699.9L1059.4 701.3L1063.0 703.4L1065.0 705.0L1065.8 705.9L1067.4 708.4L1070.6 714.3L1073.8 721.3L1078.6 736.2L1081.8 748.6L1087.8 760.1L1089.8 765.3L1090.6 769.7L1093.0 788.4L1093.8 792.2L1094.2 793.0L1094.6 792.6L1095.4 788.6L1097.8 768.0L1099.4 747.9L1102.2 700.3L1102.6 698.3L1103.4 697.4L1103.8 697.2L1104.6 697.2L1109.8 698.3L1133.4 700.1L1155.8 701.5L1178.6 702.7L1220.2 704.0L1262.6 704.5" fill="none" stroke="#626262" stroke-width="1.9" stroke-linejoin="round" stroke-opacity="1"/>
<path d="M845.0 732.7L867.8 733.8L898.6 735.7L909.8 736.5L918.6 737.4L923.8 738.2L930.2 739.6L959.4 746.7L965.0 747.5L976.6 748.4L988.2 749.0L998.2 749.2L1004.6 749.0L1025.4 747.6L1060.2 747.6L1071.8 747.8L1081.8 748.5L1082.6 748.7L1083.4 749.2L1086.2 752.2L1087.4 753.8L1091.4 760.1L1092.6 761.4L1093.8 762.0L1094.2 762.0L1095.0 761.0L1097.8 753.0L1098.6 751.4L1100.2 750.3L1101.8 749.8L1155.0 749.9L1194.6 750.3L1230.2 751.1L1262.6 752.4" fill="none" stroke="#626262" stroke-width="1.9" stroke-linejoin="round" stroke-opacity="1"/>
<path d="M845.0 783.6L865.4 785.0L888.2 786.8L905.8 788.4L920.6 790.1L964.2 796.6L968.2 797.5L976.6 800.1L980.2 800.9L987.4 801.8L993.0 802.3L997.4 802.4L1002.2 802.3L1020.6 800.8L1028.6 800.5L1085.8 801.5L1087.0 801.8L1089.4 802.9L1090.2 803.0L1098.2 803.0L1101.0 802.0L1141.0 802.1L1170.6 802.3L1196.2 802.8L1219.8 803.6L1241.8 804.6L1262.6 806.0" fill="none" stroke="#626262" stroke-width="1.9" stroke-linejoin="round" stroke-opacity="1"/>
<path d="M845.0 840.1L895.0 845.7L949.0 852.2L958.6 853.9L969.4 857.1L973.0 858.0L981.8 859.7L987.4 860.4L1005.8 860.8L1068.6 861.5L1097.0 862.1L1126.2 863.1L1159.0 864.6L1192.6 866.3L1227.0 868.5L1262.6 871.0" fill="none" stroke="#626262" stroke-width="1.9" stroke-linejoin="round" stroke-opacity="1"/>
<path d="M845.0 896.6L852.6 896.8L861.0 897.2L881.4 899.3L887.0 900.3L907.4 904.9L911.8 906.0L920.6 908.7L924.6 909.7L935.0 911.1L947.8 912.2L985.0 913.9L1081.4 917.0L1088.2 917.6L1089.0 918.3L1090.2 920.0L1091.0 920.5L1097.0 920.5L1097.8 920.1L1099.4 918.3L1100.2 918.0L1138.6 918.1L1166.6 918.4L1193.4 919.0L1217.8 920.0L1240.6 921.4L1262.6 923.3" fill="none" stroke="#626262" stroke-width="1.9" stroke-linejoin="round" stroke-opacity="1"/>
<line x1="900.5" y1="627.5" x2="900.5" y2="636.4" stroke="#8a8a8a" stroke-width="1.1"/>
<path d="M898.6,634.4 L902.4,634.4 L901.2,642.4 L899.8,642.4 Z" fill="#111"/>
<text x="887.1" y="617.7" font-size="19.5" text-anchor="start" fill="#1a1a1a" style="stroke-width:0">38.9 °C</text>
<line x1="917.7" y1="673.8" x2="917.7" y2="682.7" stroke="#8a8a8a" stroke-width="1.1"/>
<path d="M915.8,680.7 L919.6,680.7 L918.4,688.7 L917.0,688.7 Z" fill="#111"/>
<text x="902.8" y="668.7" font-size="19.5" text-anchor="start" fill="#1a1a1a" style="stroke-width:0">47.1 °C</text>
<line x1="944.0" y1="728.8" x2="944.0" y2="736.9" stroke="#8a8a8a" stroke-width="1.1"/>
<path d="M942.1,734.9 L945.9,734.9 L944.7,742.9 L943.3,742.9 Z" fill="#111"/>
<text x="923.2" y="722.9" font-size="19.5" text-anchor="start" fill="#1a1a1a" style="stroke-width:0">57.0 °C</text>
<line x1="966.4" y1="778.8" x2="966.4" y2="790.9" stroke="#8a8a8a" stroke-width="1.1"/>
<path d="M964.5,788.9 L968.3,788.9 L967.1,796.9 L965.7,796.9 Z" fill="#111"/>
<text x="951.5" y="771.6" font-size="19.5" text-anchor="start" fill="#1a1a1a" style="stroke-width:0">63.9 °C</text>
<line x1="955.9" y1="837.7" x2="955.9" y2="846.7" stroke="#8a8a8a" stroke-width="1.1"/>
<path d="M954.0,844.7 L957.8,844.7 L956.6,852.7 L955.2,852.7 Z" fill="#111"/>
<text x="942.1" y="832.6" font-size="19.5" text-anchor="start" fill="#1a1a1a" style="stroke-width:0">61.1 °C</text>
<line x1="909.6" y1="893.5" x2="909.6" y2="899.3" stroke="#8a8a8a" stroke-width="1.1"/>
<path d="M907.7,897.3 L911.5,897.3 L910.3,905.3 L908.9,905.3 Z" fill="#111"/>
<text x="892.6" y="889.2" font-size="19.5" text-anchor="start" fill="#1a1a1a" style="stroke-width:0">42.6 °C</text>
<path d="M847.0 1149.6L892.6 1154.1L941.4 1158.6L970.2 1161.0L1029.4 1165.4L1059.8 1168.5L1099.4 1171.9L1126.2 1174.6L1138.2 1176.3L1143.4 1177.2L1146.6 1178.0L1151.4 1179.5L1157.0 1181.6L1163.0 1185.1L1165.0 1186.0L1166.6 1186.5L1171.8 1187.1L1177.0 1187.4L1179.8 1187.0L1184.6 1185.4L1190.6 1181.8L1191.8 1181.4L1193.8 1181.4L1200.2 1181.8L1231.8 1185.2L1264.2 1189.1" fill="none" stroke="#626262" stroke-width="1.9" stroke-linejoin="round" stroke-opacity="1"/>
<path d="M847.0 1171.6L856.2 1172.3L867.0 1173.6L881.8 1175.9L889.8 1177.7L893.8 1178.8L897.0 1180.2L903.4 1183.7L908.2 1186.8L910.2 1187.9L914.6 1189.6L917.8 1190.4L927.4 1191.1L967.4 1192.8L985.4 1193.9L995.4 1194.9L1004.6 1196.1L1013.4 1197.6L1019.0 1199.0L1024.6 1200.7L1029.8 1202.8L1033.8 1205.0L1038.2 1208.0L1041.8 1210.7L1045.0 1213.7L1052.6 1221.7L1057.0 1226.9L1059.0 1228.9L1060.6 1230.1L1063.8 1231.6L1065.4 1232.7L1066.2 1233.7L1067.0 1235.2L1068.6 1239.3L1069.8 1243.4L1071.0 1250.3L1075.0 1286.6L1081.4 1352.4L1085.8 1394.1L1087.4 1405.9L1088.2 1409.1L1088.6 1409.8L1089.0 1409.7L1089.4 1408.3L1090.2 1402.0L1091.4 1386.9L1092.2 1373.9L1095.8 1268.5L1097.4 1237.1L1098.6 1219.4L1099.0 1216.6L1099.4 1216.5L1100.2 1217.0L1102.6 1219.6L1103.4 1220.1L1108.6 1221.1L1119.4 1222.3L1265.8 1241.7" fill="none" stroke="#626262" stroke-width="1.9" stroke-linejoin="round" stroke-opacity="1"/>
<path d="M847.0 1210.1L859.4 1211.1L873.0 1212.8L890.6 1215.4L900.6 1217.3L906.2 1219.0L917.8 1223.9L929.4 1227.9L944.6 1233.6L951.0 1235.4L963.4 1238.1L973.4 1239.7L983.4 1240.9L994.6 1241.9L1025.4 1243.9L1030.2 1244.4L1033.8 1245.0L1039.4 1246.6L1044.6 1248.8L1045.8 1249.6L1047.8 1251.7L1049.0 1252.5L1053.8 1253.3L1054.6 1253.9L1055.8 1255.5L1057.8 1259.6L1060.2 1265.8L1061.8 1271.8L1063.4 1280.1L1065.4 1296.6L1068.6 1316.6L1073.0 1339.9L1074.2 1343.7L1074.6 1344.3L1075.0 1344.4L1075.4 1344.0L1075.8 1343.1L1076.6 1340.1L1079.0 1326.2L1082.2 1292.9L1084.2 1274.5L1085.4 1265.8L1087.0 1259.8L1089.0 1255.0L1089.8 1253.8L1091.4 1252.1L1092.6 1251.1L1093.8 1250.5L1094.6 1250.3L1097.4 1250.4L1103.4 1251.0L1139.0 1256.9L1159.4 1259.6L1219.4 1265.8L1265.8 1270.2" fill="none" stroke="#626262" stroke-width="1.9" stroke-linejoin="round" stroke-opacity="1"/>
<path d="M847.0 1258.8L859.4 1259.5L872.6 1260.5L905.0 1263.8L923.4 1266.4L949.4 1271.0L963.4 1274.0L972.6 1276.5L977.0 1278.3L985.0 1282.8L988.2 1284.3L997.8 1288.0L1000.6 1288.9L1003.4 1289.3L1022.2 1289.2L1032.2 1288.9L1036.2 1288.6L1037.0 1288.4L1037.8 1287.9L1040.2 1285.8L1042.2 1283.8L1043.0 1283.4L1043.4 1283.4L1044.2 1283.7L1046.6 1285.4L1051.4 1286.1L1063.4 1286.4L1094.2 1286.9L1114.2 1287.7L1176.2 1291.7L1264.2 1296.9" fill="none" stroke="#626262" stroke-width="1.9" stroke-linejoin="round" stroke-opacity="1"/>
<path d="M847.0 1294.7L877.0 1298.1L916.6 1303.2L936.6 1306.3L952.6 1309.4L961.8 1311.7L969.0 1313.9L974.2 1316.0L981.4 1319.1L989.0 1322.9L995.4 1325.3L1000.6 1326.8L1004.2 1327.6L1008.6 1328.2L1029.4 1329.9L1035.0 1330.6L1038.2 1331.3L1039.8 1331.9L1040.6 1332.6L1043.0 1337.6L1043.8 1338.8L1044.2 1339.0L1044.6 1338.9L1045.4 1337.8L1049.0 1329.6L1049.8 1328.2L1050.2 1327.8L1055.8 1327.1L1063.4 1327.1L1071.4 1327.6L1092.2 1330.1L1265.8 1347.3" fill="none" stroke="#626262" stroke-width="1.9" stroke-linejoin="round" stroke-opacity="1"/>
<path d="M847.0 1340.3L874.2 1342.8L906.2 1346.4L925.8 1349.1L942.6 1352.1L951.8 1354.2L959.4 1356.6L963.0 1358.2L972.6 1363.4L981.4 1367.4L985.8 1369.2L988.6 1370.0L994.6 1371.2L1004.6 1372.7L1012.2 1373.2L1026.6 1372.9L1033.4 1372.4L1036.6 1370.7L1037.4 1370.5L1041.4 1370.4L1046.2 1370.5L1059.8 1371.5L1087.8 1372.8L1111.4 1374.2L1163.8 1377.7L1215.8 1381.9L1265.8 1386.7" fill="none" stroke="#626262" stroke-width="1.9" stroke-linejoin="round" stroke-opacity="1"/>
<path d="M847.0 1387.4L861.0 1388.4L876.6 1390.0L891.4 1391.9L904.6 1394.0L917.8 1396.7L931.8 1400.1L938.2 1401.8L951.4 1406.1L956.6 1407.5L969.4 1410.1L979.0 1411.5L995.8 1412.5L1031.8 1413.7L1048.2 1414.6L1134.2 1420.3L1265.8 1428.6" fill="none" stroke="#626262" stroke-width="1.9" stroke-linejoin="round" stroke-opacity="1"/>
<path d="M847.0 1418.0L873.4 1420.5L892.2 1422.0L899.4 1422.9L904.6 1423.9L908.6 1425.5L911.0 1426.8L912.2 1427.6L924.2 1439.0L931.0 1444.1L932.6 1444.9L934.2 1445.5L941.8 1446.9L960.6 1448.7L997.0 1451.0L1065.0 1456.1L1211.8 1468.9L1254.6 1471.6L1269.4 1473.2L1273.8 1474.2" fill="none" stroke="#626262" stroke-width="1.9" stroke-linejoin="round" stroke-opacity="1"/>
<line x1="1164.2" y1="1169.4" x2="1164.2" y2="1175.4" stroke="#8a8a8a" stroke-width="1.1"/>
<path d="M1162.3,1173.4 L1166.1,1173.4 L1164.9,1181.4 L1163.5,1181.4 Z" fill="#111"/>
<text x="1133.3" y="1162.9" font-size="19.5" text-anchor="start" fill="#1a1a1a" style="stroke-width:0">135.9 °C</text>
<line x1="906.0" y1="1172.5" x2="906.0" y2="1179.0" stroke="#8a8a8a" stroke-width="1.1"/>
<path d="M904.1,1177.0 L907.9,1177.0 L906.7,1185.0 L905.3,1185.0 Z" fill="#111"/>
<text x="915.4" y="1177.5" font-size="19.5" text-anchor="start" fill="#1a1a1a" style="stroke-width:0">40.3 °C</text>
<line x1="928.7" y1="1216.5" x2="928.7" y2="1222.1" stroke="#8a8a8a" stroke-width="1.1"/>
<path d="M926.8,1220.1 L930.6,1220.1 L929.4,1228.1 L928.0,1228.1 Z" fill="#111"/>
<text x="917.7" y="1212.8" font-size="19.5" text-anchor="start" fill="#1a1a1a" style="stroke-width:0">49.6 °C</text>
<line x1="973.5" y1="1262.5" x2="973.5" y2="1270.0" stroke="#8a8a8a" stroke-width="1.1"/>
<path d="M971.6,1268.0 L975.4,1268.0 L974.2,1276.0 L972.8,1276.0 Z" fill="#111"/>
<text x="953.1" y="1261.5" font-size="19.5" text-anchor="start" fill="#1a1a1a" style="stroke-width:0">67.8 °C</text>
<line x1="986.0" y1="1308.8" x2="986.0" y2="1315.4" stroke="#8a8a8a" stroke-width="1.1"/>
<path d="M984.1,1313.4 L987.9,1313.4 L986.7,1321.4 L985.3,1321.4 Z" fill="#111"/>
<text x="946.8" y="1306.1" font-size="19.5" text-anchor="start" fill="#1a1a1a" style="stroke-width:0">71.2 °C</text>
<line x1="971.9" y1="1349.7" x2="971.9" y2="1356.2" stroke="#8a8a8a" stroke-width="1.1"/>
<path d="M970.0,1354.2 L973.8,1354.2 L972.6,1362.2 L971.2,1362.2 Z" fill="#111"/>
<text x="933.4" y="1346.9" font-size="19.5" text-anchor="start" fill="#1a1a1a" style="stroke-width:0">64.0 °C</text>
<line x1="938.9" y1="1388.5" x2="938.9" y2="1393.9" stroke="#8a8a8a" stroke-width="1.1"/>
<path d="M937.0,1391.9 L940.8,1391.9 L939.6,1399.9 L938.2,1399.9 Z" fill="#111"/>
<text x="902.0" y="1385.4" font-size="19.5" text-anchor="start" fill="#1a1a1a" style="stroke-width:0">53.0 °C</text>
<line x1="917.3" y1="1420.0" x2="917.3" y2="1426.9" stroke="#8a8a8a" stroke-width="1.1"/>
<path d="M915.4,1424.9 L919.2,1424.9 L918.0,1432.9 L916.6,1432.9 Z" fill="#111"/>
<text x="874.5" y="1420.0" font-size="19.5" text-anchor="start" fill="#1a1a1a" style="stroke-width:0">43.3 °C</text>
</svg></body></html>
